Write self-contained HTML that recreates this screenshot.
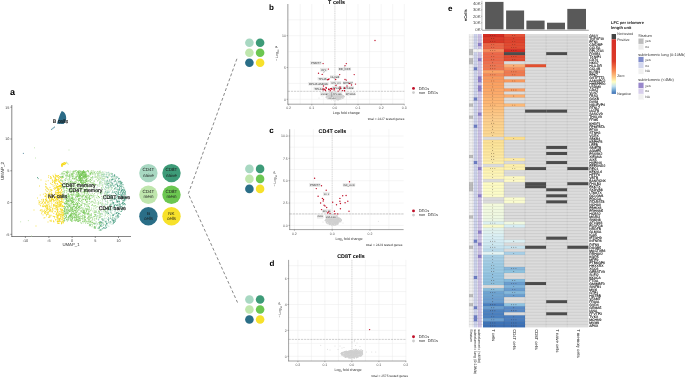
<!DOCTYPE html>
<html><head><meta charset="utf-8"><style>
html,body{margin:0;padding:0;background:#fff;}
svg{display:block;will-change:transform;}
text{font-family:"Liberation Sans", sans-serif;}
</style></head><body>
<svg width="685" height="378" viewBox="0 0 685 378" font-family="Liberation Sans, sans-serif" text-rendering="geometricPrecision">
<rect width="685" height="378" fill="#fff"/>
<text x="9.90" y="95.20" font-size="9" text-anchor="start" font-weight="bold" fill="#000">a</text>
<line x1="11.8" y1="105" x2="11.8" y2="236.8" stroke="#333" stroke-width="0.6"/>
<line x1="11.5" y1="236.5" x2="131" y2="236.5" stroke="#333" stroke-width="0.6"/>
<line x1="10.3" y1="107.2" x2="11.8" y2="107.2" stroke="#333" stroke-width="0.5"/>
<text x="9.40" y="108.55" font-size="3.8" text-anchor="end" fill="#444">15</text>
<line x1="10.3" y1="139" x2="11.8" y2="139" stroke="#333" stroke-width="0.5"/>
<text x="9.40" y="140.35" font-size="3.8" text-anchor="end" fill="#444">10</text>
<line x1="10.3" y1="170.8" x2="11.8" y2="170.8" stroke="#333" stroke-width="0.5"/>
<text x="9.40" y="172.15" font-size="3.8" text-anchor="end" fill="#444">5</text>
<line x1="10.3" y1="202.5" x2="11.8" y2="202.5" stroke="#333" stroke-width="0.5"/>
<text x="9.40" y="203.85" font-size="3.8" text-anchor="end" fill="#444">0</text>
<line x1="10.3" y1="234.3" x2="11.8" y2="234.3" stroke="#333" stroke-width="0.5"/>
<text x="9.40" y="235.65" font-size="3.8" text-anchor="end" fill="#444">-5</text>
<line x1="25.4" y1="236.5" x2="25.4" y2="238" stroke="#333" stroke-width="0.5"/>
<text x="25.40" y="241.90" font-size="3.8" text-anchor="middle" fill="#444">-10</text>
<line x1="48.9" y1="236.5" x2="48.9" y2="238" stroke="#333" stroke-width="0.5"/>
<text x="48.90" y="241.90" font-size="3.8" text-anchor="middle" fill="#444">-5</text>
<line x1="72.1" y1="236.5" x2="72.1" y2="238" stroke="#333" stroke-width="0.5"/>
<text x="72.10" y="241.90" font-size="3.8" text-anchor="middle" fill="#444">0</text>
<line x1="95.3" y1="236.5" x2="95.3" y2="238" stroke="#333" stroke-width="0.5"/>
<text x="95.30" y="241.90" font-size="3.8" text-anchor="middle" fill="#444">5</text>
<line x1="118.5" y1="236.5" x2="118.5" y2="238" stroke="#333" stroke-width="0.5"/>
<text x="118.50" y="241.90" font-size="3.8" text-anchor="middle" fill="#444">10</text>
<text x="71.00" y="246.00" font-size="4.3" text-anchor="middle" fill="#333">UMAP_1</text>
<text x="3.70" y="171.00" font-size="4.5" text-anchor="middle" fill="#333" transform="rotate(-90 3.70 171.00)">UMAP_2</text>
<path d="M61.8,111.0 C64.6,111.8 66.4,115.0 66.2,118.5 C66.0,121.0 64.9,123.0 63.6,123.9 L57.0,123.8 C58.4,119.0 59.8,114.0 61.8,111.0 Z" fill="#2b6b87"/>
<path d="M52.2 199.1h0M59.4 178.3h0M63.2 206.5h0M53.6 176.5h0M53.4 205.8h0M56.6 196.6h0M60.5 209.2h0M47.1 188.1h0M58.9 193.7h0M50.7 177.2h0M59.1 187.1h0M58.7 179.5h0M59.5 182.5h0M44.9 206.0h0M51.3 184.2h0M63.4 214.1h0M61.5 184.1h0M60.8 205.9h0M47.7 212.5h0M48.5 177.2h0M54.8 185.8h0M60.0 186.1h0M58.3 221.0h0M62.9 218.1h0M51.3 178.7h0M57.5 186.5h0M55.1 188.3h0M57.8 177.0h0M54.3 216.5h0M47.9 196.0h0M63.6 206.7h0M54.9 180.6h0M57.4 222.1h0M56.0 197.9h0M61.8 210.7h0M59.5 219.7h0M57.1 219.0h0M54.6 205.1h0M54.8 204.2h0M58.0 193.1h0M47.1 208.8h0M55.5 220.0h0M56.9 183.7h0M61.9 206.8h0M61.6 190.0h0M62.1 218.0h0M54.8 189.5h0M57.6 221.5h0M45.7 196.3h0M57.6 202.3h0M45.0 196.5h0M60.3 185.5h0M55.9 206.6h0M63.1 208.1h0M52.5 182.5h0M52.4 209.6h0M53.4 204.5h0M57.9 180.1h0M55.8 219.5h0M54.5 217.9h0M62.8 196.9h0M56.1 209.7h0M61.8 223.0h0M53.8 213.4h0M62.0 216.7h0M58.9 198.1h0M59.8 176.7h0M57.2 221.3h0M46.9 200.1h0M58.0 205.8h0M60.6 201.8h0M63.3 200.0h0M46.4 200.6h0M54.4 198.3h0M63.1 220.1h0M52.4 179.9h0M59.9 219.0h0M44.3 210.4h0M53.2 186.2h0M53.7 195.6h0M51.1 200.2h0M53.7 216.5h0M60.8 185.2h0M59.8 219.1h0M61.5 180.3h0M58.0 186.6h0M60.3 194.8h0M53.1 208.1h0M54.5 180.9h0M63.8 220.3h0M52.2 212.1h0M52.3 199.5h0M55.2 174.2h0M60.6 182.7h0M58.3 194.0h0M45.6 199.4h0M61.7 214.0h0M60.9 205.3h0M59.7 186.5h0M58.4 212.8h0M57.3 212.2h0M50.9 210.0h0M49.5 197.2h0M49.8 205.8h0M56.7 190.6h0M54.5 200.4h0M58.3 186.5h0M50.3 178.5h0M61.9 201.3h0M63.3 202.2h0M56.0 214.4h0M55.1 211.8h0M52.4 182.0h0M51.3 200.1h0M54.3 187.8h0M45.4 211.6h0M61.7 211.3h0M63.8 221.2h0M61.9 195.2h0M53.5 220.8h0M60.0 204.0h0M55.7 196.5h0M43.1 200.2h0M51.7 207.2h0M47.8 202.9h0M63.0 210.6h0M59.3 205.1h0M48.0 208.1h0M55.0 205.5h0M62.1 217.9h0M51.4 205.0h0M53.9 177.2h0M56.9 201.3h0M50.2 197.7h0M59.8 205.0h0M46.7 194.9h0M59.8 192.1h0M51.4 192.1h0M61.3 177.5h0M54.4 198.0h0M48.6 212.7h0M46.7 206.9h0M48.2 180.7h0M58.0 192.0h0M62.7 219.6h0M59.7 188.9h0M61.7 186.0h0M50.0 191.8h0M50.5 183.3h0M59.5 200.8h0M54.4 182.4h0M61.4 187.7h0M53.3 201.0h0M63.3 206.4h0M58.2 218.9h0M56.0 180.8h0M56.3 185.9h0M58.8 199.8h0M56.8 198.4h0M57.9 209.3h0M51.0 215.2h0M60.8 214.2h0M61.6 221.9h0M51.3 194.7h0M58.3 223.5h0M45.7 183.8h0M46.1 184.5h0M57.8 203.5h0M46.1 187.7h0M58.7 189.2h0M60.0 197.7h0M61.5 219.7h0M54.0 221.8h0M62.8 214.0h0M53.6 199.5h0M57.7 204.1h0M45.5 189.8h0M61.1 199.6h0M53.8 181.1h0M60.6 215.0h0M47.9 209.7h0M54.9 216.8h0M59.4 194.6h0M48.9 189.2h0M49.9 208.2h0M60.3 206.5h0M50.3 209.4h0M54.4 196.6h0M63.8 213.9h0M55.6 188.2h0M53.9 188.6h0M50.6 207.2h0M46.4 210.4h0M62.8 201.9h0M49.3 215.3h0M56.9 209.3h0M50.9 215.8h0M51.4 199.3h0M58.9 215.0h0M49.3 194.3h0M59.4 206.8h0M49.5 206.4h0M60.2 204.4h0M58.9 219.1h0M49.8 198.8h0M57.7 223.3h0M57.7 215.7h0M62.8 205.2h0M54.7 208.7h0M62.4 191.7h0M54.0 201.8h0M63.8 214.8h0M46.1 201.2h0M63.7 220.9h0M52.3 180.7h0M54.5 182.3h0M47.8 202.2h0M56.1 175.4h0M55.2 197.2h0M55.7 208.3h0M60.4 216.7h0M53.6 200.0h0M61.9 189.7h0M58.0 219.0h0M55.1 211.5h0M55.1 177.0h0M51.8 198.9h0M47.3 189.0h0M62.0 222.3h0M61.1 194.8h0M61.9 178.5h0M48.6 189.9h0M61.7 214.7h0M49.8 203.1h0M61.7 183.4h0M49.8 197.4h0M61.4 223.8h0M58.0 189.3h0M61.1 209.5h0M57.3 220.9h0M48.8 209.4h0M59.4 192.3h0M61.5 203.3h0M56.7 187.5h0M51.7 200.2h0M43.0 203.8h0M47.5 214.1h0M48.3 211.7h0M48.1 201.2h0M61.7 223.4h0M52.2 211.4h0M62.4 198.7h0M54.2 206.1h0M56.5 213.0h0M53.1 216.2h0M53.5 221.6h0M59.2 181.8h0M59.3 213.5h0M52.8 184.7h0M53.0 175.3h0M57.7 202.4h0M46.0 181.2h0M52.9 195.4h0M47.8 213.8h0M62.0 202.2h0M59.4 185.5h0M48.8 175.6h0M55.7 200.0h0M45.8 186.4h0M57.2 215.5h0M43.3 194.2h0M52.0 211.1h0M45.1 193.3h0M51.3 177.4h0M63.9 212.0h0M55.4 175.5h0M56.3 176.5h0M57.3 217.2h0M61.5 196.9h0M60.5 192.7h0M46.7 191.0h0M54.1 181.8h0M46.7 197.1h0M56.9 217.1h0M50.0 187.4h0M46.0 186.7h0M62.3 209.6h0M49.1 192.9h0M61.4 189.9h0M53.4 176.3h0M45.3 203.6h0M48.9 194.9h0M45.0 209.2h0M58.0 207.1h0M47.0 188.2h0M63.0 217.4h0M55.9 178.0h0M50.6 176.5h0M49.2 198.6h0M45.5 193.8h0M56.1 207.3h0M56.7 179.5h0M57.7 195.5h0M55.9 203.3h0M61.0 201.8h0M58.1 192.7h0M55.1 194.6h0M59.9 197.7h0M57.5 187.3h0M62.8 202.4h0M56.9 207.4h0M56.2 197.8h0M60.2 221.3h0M57.9 202.9h0M63.3 212.4h0M60.3 205.1h0M58.3 195.2h0M57.1 215.2h0M55.8 199.6h0M57.4 192.5h0M56.3 186.1h0M60.8 186.4h0M58.2 186.6h0M59.1 206.5h0M59.6 205.3h0M59.7 215.3h0M57.7 218.0h0M57.4 209.7h0M61.0 208.3h0M63.5 215.0h0M56.0 205.1h0M59.1 202.3h0M57.9 188.9h0M61.5 200.9h0M56.7 187.1h0M57.5 183.6h0M59.3 181.1h0M55.1 178.3h0M55.5 196.9h0M61.7 198.3h0M56.9 199.6h0M61.9 194.0h0M61.2 187.2h0M61.2 190.9h0M57.6 211.8h0M62.3 215.2h0M59.8 195.4h0M61.1 205.2h0M62.2 213.9h0M55.7 193.3h0M60.7 186.2h0M56.2 175.7h0M59.9 220.6h0M60.9 195.3h0M60.4 194.2h0M63.2 223.0h0M55.6 177.1h0M57.2 210.5h0M57.6 176.3h0M59.5 198.4h0M58.0 190.0h0M61.9 215.7h0M57.1 194.0h0M60.2 212.1h0M61.0 201.5h0M56.1 180.2h0M59.0 180.8h0M57.5 175.9h0M59.8 182.0h0M60.3 188.3h0M56.6 198.4h0M57.9 187.6h0M55.0 178.1h0M55.2 183.9h0M59.0 223.4h0M59.0 195.1h0M62.0 194.2h0M60.6 205.2h0M58.6 215.4h0M61.2 183.5h0M54.7 183.2h0M55.6 178.6h0M57.8 211.5h0M57.4 199.9h0M59.4 214.3h0M61.9 210.7h0M58.2 213.9h0M62.2 212.2h0M61.1 187.1h0M59.9 186.0h0M58.1 192.9h0M60.6 214.3h0M57.9 205.9h0M57.8 188.5h0M55.4 191.2h0M61.4 185.2h0M61.4 201.5h0M60.8 183.6h0M55.5 181.9h0M57.8 195.9h0M58.3 190.6h0M59.5 221.2h0M57.5 211.6h0M58.5 221.7h0M56.5 194.8h0M61.1 183.6h0M57.0 207.8h0M56.2 192.3h0M60.4 193.3h0M60.5 185.3h0M60.2 218.1h0M62.5 205.5h0M59.2 202.5h0M60.9 197.0h0M60.7 195.3h0M58.1 186.2h0M60.1 202.8h0M59.3 176.6h0M60.3 196.7h0M60.0 203.8h0M58.9 223.2h0M61.4 190.2h0M61.4 223.0h0M58.2 217.1h0M59.1 186.4h0M62.3 206.5h0M63.2 215.2h0M61.9 199.8h0M62.6 209.5h0M56.8 214.1h0M58.7 201.0h0M57.1 206.2h0M61.8 198.8h0M56.7 213.8h0M62.5 212.4h0M59.6 218.9h0M57.9 179.9h0M62.5 215.4h0M55.6 183.8h0M58.1 216.2h0M60.2 218.7h0M56.4 205.5h0M62.7 210.3h0M56.3 207.4h0M58.5 175.7h0M57.7 190.3h0M60.4 188.5h0M60.1 208.7h0M56.2 181.2h0M61.0 197.6h0M55.7 180.6h0M57.8 184.5h0M61.3 192.5h0M57.4 194.8h0M55.9 205.6h0M58.4 214.8h0M58.3 197.2h0M59.2 220.7h0M57.7 209.1h0M56.7 203.1h0M57.1 217.3h0M57.2 216.4h0M60.8 197.1h0M61.4 204.2h0M58.7 178.1h0M58.4 188.6h0M58.6 221.3h0M57.2 208.7h0M60.8 186.9h0M58.3 181.4h0M58.4 191.6h0M62.1 216.2h0M60.0 201.5h0M55.3 192.6h0M58.0 210.1h0M60.7 191.7h0M62.9 221.1h0M58.9 192.5h0M58.8 190.3h0M60.7 204.4h0M63.5 222.4h0M62.2 206.5h0M55.1 197.4h0M58.2 206.8h0M56.4 192.9h0M55.8 194.1h0M56.1 206.5h0M60.3 211.0h0M56.9 214.3h0M61.3 212.6h0M55.6 197.7h0M63.3 218.4h0M59.5 200.9h0M57.3 199.6h0M55.7 202.5h0M55.7 179.3h0M59.3 189.3h0M61.7 187.0h0M58.3 177.6h0M56.5 196.9h0M59.7 197.3h0M58.3 204.7h0M62.5 221.7h0M58.3 175.5h0M61.3 209.6h0M56.0 200.8h0M54.8 180.3h0M60.5 216.1h0M55.2 187.7h0M57.6 198.7h0M60.6 218.0h0M59.2 218.8h0M58.2 189.5h0M61.4 187.5h0M57.9 195.8h0M58.9 192.4h0M58.5 196.9h0M59.6 194.4h0M56.6 179.8h0M58.0 190.2h0M59.0 186.2h0M61.5 198.6h0M60.0 221.6h0M57.9 204.0h0M57.9 189.6h0M60.2 203.6h0M57.4 199.1h0M59.3 211.6h0M55.0 179.5h0M56.8 188.1h0M52.0 198.2h0M52.6 197.7h0M46.9 204.3h0M52.3 195.9h0M47.2 207.7h0M51.9 203.4h0M44.5 203.0h0M49.5 210.3h0M53.3 206.1h0M51.4 198.0h0M50.8 211.6h0M51.8 198.6h0M51.5 197.1h0M48.5 198.5h0M45.2 195.7h0M51.3 189.7h0M50.7 201.2h0M47.1 210.9h0M49.6 210.1h0M46.1 198.0h0M49.4 208.1h0M48.3 197.1h0M50.7 210.3h0M48.9 204.5h0M47.9 206.7h0M45.7 202.1h0M46.0 196.3h0M45.6 196.4h0M49.9 200.5h0M47.9 201.8h0M52.4 196.6h0M49.8 199.5h0M51.0 193.6h0M46.6 205.5h0M49.7 194.2h0M47.8 205.2h0M48.3 202.8h0M49.6 211.4h0M53.1 198.9h0M48.9 193.6h0M51.5 190.5h0M47.1 208.3h0M49.7 201.2h0M47.3 191.6h0M52.1 190.3h0M51.8 193.2h0M46.0 200.8h0M50.1 190.9h0M51.6 202.0h0M53.0 210.2h0M50.9 196.7h0M53.5 205.2h0M46.9 208.6h0M51.3 194.4h0M49.4 194.1h0M46.9 194.1h0M45.3 199.6h0M46.7 194.8h0M46.8 200.2h0M52.6 208.5h0M50.1 201.1h0M51.3 200.8h0M50.6 210.1h0M51.8 194.2h0M47.6 206.9h0M46.3 198.9h0M47.7 205.5h0M53.4 200.1h0M49.7 196.4h0M50.6 189.7h0M39.5 186.0h0M40.2 195.0h0M39.0 203.0h0M40.5 210.0h0M41.0 180.0h0M44.0 218.0h0M48.0 222.0h0M37.5 198.0h0M50.0 216.8h0M45.6 206.5h0M45.2 202.7h0M45.1 211.4h0M40.3 205.2h0M43.0 214.9h0M51.2 221.4h0M51.3 220.2h0M50.1 220.4h0M46.5 214.5h0M46.8 212.7h0M38.9 200.7h0M50.2 221.0h0M45.5 211.9h0M48.7 217.4h0M43.0 206.3h0M42.0 212.1h0M45.6 206.0h0M47.6 208.9h0M40.9 201.6h0M41.9 209.5h0M41.7 213.7h0M42.0 210.5h0M41.0 203.6h0M42.6 205.9h0M48.3 214.2h0M41.8 203.2h0M43.5 206.6h0M43.7 201.3h0M49.2 216.8h0M43.6 204.9h0M46.5 215.8h0M44.9 217.6h0M43.6 199.6h0M43.5 200.9h0M39.5 202.4h0M43.2 199.2h0M42.6 202.4h0M40.2 210.6h0M45.8 211.6h0M41.5 199.8h0M40.7 205.9h0M46.2 205.1h0M44.7 212.5h0M39.2 201.9h0M45.2 213.7h0M44.8 202.4h0M39.1 204.3h0M46.9 206.9h0M44.9 213.0h0M42.8 206.6h0M44.1 211.0h0M44.7 206.0h0M42.4 202.1h0M43.2 211.4h0M45.4 207.1h0M42.1 211.8h0M47.0 209.1h0M45.0 213.4h0M49.7 217.2h0M61.8 166.1h0M63.3 164.1h0M63.2 164.3h0M62.0 165.8h0M63.3 163.7h0M65.1 163.0h0M65.2 163.6h0M61.8 166.2h0M62.4 165.6h0M65.5 163.6h0M61.4 165.2h0M64.0 162.8h0M64.7 162.5h0M64.1 164.4h0M62.6 163.8h0M65.1 163.3h0M64.5 164.5h0M62.2 163.4h0M61.4 165.0h0M62.3 166.2h0M65.8 163.5h0M62.3 163.5h0M63.4 164.3h0M63.5 164.3h0M64.8 163.3h0M61.5 164.7h0M62.4 164.5h0M62.8 164.0h0M61.7 164.3h0M66.1 162.8h0M62.9 165.2h0M64.9 164.6h0M65.7 163.4h0M63.5 163.1h0" stroke="#f5d91a" stroke-width="0.95" stroke-linecap="round" fill="none"/>
<path d="M66.5 162.2h0M67.5 163.2h0M68.2 164.2h0M34.5 147.8h0M35.5 158.0h0M20.7 221.8h0M28.3 220.6h0M69.0 150.0h0M31.5 236.0h0" stroke="#b5dfa0" stroke-width="0.95" stroke-linecap="round" fill="none"/>
<path d="M110.7 173.8h0M97.4 228.2h0M112.6 215.2h0M109.9 208.1h0M105.1 212.3h0M104.5 174.3h0M109.0 222.9h0M96.6 190.9h0M102.0 174.3h0M114.7 211.8h0M102.3 171.9h0M118.7 203.9h0M112.5 187.9h0M110.5 197.3h0M119.0 183.2h0M111.7 176.9h0M102.8 193.0h0M117.6 205.2h0M104.2 179.9h0M107.0 190.1h0M108.7 188.7h0M108.0 211.2h0M119.6 186.3h0M114.4 204.7h0M100.1 214.7h0M111.3 179.9h0M124.4 201.3h0M111.1 205.4h0M98.8 174.1h0M103.4 176.2h0M105.8 195.6h0M102.7 189.1h0M99.7 227.1h0M107.6 184.0h0M100.9 193.6h0M111.8 196.8h0M102.7 199.9h0M89.7 201.2h0M102.6 176.6h0M105.4 189.5h0M108.4 185.7h0M115.0 195.7h0M105.1 181.1h0M101.7 179.3h0M114.8 176.7h0M95.4 211.7h0M108.5 177.1h0M115.9 212.9h0M112.1 174.1h0M94.3 188.8h0M112.5 192.1h0M101.8 204.7h0M100.9 182.3h0M101.3 203.9h0M109.0 191.6h0M101.8 226.1h0M111.1 203.0h0M111.2 188.1h0M107.6 204.7h0M97.5 213.1h0M101.6 223.9h0M108.8 175.8h0M105.5 207.5h0M110.3 176.1h0M117.4 186.8h0M125.5 193.1h0M116.0 189.6h0M110.4 218.1h0M117.9 202.5h0M110.1 180.3h0M103.5 174.6h0M105.0 182.0h0M106.2 192.7h0M123.9 200.1h0M93.0 178.0h0M99.0 173.2h0M108.3 182.3h0M113.0 203.3h0M104.7 192.2h0M104.0 176.1h0M102.7 180.4h0M117.3 209.2h0M106.1 174.3h0M110.3 195.4h0M103.4 187.2h0M99.6 223.8h0M105.5 186.3h0M112.8 179.2h0M103.1 172.1h0M118.9 213.9h0M99.8 215.6h0M115.0 192.0h0M117.4 195.1h0M109.0 209.9h0M117.1 198.2h0M105.2 176.7h0M101.4 175.7h0M107.5 201.2h0M103.9 228.5h0M119.9 189.3h0M106.1 180.3h0M107.6 194.0h0M106.4 174.4h0M98.9 175.0h0M110.7 212.3h0M119.0 190.4h0M122.9 205.1h0M104.1 174.8h0M96.4 172.3h0M120.3 182.1h0M106.4 204.4h0M109.4 209.2h0M117.8 180.5h0M101.4 191.4h0M112.8 217.8h0M113.0 177.0h0M105.7 225.0h0M115.5 216.2h0M102.2 219.1h0M105.3 214.0h0M101.8 187.9h0M117.2 208.6h0M112.0 222.0h0M111.6 185.6h0M97.0 216.8h0M105.5 215.4h0M105.3 203.8h0M115.5 180.6h0M123.6 187.1h0M111.4 189.6h0M120.3 192.2h0M120.5 182.9h0M102.8 185.2h0M107.0 212.7h0M105.3 226.7h0M99.8 182.7h0M111.3 213.5h0M113.4 179.6h0M99.4 227.3h0M96.0 215.0h0M104.1 210.0h0M108.9 226.3h0M104.9 199.8h0M102.8 223.2h0M114.9 188.7h0M112.9 217.9h0M111.7 195.8h0M113.9 198.3h0M101.9 173.6h0M121.5 183.4h0M121.6 183.9h0M113.2 185.5h0M116.2 217.7h0M105.7 204.8h0M118.4 194.0h0M111.8 183.3h0M115.0 176.1h0M124.2 190.9h0M117.8 177.1h0M107.8 198.2h0M107.7 172.7h0M105.2 221.5h0M94.9 173.6h0M105.0 218.7h0M107.1 185.2h0M105.9 184.4h0M106.2 193.2h0M99.6 184.2h0M113.8 204.7h0M102.5 219.9h0M108.5 207.5h0M118.1 212.1h0M105.5 190.0h0M117.6 198.0h0M103.7 223.1h0M102.2 201.9h0M102.2 178.0h0M106.6 172.8h0M109.5 183.2h0M115.7 180.7h0M114.4 185.3h0M119.5 194.6h0M123.9 188.3h0M112.8 199.9h0M124.8 189.2h0M103.7 175.9h0M98.8 201.8h0M111.7 193.0h0M101.5 181.2h0M116.5 181.7h0M97.0 187.6h0M115.7 216.6h0M110.9 215.7h0M113.3 195.3h0M115.4 184.7h0M105.7 222.4h0M102.1 219.2h0M119.5 181.1h0M91.3 217.3h0M101.4 216.4h0M109.3 192.0h0M116.3 205.0h0M118.6 182.2h0M99.8 176.2h0M105.1 220.8h0M116.7 183.8h0M118.2 192.5h0M104.3 184.0h0M104.2 173.9h0M119.7 210.2h0M104.6 195.0h0M102.5 214.2h0M106.3 193.0h0M111.1 195.1h0M102.7 223.8h0M119.9 187.3h0M122.8 190.9h0M108.4 191.0h0M103.7 178.4h0M119.1 216.5h0M104.1 218.4h0M107.4 223.3h0M99.7 183.4h0M114.5 192.5h0M97.5 191.6h0M112.1 210.6h0M103.7 219.4h0M100.4 230.0h0M104.4 189.0h0M109.9 214.4h0M99.0 212.3h0M96.6 223.0h0M110.1 190.1h0M104.4 193.6h0M95.3 176.0h0M104.4 197.6h0M107.7 194.1h0M103.0 174.4h0M101.8 213.4h0M110.0 223.8h0M106.8 208.0h0M118.9 211.8h0M117.3 214.8h0M117.1 218.5h0M105.9 208.9h0M121.3 211.3h0M109.0 175.5h0M104.4 180.9h0M120.8 182.4h0M107.6 202.5h0M100.0 175.3h0M108.1 195.3h0M108.6 185.6h0M92.1 173.4h0M97.1 224.6h0M97.3 215.8h0M101.1 194.6h0M111.6 176.4h0M111.3 204.8h0M120.8 182.1h0M102.4 174.9h0M105.0 176.7h0M109.0 222.1h0M118.0 208.6h0M96.5 211.1h0M115.5 211.0h0M100.8 225.7h0M107.8 225.7h0M122.5 186.5h0M102.5 205.4h0M107.5 183.6h0M104.7 210.3h0M101.9 211.7h0M125.9 196.9h0M108.6 185.7h0M123.9 199.6h0M122.7 196.3h0M101.2 214.2h0M122.6 205.9h0M96.3 197.7h0M112.8 191.2h0M126.1 199.8h0M113.3 186.4h0M111.4 200.3h0M122.0 186.6h0M92.2 196.9h0M107.4 194.7h0M106.2 225.4h0M105.5 224.8h0M102.0 198.5h0M119.4 184.0h0M114.0 205.8h0M107.6 177.9h0M115.2 181.2h0M104.7 183.3h0M107.6 212.1h0M107.3 198.6h0M110.8 182.1h0M110.3 198.5h0M106.1 172.3h0M118.3 198.7h0M121.0 185.9h0M114.0 202.4h0M108.3 174.3h0M107.4 210.7h0M100.2 172.4h0M102.8 184.2h0M99.8 217.5h0M96.2 190.2h0M95.8 214.4h0M109.8 186.8h0M106.2 181.9h0M108.1 187.8h0M106.2 174.2h0M105.9 195.4h0M115.0 186.1h0M111.0 198.8h0M100.4 229.5h0M102.0 228.4h0M125.0 205.1h0M108.6 186.7h0M117.6 216.1h0M116.1 202.6h0M106.2 188.2h0M98.7 179.4h0M107.7 180.0h0M113.5 185.3h0M92.7 177.6h0M111.2 197.7h0M105.3 184.5h0M106.7 212.0h0M107.6 185.1h0M119.5 185.5h0M97.9 186.0h0M116.8 196.4h0M110.3 216.1h0M108.9 183.7h0M106.3 218.1h0M109.6 209.0h0M106.8 223.3h0M105.1 197.1h0M115.9 216.7h0M108.6 188.0h0M112.3 192.4h0M107.3 192.0h0M107.8 209.9h0M101.1 193.5h0M109.9 200.4h0M110.3 200.9h0M112.0 224.3h0M100.9 183.5h0M117.7 186.4h0M107.0 188.3h0M115.8 196.9h0M115.2 177.3h0" stroke="#a2d5bd" stroke-width="0.95" stroke-linecap="round" fill="none"/>
<path d="M88.2 176.8h0M97.7 215.5h0M105.0 207.7h0M93.3 195.2h0M103.3 210.9h0M74.3 217.1h0M109.4 205.4h0M64.1 188.5h0M74.3 192.4h0M70.9 186.9h0M85.8 203.9h0M95.7 201.5h0M71.4 208.9h0M104.2 208.4h0M71.5 194.2h0M71.9 197.5h0M89.1 207.0h0M73.1 209.3h0M100.4 217.0h0M102.7 191.7h0M76.2 216.4h0M99.7 171.2h0M110.2 209.5h0M88.4 206.5h0M74.4 185.1h0M61.8 184.7h0M89.2 211.3h0M83.8 209.1h0M90.2 182.8h0M73.9 195.5h0M103.8 173.6h0M100.3 192.4h0M101.2 230.1h0M109.0 173.7h0M92.5 197.4h0M106.4 184.4h0M95.5 173.4h0M63.5 188.2h0M68.7 200.1h0M78.5 196.5h0M90.2 175.2h0M72.5 196.5h0M98.9 186.0h0M104.8 224.4h0M100.2 185.0h0M77.4 192.4h0M97.5 185.3h0M78.5 192.9h0M104.0 204.3h0M87.5 206.8h0M95.9 190.6h0M102.8 222.2h0M84.1 199.4h0M91.6 182.5h0M105.4 184.1h0M91.4 215.1h0M110.8 184.5h0M97.1 209.5h0M88.0 184.8h0M92.5 219.9h0M98.6 213.6h0M67.0 171.9h0M100.1 210.3h0M64.0 196.0h0M77.3 204.1h0M93.8 172.6h0M70.3 172.8h0M87.6 198.0h0M109.0 189.0h0M109.5 206.7h0M61.4 180.1h0M99.8 203.2h0M98.5 211.2h0M67.7 181.0h0M84.7 217.3h0M64.8 218.2h0M64.5 196.5h0M64.1 196.0h0M89.3 180.8h0M75.2 172.0h0M63.8 183.2h0M65.3 208.3h0M114.0 177.8h0M63.1 175.3h0M90.1 218.2h0M62.5 182.4h0M106.2 191.9h0M94.8 176.0h0M100.4 172.6h0M107.1 190.5h0M78.7 200.6h0M72.9 176.4h0M104.1 215.3h0M97.6 171.8h0M110.0 183.9h0M66.7 187.7h0M69.6 172.1h0M89.0 195.3h0M105.6 194.7h0M86.0 197.7h0M100.6 217.5h0M78.5 200.1h0M109.0 197.8h0M88.1 178.4h0M63.5 193.9h0M101.9 172.6h0M108.8 215.2h0M81.3 189.0h0M91.6 220.6h0M97.0 202.7h0M76.3 204.9h0M76.7 193.2h0M108.3 177.8h0M82.1 207.4h0M107.6 209.9h0M107.7 213.4h0M91.7 177.6h0M69.5 195.8h0M101.2 184.0h0M98.2 174.0h0M78.5 181.7h0M81.2 192.6h0M62.2 187.4h0M76.1 181.7h0M109.0 218.9h0M92.8 172.8h0M105.2 213.9h0M95.2 171.5h0M96.9 197.7h0M102.5 213.9h0M71.3 202.2h0M63.7 189.7h0M95.7 208.3h0M111.3 209.7h0M68.2 182.7h0M98.8 228.0h0M73.8 213.2h0M83.5 195.0h0M89.7 203.8h0M88.6 197.8h0M100.2 200.4h0M66.8 199.3h0M67.0 193.3h0M88.9 219.2h0M77.3 184.2h0M72.3 189.9h0M92.7 226.7h0M96.6 225.9h0M62.0 187.5h0M95.9 218.8h0M101.5 174.5h0M88.7 206.8h0M67.4 179.3h0M70.5 189.4h0M78.3 193.2h0M87.2 198.9h0M104.3 189.0h0M86.0 195.4h0M94.5 195.3h0M89.0 193.3h0M84.1 222.0h0M60.4 179.4h0M76.4 192.6h0M71.8 174.9h0M71.7 195.1h0M101.1 172.6h0M80.6 222.1h0M98.3 175.2h0M98.1 176.8h0M71.3 193.1h0M102.6 200.3h0M67.4 186.7h0M89.2 220.2h0M99.6 186.2h0M89.2 199.0h0M67.5 201.8h0M96.0 207.4h0M94.5 223.5h0M107.5 216.4h0M71.0 203.7h0M64.8 182.2h0M87.4 213.6h0M71.9 192.9h0M70.7 191.5h0M80.3 192.0h0M83.5 215.4h0M73.9 204.7h0M87.9 194.7h0M107.6 200.7h0M65.9 208.8h0M82.4 192.7h0M95.8 223.2h0M79.5 220.1h0M108.3 202.8h0M87.7 203.9h0M76.9 183.1h0M89.3 197.7h0M65.9 187.8h0M70.6 184.0h0M97.6 206.5h0M94.3 198.3h0M104.1 205.2h0M99.1 217.3h0M92.4 179.8h0M100.5 181.2h0M77.2 194.4h0M62.4 192.9h0M102.5 220.0h0M114.8 176.4h0M107.8 174.0h0M100.8 222.4h0M68.6 196.1h0M94.1 184.5h0M94.7 223.0h0M75.4 183.1h0M100.3 216.5h0M106.8 201.6h0M68.4 191.4h0M87.5 221.5h0M112.3 216.8h0M88.2 206.5h0M89.7 214.9h0M103.5 179.2h0M114.0 189.5h0M103.6 180.3h0M91.8 183.6h0M90.0 214.2h0M99.8 214.8h0M87.8 198.2h0M71.5 173.8h0M70.6 183.9h0M78.2 193.6h0M75.0 176.8h0M82.0 187.8h0M88.7 217.3h0M84.2 190.6h0M79.8 185.2h0M109.0 195.3h0M63.8 197.7h0M69.1 202.8h0M97.3 185.7h0M107.0 180.5h0M91.0 180.1h0M74.2 187.2h0M81.8 193.0h0M79.9 195.6h0M98.2 204.7h0M89.9 183.1h0M75.2 218.2h0M96.1 188.8h0M87.3 201.4h0M74.3 193.2h0M78.1 214.7h0M62.0 172.8h0M74.5 199.9h0M64.0 173.9h0M95.2 174.9h0M78.2 190.0h0M75.4 209.9h0M78.3 203.4h0M112.5 199.9h0M72.1 173.8h0M79.3 213.5h0M99.8 179.4h0M107.1 182.3h0M106.3 187.6h0M90.0 172.5h0M107.4 194.3h0M105.0 194.2h0M66.6 195.9h0M88.6 190.2h0M91.7 205.3h0M63.6 188.0h0M94.1 184.6h0M75.3 194.2h0M77.4 204.5h0M78.7 194.5h0M68.4 185.3h0M104.7 193.5h0M93.9 208.0h0M97.1 203.7h0M67.1 174.6h0M112.6 217.5h0M79.9 195.6h0M84.9 189.6h0M74.3 210.2h0M86.8 189.6h0M104.8 216.9h0M89.8 223.1h0M76.0 216.1h0M72.7 178.8h0M104.3 205.9h0M90.9 223.2h0M68.7 194.8h0M72.3 176.5h0M76.7 193.9h0M93.0 171.3h0M88.3 175.6h0M63.0 196.7h0M100.2 182.4h0M80.0 188.0h0M68.3 179.0h0M75.0 195.0h0M105.2 212.3h0M71.7 190.7h0M71.5 195.3h0M110.7 203.7h0M94.5 172.0h0M87.3 197.3h0M99.8 206.2h0M93.1 182.9h0M90.1 210.9h0M70.5 194.5h0M90.9 178.2h0M86.5 206.1h0M111.1 173.3h0M68.4 198.0h0M66.8 172.7h0M100.6 171.1h0M93.5 194.8h0M72.6 201.9h0M102.0 185.4h0M100.1 182.7h0M98.2 204.5h0M92.9 224.5h0M101.1 174.8h0M101.2 176.7h0M105.6 192.8h0M88.4 214.1h0M97.9 198.7h0M107.7 214.5h0M98.7 180.2h0M98.0 184.5h0M88.7 213.6h0M94.6 220.4h0M108.4 198.3h0M90.9 202.1h0M87.7 201.1h0M107.6 203.7h0M84.6 194.6h0M83.0 187.0h0M76.3 212.1h0M100.3 181.8h0M64.3 213.4h0M64.4 206.0h0M73.3 178.7h0M88.8 209.5h0M75.3 195.1h0M94.7 224.4h0M71.0 217.0h0M80.5 222.8h0M102.3 185.9h0M94.5 186.4h0M73.0 174.0h0M108.1 194.8h0M94.2 173.0h0M79.1 216.8h0M65.8 179.7h0M111.3 188.3h0M96.5 206.9h0M101.1 177.9h0M98.1 171.4h0M95.0 184.1h0M76.4 185.4h0M68.9 189.1h0M102.2 197.9h0M72.7 176.5h0M110.8 207.1h0M73.0 194.5h0M98.4 172.8h0M76.6 173.1h0M89.2 211.6h0M96.5 211.9h0M109.6 187.4h0M88.2 177.6h0M62.6 186.8h0M63.9 197.9h0M85.8 187.3h0M66.6 215.1h0M70.5 189.1h0M105.5 211.1h0M87.7 195.6h0M96.8 190.7h0M81.5 192.7h0M64.1 197.8h0M75.8 174.5h0M87.9 205.0h0M101.5 177.0h0M100.0 171.3h0M99.9 215.0h0M102.8 182.4h0M102.5 186.9h0M89.0 220.5h0M74.0 188.4h0M102.0 202.7h0M109.9 182.4h0M96.1 176.9h0M101.9 205.4h0M71.4 175.5h0M103.1 223.6h0M71.4 187.0h0M108.3 188.6h0M73.0 175.2h0M64.7 215.9h0M79.4 194.2h0M89.3 215.4h0M106.7 197.5h0M106.6 220.9h0M88.6 194.4h0M86.8 193.8h0M91.4 173.1h0M67.5 176.6h0M66.8 188.6h0M98.0 196.8h0M107.6 210.8h0M100.2 215.0h0M69.8 175.4h0M110.2 190.9h0M69.9 188.7h0M102.1 182.6h0M65.9 211.2h0M66.4 197.5h0M103.0 203.8h0M60.1 174.4h0M96.3 197.3h0M83.3 192.6h0M102.8 178.2h0M88.9 209.1h0M103.9 176.3h0M88.6 172.2h0M78.3 217.9h0M102.6 185.4h0M63.9 220.9h0M111.0 178.8h0M112.5 187.7h0M81.0 204.4h0M99.2 207.8h0M104.7 176.8h0M91.1 195.0h0M100.8 178.5h0M70.0 205.7h0M70.8 215.8h0M105.6 177.9h0M97.6 177.0h0M80.6 187.7h0M110.2 204.0h0M92.4 179.0h0M95.0 177.5h0M94.7 181.8h0M70.8 196.9h0M96.0 210.9h0M75.5 178.7h0M72.1 218.4h0M74.2 212.9h0M104.9 171.9h0M89.8 179.5h0M112.4 195.4h0M72.0 200.6h0M102.2 216.3h0M71.6 173.7h0M86.8 200.8h0M84.3 219.0h0M92.5 217.9h0M82.7 184.2h0M71.8 201.8h0M108.9 208.6h0M96.8 173.4h0M93.9 227.1h0M93.7 183.9h0M98.5 173.6h0M71.8 195.7h0M72.5 219.9h0M94.9 220.4h0M87.7 209.7h0M90.3 194.0h0M92.4 176.4h0M104.6 207.6h0M85.1 221.4h0M95.9 195.6h0M85.3 184.5h0M94.1 197.0h0M74.2 205.2h0M65.4 213.6h0M69.3 188.3h0M74.8 190.6h0M72.4 185.0h0M98.3 215.9h0M94.5 218.5h0M112.0 213.4h0M73.5 191.2h0M110.3 198.6h0M92.8 220.8h0M71.5 181.4h0M64.6 187.0h0M103.0 172.7h0M100.6 173.2h0M70.3 189.7h0M106.2 175.3h0M94.8 212.5h0M99.7 212.3h0M104.4 196.2h0M96.0 212.4h0M103.0 209.5h0M82.3 219.0h0M61.7 173.3h0M96.6 218.9h0M100.5 222.8h0M86.9 221.9h0M107.6 183.3h0M111.1 173.3h0M77.9 184.1h0M98.2 207.1h0M93.9 197.0h0M97.7 200.5h0M104.6 205.7h0M99.4 181.4h0M104.5 183.0h0M95.7 227.7h0M107.7 206.5h0M86.6 204.7h0M70.4 208.8h0M91.3 226.7h0M92.1 197.7h0M103.5 211.8h0M100.6 178.6h0M84.1 194.2h0M67.1 179.7h0M61.9 181.3h0M86.9 218.5h0M92.0 174.3h0M80.0 190.4h0M66.6 205.5h0M82.1 194.1h0M86.7 222.0h0M97.3 178.2h0M109.3 175.8h0M75.4 217.1h0M100.8 194.4h0M107.3 198.5h0M100.5 181.2h0M99.4 211.4h0M62.8 172.1h0M62.9 193.0h0M63.0 200.1h0M69.5 198.0h0M94.0 199.9h0M112.7 179.5h0M93.2 183.7h0M113.4 206.7h0M89.1 175.9h0M65.2 190.5h0M78.9 189.2h0M73.3 211.7h0M101.9 190.5h0M88.8 197.5h0M106.3 211.5h0" stroke="#bfe6ae" stroke-width="0.95" stroke-linecap="round" fill="none"/>
<path d="M63.8 186.7h0M91.0 171.3h0M89.7 199.0h0M86.1 211.0h0M68.2 217.7h0M70.3 208.3h0M82.0 197.0h0M80.8 198.7h0M92.8 195.4h0M85.3 209.1h0M76.7 219.7h0M84.8 220.3h0M92.3 173.9h0M84.1 190.3h0M71.8 198.7h0M84.9 213.3h0M87.4 189.6h0M86.9 181.4h0M62.9 176.3h0M82.2 177.6h0M78.4 217.3h0M76.8 206.8h0M72.9 173.0h0M70.4 220.5h0M99.9 178.1h0M79.9 196.9h0M98.9 210.8h0M72.7 198.4h0M73.1 177.6h0M91.0 178.0h0M88.5 198.0h0M83.9 189.2h0M76.7 219.5h0M78.7 195.7h0M63.3 173.4h0M70.1 204.5h0M77.6 175.2h0M94.6 172.3h0M66.4 190.5h0M96.0 176.9h0M67.4 206.6h0M95.1 174.3h0M76.1 220.3h0M83.0 182.7h0M74.1 182.4h0M64.6 219.1h0M97.5 195.1h0M63.2 177.6h0M77.7 221.3h0M96.3 184.6h0M78.8 205.2h0M91.5 180.4h0M71.0 213.5h0M96.3 218.4h0M88.6 194.6h0M70.2 171.1h0M65.2 185.0h0M88.2 219.8h0M85.4 217.2h0M71.5 174.4h0M65.9 210.4h0M89.3 197.4h0M71.1 188.0h0M90.8 198.6h0M85.0 193.3h0M65.3 218.6h0M86.9 206.3h0M64.4 190.3h0M68.5 200.1h0M95.7 214.8h0M88.9 211.5h0M73.0 200.0h0M64.3 210.3h0M101.0 208.9h0M77.5 192.3h0M76.4 215.6h0M73.9 195.2h0M75.4 171.4h0M76.0 200.5h0M73.1 207.9h0M65.2 207.7h0M91.8 224.3h0M80.8 179.3h0M88.5 175.5h0M88.6 219.7h0M78.6 190.8h0M74.3 173.3h0M85.6 222.0h0M84.2 185.1h0M80.3 190.4h0M64.0 208.2h0M74.6 208.7h0M78.8 214.6h0M91.7 208.1h0M61.2 177.3h0M88.2 221.8h0M79.5 183.5h0M75.2 215.3h0M80.8 205.2h0M82.4 181.2h0M69.4 185.6h0M94.6 193.5h0M67.0 188.7h0M74.9 217.5h0M84.8 203.7h0M102.2 174.6h0M80.4 186.8h0M76.8 209.8h0M67.8 210.5h0M73.5 171.3h0M76.1 217.0h0M77.8 195.3h0M89.5 219.6h0M70.2 183.1h0M72.9 216.0h0M78.7 198.4h0M80.4 201.6h0M97.5 175.3h0M71.0 215.5h0M83.8 174.9h0M94.0 181.1h0M71.8 220.5h0M69.3 195.4h0M90.3 215.3h0M94.2 181.0h0M77.8 174.9h0M87.1 202.6h0M81.2 188.5h0M69.9 192.3h0M80.3 217.9h0M83.2 212.7h0M90.0 198.8h0M71.6 187.3h0M61.9 187.8h0M91.3 214.6h0M82.9 201.2h0M71.5 221.1h0M94.2 211.1h0M72.3 181.7h0M83.3 181.2h0M76.3 178.2h0M74.7 199.1h0M91.8 188.0h0M88.1 215.0h0M74.0 215.5h0M62.5 173.3h0M65.4 182.8h0M63.9 216.1h0M82.5 171.8h0M73.0 191.7h0M69.8 199.6h0M89.2 201.4h0M77.4 217.9h0M71.7 203.2h0M71.6 204.8h0M77.4 171.3h0M87.7 214.2h0M76.7 195.9h0M98.9 228.2h0M73.3 194.1h0M76.0 214.0h0M73.2 186.5h0M96.1 221.6h0M63.1 174.8h0M71.3 182.7h0M100.0 177.6h0M75.6 187.1h0M67.9 170.9h0M92.8 211.0h0M69.5 188.7h0M79.0 176.6h0M101.0 192.3h0M65.4 199.0h0M79.4 200.8h0M69.6 183.2h0M71.0 194.8h0M67.2 198.8h0M64.6 216.6h0M82.7 209.9h0M88.5 221.4h0M104.3 178.4h0M73.2 174.0h0M77.5 196.5h0M83.8 181.0h0M82.6 178.1h0M72.9 189.9h0M66.0 204.1h0M64.0 195.8h0M84.1 215.7h0M75.6 211.6h0M92.4 204.4h0M91.9 177.8h0M63.9 210.9h0M69.0 181.7h0M86.6 183.4h0M60.8 180.6h0M69.1 197.3h0M99.4 182.8h0M65.9 209.7h0M86.6 201.5h0M64.1 212.8h0M83.0 199.5h0M98.7 196.8h0M74.2 204.8h0M81.7 216.3h0M92.6 225.1h0M81.5 207.9h0M84.8 177.3h0M94.1 216.7h0M83.6 191.9h0M87.3 198.8h0M81.1 189.5h0M86.7 197.2h0M67.0 188.5h0M73.1 193.9h0M67.9 201.2h0M80.2 219.7h0M90.4 174.5h0M72.2 200.8h0M83.1 222.9h0M63.9 193.3h0M80.7 213.3h0M94.3 206.0h0M80.0 201.3h0M81.2 181.2h0M85.9 213.4h0M79.8 210.1h0M88.2 213.6h0M66.7 201.4h0M73.2 201.3h0M74.2 217.9h0M61.6 176.9h0M79.2 175.2h0M84.1 219.0h0M64.7 211.4h0M99.0 179.8h0M85.4 219.4h0M82.0 218.5h0M72.0 197.7h0M93.8 209.0h0M87.7 199.5h0M82.1 208.9h0M75.5 207.7h0M73.3 173.0h0M92.2 182.9h0M88.6 217.1h0M68.9 211.8h0M86.7 191.7h0M94.8 214.6h0M85.4 212.6h0M66.4 178.1h0M71.8 182.1h0M90.3 225.7h0M70.9 185.7h0M71.3 173.8h0M87.9 205.1h0M91.9 201.6h0M95.1 223.3h0M87.9 192.3h0M68.2 198.2h0M79.7 208.9h0M99.7 224.0h0M84.1 218.5h0M84.4 211.8h0M64.3 211.7h0M91.0 177.5h0M61.5 176.4h0M84.8 182.3h0M67.9 189.2h0M80.3 176.9h0M99.2 230.2h0M81.4 202.8h0M84.6 212.5h0M90.7 198.4h0M89.2 196.2h0M81.9 204.8h0M62.8 196.3h0M74.2 182.2h0M89.8 221.5h0M90.8 221.6h0M70.0 197.9h0M76.5 212.3h0M88.4 176.4h0M87.3 186.4h0M75.4 183.2h0M61.9 173.9h0M63.7 177.2h0M86.7 221.2h0M80.4 188.8h0M64.0 191.2h0M83.9 218.0h0M84.3 174.6h0M67.7 172.0h0M76.2 177.4h0M85.2 184.6h0M89.4 224.5h0M66.9 194.8h0M74.1 182.4h0M78.1 199.6h0M72.0 201.7h0M82.3 195.4h0M90.1 216.1h0M85.7 223.3h0M76.7 182.4h0M95.2 200.6h0M93.9 184.4h0M98.4 203.3h0M66.1 203.3h0M67.1 196.2h0M81.8 172.3h0M80.3 208.5h0M90.0 218.3h0M76.5 217.2h0M64.9 203.5h0M102.3 203.8h0M79.1 175.9h0M95.4 226.8h0M100.1 223.9h0M86.3 197.2h0M76.1 175.9h0M84.3 213.4h0M72.2 199.2h0M67.3 201.4h0M67.0 188.4h0M75.1 199.2h0M66.4 186.0h0M85.9 184.6h0M75.5 170.5h0M70.4 190.7h0M84.2 195.6h0M86.9 193.2h0M102.7 179.0h0M80.6 176.0h0M86.5 191.5h0M66.3 216.2h0M69.3 198.4h0M82.6 175.5h0M87.2 201.8h0M80.1 187.9h0M79.8 214.2h0M68.1 211.4h0M94.8 214.4h0M76.7 196.4h0M95.1 177.2h0M76.1 179.1h0M68.2 195.2h0M69.6 206.3h0M80.0 213.1h0M75.9 219.5h0M102.0 218.9h0M66.7 192.3h0M81.6 173.4h0M86.5 178.8h0M94.4 191.1h0M67.1 171.1h0M71.6 192.0h0M86.5 174.8h0M72.5 178.6h0M84.6 193.4h0M66.0 203.9h0M70.7 217.3h0M75.2 178.0h0M73.7 171.2h0M73.5 172.7h0M84.9 191.3h0M95.8 192.3h0M72.7 211.6h0M72.5 221.2h0M86.1 172.1h0M83.2 211.2h0M72.1 197.9h0M94.2 183.6h0M86.7 175.9h0M82.0 212.3h0M96.2 179.4h0M94.7 188.2h0M70.4 181.1h0M70.3 215.0h0M94.2 203.1h0M78.9 212.6h0M100.7 214.1h0M77.4 205.5h0M98.6 191.9h0M76.5 170.5h0M85.4 190.7h0M67.4 200.4h0M93.4 216.8h0M94.3 172.5h0M75.8 214.4h0M91.0 202.7h0M87.8 187.0h0M94.3 228.1h0M79.0 181.0h0M84.9 191.3h0M67.6 213.1h0M73.4 194.5h0M77.3 219.8h0M76.3 191.6h0M86.7 221.3h0M64.3 171.4h0M90.6 173.9h0M100.8 193.4h0M78.0 183.2h0M91.5 215.4h0M85.1 197.3h0M66.5 219.7h0M83.1 210.0h0M64.5 208.1h0M94.3 227.9h0M65.7 184.2h0M66.6 219.7h0M83.8 211.0h0M69.6 201.4h0M78.2 196.1h0M82.8 219.7h0M79.8 220.2h0M94.2 219.2h0M67.4 211.6h0M90.0 181.5h0M72.8 209.7h0M61.9 174.1h0M85.0 184.4h0M80.4 182.2h0M76.0 207.9h0M68.1 172.3h0M70.8 218.2h0M72.5 208.8h0M99.0 218.2h0M82.1 195.2h0M87.2 188.0h0M87.4 183.2h0M89.7 176.3h0M89.5 199.2h0M64.7 186.8h0M64.4 208.7h0M86.0 175.3h0M67.6 212.9h0M70.2 183.1h0M87.6 223.4h0M77.0 215.7h0M74.7 171.0h0M90.5 215.0h0M82.0 197.7h0M90.2 210.5h0M95.0 210.4h0M94.9 199.5h0M91.7 170.8h0M71.8 174.6h0M63.3 186.6h0M75.6 177.1h0M70.1 219.9h0M65.3 214.0h0M70.0 179.3h0M87.6 193.0h0M70.5 200.5h0M67.8 194.1h0M70.0 209.5h0M88.2 181.5h0M63.7 171.6h0M80.0 218.7h0M68.2 182.6h0M75.7 204.1h0M99.7 171.6h0M78.8 200.7h0M84.8 198.2h0M79.8 221.0h0M72.1 206.1h0M66.7 199.6h0M97.0 177.0h0M69.5 177.6h0M94.4 226.4h0M95.4 228.5h0M77.5 220.1h0M78.4 180.9h0M96.8 217.1h0M71.1 176.7h0M97.7 223.8h0M86.8 179.7h0M89.2 197.0h0M76.3 194.7h0M87.3 195.9h0M67.4 208.2h0M90.8 185.1h0M92.0 205.5h0M76.2 174.0h0M86.9 180.7h0M68.5 204.1h0M69.2 174.4h0M70.0 200.5h0M85.5 183.5h0M89.8 196.4h0M74.2 179.5h0M65.5 178.4h0M83.5 189.2h0M82.8 176.6h0M72.2 190.6h0M93.3 196.4h0M89.2 174.0h0M79.9 194.3h0M67.1 206.7h0M81.2 207.4h0M74.4 190.0h0M75.2 213.7h0M85.1 214.9h0M76.5 179.4h0M98.8 176.0h0M68.9 203.4h0M75.2 178.8h0M77.8 204.2h0M78.7 183.4h0M79.8 218.3h0M96.8 219.0h0M72.7 185.8h0M76.7 174.1h0M81.0 216.5h0M85.6 171.7h0M65.9 175.1h0M68.0 191.0h0M66.3 172.8h0M76.6 172.4h0M79.3 217.0h0M67.0 191.1h0M74.0 217.3h0M75.3 201.1h0M86.4 195.1h0M68.7 194.8h0M84.2 213.5h0M80.0 206.8h0M71.4 180.2h0M85.2 208.1h0M80.5 216.0h0M72.2 171.4h0M74.0 178.6h0M75.8 177.5h0M60.7 180.3h0M71.2 201.8h0M90.2 179.9h0M92.3 204.8h0M67.6 219.8h0M88.6 186.6h0M87.0 176.3h0M68.4 193.5h0M98.4 202.2h0M98.3 222.5h0M94.3 228.1h0M90.0 221.2h0M95.9 216.3h0M91.3 213.5h0M72.6 194.7h0M75.8 220.8h0M74.2 199.3h0M64.6 192.3h0M76.6 177.2h0M72.1 185.8h0M87.4 192.7h0M80.8 187.0h0M70.8 207.3h0M63.0 181.0h0M77.6 189.2h0M83.7 203.4h0M97.7 171.7h0M60.5 176.8h0M102.2 199.2h0M69.6 216.8h0M104.3 210.8h0M100.8 213.5h0M93.2 170.9h0M68.7 217.7h0M88.3 210.7h0M83.6 185.8h0M84.1 182.3h0M86.5 181.3h0M85.5 183.3h0M78.5 202.3h0M78.1 193.7h0M79.1 187.9h0M66.8 176.9h0M85.9 208.6h0M69.9 200.7h0M72.0 208.9h0M87.6 175.3h0" stroke="#9ad882" stroke-width="0.95" stroke-linecap="round" fill="none"/>
<path d="M116.5 199.8h0M110.7 186.1h0M114.4 221.1h0M100.1 230.2h0M112.8 208.0h0M110.5 206.2h0M123.7 204.2h0M112.9 178.8h0M120.7 181.2h0M118.2 193.4h0M109.1 198.4h0M117.4 185.4h0M108.1 198.4h0M115.9 193.7h0M121.2 188.7h0M102.1 219.0h0M114.7 175.9h0M115.6 193.5h0M117.4 201.2h0M115.4 221.2h0M125.8 198.2h0M90.2 224.8h0M113.1 220.5h0M115.0 219.2h0M121.3 186.8h0M104.7 228.1h0M113.5 223.2h0M110.9 200.2h0M118.8 189.7h0M101.4 222.2h0M123.5 197.6h0M123.6 191.4h0M105.7 211.2h0M113.4 202.6h0M113.4 222.2h0M95.0 227.4h0M117.9 217.3h0M121.6 190.6h0M118.9 178.4h0M112.7 215.2h0M114.2 199.4h0M122.6 209.2h0M123.1 189.8h0M109.1 207.8h0M121.2 184.0h0M114.1 207.4h0M114.9 198.8h0M120.9 197.1h0M106.6 223.6h0M120.6 206.6h0M118.6 217.0h0M115.0 220.4h0M105.4 225.8h0M118.9 181.3h0M123.2 204.0h0M125.1 197.3h0M115.4 209.1h0M105.7 191.7h0M115.0 213.8h0M126.0 197.3h0M114.5 191.9h0M102.7 228.8h0M116.6 194.6h0M121.9 194.5h0M125.3 204.3h0M117.9 192.1h0M118.5 213.6h0M124.9 190.8h0M112.2 183.1h0M119.6 201.7h0M119.1 185.7h0M119.0 200.0h0M121.0 182.1h0M124.7 199.0h0M119.7 189.2h0M117.0 216.2h0M112.6 184.9h0M118.4 179.0h0M117.4 189.9h0M124.5 199.1h0M123.1 192.7h0M107.1 177.4h0M108.4 220.6h0M111.0 182.0h0M121.3 191.1h0M109.7 209.4h0M109.7 196.2h0M120.8 195.7h0M110.1 185.2h0M113.2 207.1h0M113.5 215.6h0M100.5 221.8h0M124.8 200.1h0M119.6 198.6h0M112.4 176.0h0M116.4 213.5h0M122.6 203.8h0M123.9 200.7h0M114.6 175.1h0M114.4 206.5h0M106.2 183.2h0M117.0 189.0h0M113.1 202.6h0M117.3 201.7h0M121.2 190.8h0M114.5 209.7h0M106.4 224.0h0M125.5 191.6h0M121.7 195.6h0M99.7 221.9h0M112.8 183.7h0M99.0 228.5h0M119.3 204.6h0M122.2 192.8h0M110.2 204.5h0M106.7 222.0h0M114.1 199.0h0M119.1 201.6h0M98.7 219.8h0M115.0 181.3h0M102.0 222.7h0M117.0 201.6h0M117.6 196.4h0M118.1 186.6h0M115.9 187.6h0M122.3 196.5h0M111.1 195.5h0M117.1 202.0h0M116.8 200.3h0M119.6 181.9h0M120.3 205.0h0M125.8 197.2h0M112.9 202.8h0M120.3 198.4h0M116.8 184.7h0M123.4 197.9h0M117.8 215.6h0M114.1 181.8h0M105.5 228.2h0M122.8 200.8h0M118.9 209.7h0M119.1 190.2h0M120.1 194.5h0M106.7 227.2h0M107.4 180.9h0M122.5 195.0h0M119.2 188.9h0M117.9 195.7h0M117.3 207.3h0M122.3 207.6h0M115.3 198.9h0M119.8 203.3h0M123.6 202.3h0M107.8 184.0h0M119.2 213.6h0M119.2 197.5h0M112.6 179.6h0M117.6 185.1h0M116.6 205.5h0M112.2 219.4h0M117.7 201.7h0M108.6 213.5h0M105.3 221.7h0M124.0 189.9h0M117.8 186.2h0M125.6 193.0h0M101.1 224.3h0M109.8 194.8h0M113.5 220.4h0M115.4 209.8h0M103.6 225.0h0M101.1 229.9h0M101.0 222.2h0M110.3 218.2h0M115.2 184.3h0M122.9 196.4h0M118.2 215.8h0M122.7 202.7h0M108.7 213.0h0M102.0 226.0h0M122.0 182.7h0M121.9 191.0h0M120.8 192.0h0M116.5 191.7h0M112.3 173.9h0M113.1 214.9h0M114.7 174.9h0M117.4 185.5h0M118.2 181.9h0M100.2 226.2h0M110.3 210.7h0M107.1 223.9h0M118.0 214.2h0M117.1 212.5h0M124.5 203.8h0M110.3 221.6h0M114.8 218.2h0M105.8 187.2h0M115.7 204.7h0M109.5 180.0h0M112.5 197.6h0M95.0 223.9h0M115.0 179.0h0M121.8 203.6h0M124.6 190.1h0M114.4 188.8h0M107.5 192.2h0M115.8 219.3h0M115.1 180.2h0M106.9 176.4h0M122.9 190.3h0M108.7 183.5h0M116.6 176.9h0M114.3 205.6h0M122.6 189.5h0M116.2 178.3h0M120.8 193.1h0M99.3 227.4h0M122.4 193.5h0M120.6 186.4h0M112.7 198.7h0M113.1 219.9h0M113.1 192.7h0M113.8 176.0h0M106.9 213.0h0M111.2 185.1h0M119.5 187.8h0M121.4 198.8h0M116.8 197.7h0M124.6 192.9h0M108.7 219.4h0M118.1 194.3h0M106.6 208.6h0M114.4 205.6h0M115.9 191.9h0M113.9 214.5h0M122.7 198.9h0M121.4 190.0h0M124.4 203.6h0M115.1 188.2h0M118.2 207.3h0M121.4 195.2h0M116.9 212.6h0M109.1 181.3h0M121.1 185.7h0M100.3 225.5h0M110.0 205.5h0M103.8 227.5h0M121.6 183.0h0M106.4 194.9h0M125.0 199.2h0M108.6 217.9h0M113.3 221.6h0M120.7 183.9h0M111.3 179.9h0M125.9 196.1h0M122.6 202.9h0M112.0 179.8h0M118.7 213.5h0M123.8 196.4h0M111.2 187.1h0M121.7 206.5h0" stroke="#3f977c" stroke-width="0.95" stroke-linecap="round" fill="none"/>
<path d="M76.4 218.3h0M78.5 219.2h0M77.5 192.1h0M84.3 210.2h0M75.9 181.1h0M73.7 199.1h0M70.6 191.9h0M95.7 205.7h0M99.5 222.6h0M75.8 188.0h0M80.0 206.2h0M74.1 171.6h0M90.3 225.0h0M81.7 205.4h0M73.9 210.2h0M75.1 181.8h0M69.0 180.2h0M66.6 187.7h0M72.5 209.2h0M69.1 204.8h0M91.0 172.7h0M68.7 194.8h0M76.7 192.5h0M72.7 207.7h0M69.9 174.2h0M64.4 211.4h0M70.4 215.4h0M82.8 199.0h0M65.1 204.1h0M72.3 202.6h0M83.3 172.3h0M74.6 214.2h0M72.5 219.1h0M75.6 214.7h0M78.6 171.3h0M92.2 193.2h0M66.8 172.1h0M80.1 171.5h0M85.7 187.0h0M72.2 202.5h0M78.7 199.9h0M85.0 174.5h0M67.6 213.8h0M82.6 217.1h0M79.0 184.5h0M80.2 220.5h0M76.7 220.2h0M70.5 214.4h0M66.7 209.3h0M100.2 222.9h0M72.9 182.7h0M64.8 184.1h0M72.1 175.1h0M79.0 198.5h0M89.3 209.0h0M77.3 203.5h0M77.6 172.1h0M76.8 216.9h0M75.8 217.7h0M87.7 217.9h0M67.0 183.7h0M83.8 171.1h0M71.0 200.9h0M71.3 187.7h0M94.4 216.3h0M93.2 202.1h0M66.6 216.6h0M78.6 194.1h0M62.7 185.0h0M92.1 201.3h0M71.3 201.2h0M70.4 210.8h0M79.0 220.3h0M81.8 211.4h0M73.8 206.4h0M82.6 178.8h0M68.3 201.2h0M71.0 203.5h0M64.7 173.8h0M84.9 192.2h0M82.9 216.0h0M78.7 207.6h0M80.2 195.5h0M76.2 195.1h0M61.7 184.8h0M87.9 170.7h0M66.6 197.0h0M84.4 204.1h0M101.8 196.4h0M83.0 208.1h0M78.7 184.1h0M92.3 219.0h0M74.5 219.9h0M71.1 211.6h0M85.4 196.3h0M84.0 172.6h0M79.4 203.5h0M66.6 198.1h0M76.6 188.2h0M80.1 171.3h0M73.3 204.5h0M77.2 197.3h0M86.6 179.6h0M78.7 193.5h0M83.0 171.3h0M70.1 198.3h0M83.5 212.7h0M70.3 215.2h0M71.3 213.1h0M83.7 195.4h0M93.1 174.0h0M83.3 199.4h0M88.4 171.6h0M76.7 176.7h0M77.6 203.5h0M77.9 210.7h0M73.1 183.1h0M77.1 180.5h0M78.4 221.0h0M62.4 181.0h0M91.5 195.7h0M95.1 203.0h0M74.9 188.4h0M66.6 215.2h0M84.7 171.7h0M64.2 199.0h0M67.8 207.0h0M94.7 184.7h0M64.1 220.9h0M70.4 219.2h0M66.5 200.5h0M82.5 203.0h0M79.5 177.2h0M75.9 203.3h0M81.1 178.3h0M64.8 220.6h0M84.4 192.6h0M88.4 206.1h0M69.1 209.7h0M78.0 221.3h0M71.2 194.4h0M85.8 204.7h0M72.9 197.5h0M70.4 216.2h0M71.7 208.3h0M70.5 199.3h0M86.1 196.4h0M89.1 203.6h0M64.2 210.8h0M78.7 171.1h0M66.4 210.2h0M77.9 171.9h0M78.2 216.2h0M73.6 190.8h0M68.9 205.6h0M89.8 198.4h0M88.0 209.1h0M69.7 196.4h0M72.6 213.7h0M99.2 226.8h0M86.5 197.9h0M70.1 177.1h0M83.1 175.5h0M85.3 199.5h0M73.7 213.4h0M88.8 212.3h0M67.1 174.1h0M75.7 215.2h0M67.2 198.6h0M71.8 214.5h0M71.5 190.9h0M75.4 220.8h0M90.5 221.3h0M76.9 213.0h0M72.3 216.5h0M79.8 218.6h0M87.1 214.3h0M89.3 225.7h0M81.2 210.6h0M64.3 203.1h0M64.0 191.8h0M73.0 188.2h0M83.9 177.2h0M78.9 200.2h0M78.2 215.0h0M94.6 226.8h0M86.8 209.8h0M78.1 193.3h0M86.9 171.4h0M73.4 192.6h0M107.8 208.1h0M82.0 189.1h0M100.9 192.0h0M68.2 172.1h0M73.7 176.1h0M78.0 196.3h0M62.8 176.5h0M90.5 179.5h0M68.0 200.8h0M67.2 184.4h0M92.8 176.9h0M85.6 217.0h0M66.5 188.3h0M72.4 174.8h0M66.7 212.8h0M86.9 185.1h0M83.1 191.5h0M71.5 219.3h0M66.1 175.3h0M66.8 183.8h0M82.9 196.8h0M72.2 195.6h0M85.5 200.6h0M89.6 207.2h0M95.4 215.0h0M68.2 197.0h0M62.6 176.5h0M78.8 178.3h0M60.3 177.3h0M77.1 184.9h0M68.7 217.4h0M79.8 198.5h0M67.3 175.6h0M99.5 197.6h0M63.4 195.6h0M91.2 209.9h0M66.9 203.6h0M76.9 216.0h0M79.4 177.9h0M78.6 195.4h0M89.0 214.0h0M97.7 180.9h0M88.1 213.5h0M86.4 211.4h0M82.3 173.0h0M65.7 171.9h0M88.1 183.4h0M85.3 199.6h0M78.8 172.4h0M74.6 213.5h0M69.9 215.9h0M65.3 196.3h0M84.4 206.1h0M87.2 209.0h0M72.5 198.6h0M75.6 183.5h0M66.8 219.5h0M79.4 177.4h0M98.9 211.7h0M91.8 222.3h0M85.5 177.2h0M84.6 216.6h0M66.2 217.6h0M88.8 180.5h0M81.1 205.0h0M64.6 218.8h0M66.2 206.5h0M99.2 173.0h0M86.8 208.9h0M67.3 196.9h0M90.8 195.3h0M64.4 206.5h0M66.2 199.7h0M76.2 208.2h0M82.8 196.5h0M99.7 217.1h0M64.2 214.0h0M68.6 219.9h0M76.7 207.0h0M90.5 181.9h0M69.1 190.0h0M69.4 215.4h0M87.9 170.7h0M81.8 200.9h0M85.0 173.0h0M74.9 206.7h0M78.8 178.4h0M86.8 188.8h0M79.0 199.3h0M79.1 179.9h0M81.3 184.4h0M65.1 214.2h0M77.2 176.2h0M98.0 193.1h0M69.7 205.4h0M69.5 176.1h0M96.0 212.2h0M73.0 211.6h0M68.8 176.3h0M73.1 204.5h0M79.1 216.8h0M98.4 196.5h0M83.9 212.8h0M84.2 175.5h0M73.9 206.3h0M78.1 187.6h0M73.3 201.7h0M66.1 211.5h0M97.5 173.9h0M67.5 173.3h0M67.2 218.0h0M83.5 170.5h0M66.0 195.4h0M74.1 204.5h0M94.1 185.7h0M82.0 174.5h0M91.9 217.2h0M89.7 185.7h0M86.2 173.8h0M91.1 190.4h0M64.6 209.4h0M77.0 179.7h0M71.1 215.2h0M65.2 213.4h0M85.6 196.8h0M88.1 218.3h0M72.3 200.9h0M84.3 217.5h0M73.9 212.0h0M84.9 219.8h0M64.7 179.9h0M78.7 209.2h0M81.0 171.2h0M66.0 176.0h0M65.6 201.8h0M66.5 202.2h0M91.9 186.4h0M74.1 184.0h0M83.3 213.0h0M86.9 213.0h0M83.2 187.7h0M83.3 221.2h0M83.4 174.3h0M81.2 196.4h0M71.4 213.0h0M83.9 177.9h0M86.9 180.9h0M68.3 201.5h0M85.5 220.1h0M69.4 211.5h0M76.0 196.6h0M100.4 202.9h0M75.4 197.7h0M86.3 202.3h0M90.0 222.4h0M87.3 178.8h0M83.8 212.0h0M77.9 176.4h0M68.7 216.7h0M68.1 184.2h0M101.1 226.2h0M70.5 181.5h0M91.8 172.5h0M84.1 210.8h0M63.1 187.9h0M83.3 183.6h0M84.8 214.7h0M77.8 217.1h0M68.1 200.6h0M79.1 196.3h0M72.7 207.8h0M82.2 185.5h0M89.6 199.4h0M93.8 223.5h0M71.6 221.0h0M80.8 211.2h0M73.7 204.0h0M62.5 177.4h0M73.0 199.4h0M94.9 212.2h0M86.9 181.3h0M87.3 191.6h0M64.8 208.8h0M82.7 212.3h0M66.7 172.6h0M87.2 176.4h0M74.1 206.2h0M65.5 217.6h0M68.7 213.8h0M83.6 210.8h0M74.3 216.6h0M79.0 218.3h0M79.8 170.7h0M85.2 190.3h0M70.0 175.3h0M69.0 199.7h0M98.1 178.2h0M72.3 176.6h0M65.4 180.4h0M81.7 200.2h0M77.0 219.5h0M69.6 178.8h0M67.3 221.0h0M78.0 180.1h0M76.7 199.1h0M71.7 214.8h0M86.1 190.2h0M70.0 189.3h0M85.0 213.2h0M81.3 181.2h0M81.6 175.2h0M80.0 178.3h0M65.6 212.9h0M77.4 195.0h0M77.5 196.4h0M70.3 183.0h0M90.2 173.9h0M93.1 183.0h0M74.1 220.6h0M81.4 223.1h0M72.7 218.3h0M64.7 203.1h0M88.2 223.2h0M75.7 204.5h0M71.4 186.3h0M93.1 222.9h0M82.3 215.1h0M74.3 178.5h0M76.0 208.4h0M83.9 182.1h0M74.3 202.3h0M93.9 205.9h0M71.6 191.8h0M69.4 206.6h0M72.0 197.2h0M69.0 176.0h0M68.3 209.0h0M83.0 171.8h0M76.1 185.6h0M78.3 221.4h0M82.6 221.4h0M75.8 189.8h0M81.5 175.5h0M77.6 204.8h0M66.0 215.6h0M88.8 216.4h0M78.8 214.1h0M90.3 173.5h0M68.5 218.9h0M78.9 195.2h0M68.1 212.5h0M92.4 222.4h0M90.2 217.8h0M67.3 204.6h0M71.5 210.0h0M71.5 198.5h0M63.0 196.7h0M72.3 173.2h0M79.4 180.5h0M68.6 196.5h0M84.6 221.3h0M86.3 210.4h0M86.0 199.4h0M101.4 188.0h0M89.4 195.9h0M69.5 210.8h0M99.3 213.2h0M73.6 201.2h0M89.2 216.8h0M70.9 207.3h0M84.2 211.9h0M77.8 201.9h0M72.3 178.2h0M94.0 212.9h0M82.0 218.6h0M71.8 210.2h0M79.8 172.8h0M84.0 172.3h0M80.1 175.0h0M82.4 179.9h0M85.4 173.1h0M84.9 172.8h0M80.4 173.7h0M78.2 173.1h0M79.0 176.6h0M84.9 173.0h0M83.8 183.1h0M81.2 173.0h0M80.4 182.1h0M81.1 178.4h0M83.2 177.0h0M85.4 174.5h0M80.8 175.0h0M83.1 172.4h0M80.5 176.6h0M82.7 173.9h0M86.0 174.5h0M83.0 173.6h0M79.1 180.4h0M80.0 178.9h0M80.0 174.2h0M84.6 176.5h0M85.4 180.1h0M85.0 176.9h0M80.8 179.2h0M81.6 174.2h0M78.1 173.7h0M81.9 175.2h0M84.7 178.5h0M78.5 172.8h0M78.2 174.8h0M85.1 180.0h0M84.1 177.1h0M85.7 175.2h0M83.1 172.3h0M81.9 171.6h0M79.0 172.3h0M83.1 179.0h0M81.8 183.5h0M85.9 175.6h0M78.6 173.0h0M83.8 176.1h0M85.6 177.8h0M86.5 176.5h0M80.1 176.7h0M80.6 176.4h0M85.2 182.4h0M84.3 171.9h0M79.9 174.1h0M85.7 175.2h0M83.4 183.2h0M80.5 181.0h0M82.8 174.7h0M81.4 182.5h0M81.2 178.0h0M83.0 173.2h0M84.7 172.9h0M85.4 176.2h0M83.2 180.7h0M82.5 177.0h0M80.8 181.8h0M78.7 172.5h0M79.5 180.5h0M85.2 176.2h0M80.2 177.2h0M78.5 174.0h0M81.8 183.4h0M79.5 175.9h0M80.5 178.6h0M85.5 180.5h0M83.8 176.4h0M80.4 180.0h0M82.1 172.6h0M82.1 180.3h0M81.5 180.6h0M86.3 179.3h0M80.1 172.6h0M78.4 177.4h0M83.2 171.6h0M79.6 178.0h0M81.3 174.2h0M80.9 174.9h0M81.2 177.4h0M85.5 182.0h0M83.9 174.0h0M85.2 176.6h0M79.7 174.0h0M79.5 176.3h0M86.5 177.4h0M84.6 175.3h0M81.9 180.3h0M79.7 175.9h0M79.2 175.3h0M80.7 180.0h0M79.8 175.8h0M79.6 179.7h0M80.7 178.2h0M80.1 180.6h0M80.1 175.0h0M81.0 179.9h0M80.9 182.5h0M84.8 182.4h0M82.5 182.7h0M85.8 175.8h0M84.0 180.8h0M82.8 172.3h0M82.4 173.5h0M81.6 175.2h0M83.4 176.4h0M81.6 180.9h0M84.2 172.3h0M83.6 172.5h0M86.2 181.6h0M83.2 177.2h0M81.1 179.0h0M82.3 183.5h0M77.7 206.1h0M68.2 205.2h0M75.8 210.5h0M68.2 207.2h0M73.2 206.5h0M66.5 203.5h0M71.5 217.0h0M75.3 207.5h0M71.2 200.4h0M66.8 212.9h0M70.5 209.1h0M70.2 215.3h0M74.9 217.9h0M76.6 212.1h0M79.6 206.4h0M76.7 206.0h0M66.4 200.2h0M79.3 207.7h0M76.3 209.8h0M79.0 206.4h0M74.3 210.3h0M78.8 207.5h0M70.7 206.0h0M66.9 213.5h0M71.8 217.2h0M69.0 216.2h0M68.0 207.0h0M73.0 211.7h0M67.3 209.7h0M73.2 202.8h0M72.2 210.3h0M70.0 211.1h0M76.7 214.4h0M72.7 209.7h0M71.1 207.4h0M72.1 213.5h0M78.5 207.2h0M72.9 202.7h0M65.9 203.6h0M72.6 202.6h0M75.4 212.7h0M73.3 214.5h0M69.8 218.1h0M75.0 210.6h0M74.1 217.6h0M65.6 207.3h0M76.5 207.2h0M78.1 210.1h0M72.8 217.5h0M68.5 210.5h0M70.1 216.4h0M77.4 208.4h0M76.5 202.6h0M72.4 218.6h0M66.9 203.2h0M71.9 215.4h0M76.9 204.4h0M75.3 210.6h0M77.6 211.7h0M67.7 203.0h0" stroke="#74c652" stroke-width="0.95" stroke-linecap="round" fill="none"/>
<path d="M114.3 222.5h0M118.9 206.0h0M111.7 174.1h0M109.6 174.2h0M123.0 207.8h0M118.3 192.2h0M112.0 204.1h0M114.3 222.4h0M121.5 211.5h0M108.9 222.1h0M100.5 225.6h0M117.7 177.2h0M111.1 212.2h0M124.4 193.8h0M120.3 204.7h0M118.3 191.3h0M120.3 214.4h0M108.0 187.3h0M107.4 177.4h0M108.8 192.6h0M123.3 200.7h0M111.3 182.8h0M122.4 197.1h0M120.8 183.9h0M111.8 177.0h0M125.7 194.6h0M106.9 185.1h0M108.8 172.3h0M123.5 192.2h0M116.8 183.0h0M113.9 186.2h0M120.9 211.5h0M123.0 184.8h0M122.9 192.6h0M117.0 183.2h0M118.2 193.3h0M110.8 222.7h0M119.1 201.6h0M119.3 178.6h0M103.8 220.2h0M119.6 189.8h0M119.8 205.2h0M124.8 200.2h0M121.8 187.8h0M106.9 181.7h0M117.2 204.9h0M123.5 194.2h0M102.9 220.7h0M118.9 192.5h0M99.2 227.4h0M124.2 194.5h0M117.9 205.6h0M112.1 209.0h0M99.2 224.0h0M117.8 204.6h0M112.8 191.0h0M122.9 184.7h0M122.3 210.1h0M112.4 201.1h0M123.8 187.7h0M121.9 182.8h0M119.0 194.5h0M112.2 220.6h0M124.2 197.5h0M124.8 192.6h0M103.6 227.8h0M113.8 203.8h0M120.7 181.6h0M107.9 219.3h0M121.7 210.0h0M106.6 227.7h0M120.3 208.4h0M111.8 219.0h0M118.8 201.3h0M113.1 223.7h0M112.9 217.9h0M117.2 215.7h0M124.4 206.9h0M113.3 203.5h0M105.6 201.1h0" stroke="#62ae92" stroke-width="0.95" stroke-linecap="round" fill="none"/>
<path d="M51.5 129.4h0M52.3 128.8h0M53.1 128.2h0M53.9 127.6h0M54.6 127.0h0" stroke="#3a7f96" stroke-width="0.95" stroke-linecap="round" fill="none"/>
<path d="M23.3 153.4h0" stroke="#2a6a86" stroke-width="0.95" stroke-linecap="round" fill="none"/>
<path d="M37.5 177.5h0M38.2 178.6h0" stroke="#3b9477" stroke-width="0.95" stroke-linecap="round" fill="none"/>
<path d="M34.0 210.0h0M36.0 226.0h0" stroke="#f3dc1e" stroke-width="0.95" stroke-linecap="round" fill="none"/>
<text x="60.40" y="123.00" font-size="5.2" text-anchor="middle" fill="#1a1a1a" stroke="#1a1a1a" stroke-width="0.18">B cells</text>
<text x="57.50" y="197.50" font-size="5.2" text-anchor="middle" fill="#1a1a1a" stroke="#1a1a1a" stroke-width="0.18">NK cells</text>
<text x="78.80" y="187.30" font-size="5.2" text-anchor="middle" fill="#1a1a1a" stroke="#1a1a1a" stroke-width="0.18">CD8T memory</text>
<text x="85.60" y="192.30" font-size="5.2" text-anchor="middle" fill="#1a1a1a" stroke="#1a1a1a" stroke-width="0.18">CD4T memory</text>
<text x="116.50" y="198.70" font-size="5.2" text-anchor="middle" fill="#1a1a1a" stroke="#1a1a1a" stroke-width="0.18">CD8T naive</text>
<text x="112.30" y="209.60" font-size="5.2" text-anchor="middle" fill="#1a1a1a" stroke="#1a1a1a" stroke-width="0.18">CD4T naive</text>
<circle cx="148.4" cy="173.1" r="9.2" fill="#a8d8c2"/>
<text x="148.40" y="171.30" font-size="4.5" text-anchor="middle" fill="#1a1a1a">CD4T</text>
<text x="148.40" y="176.70" font-size="4.5" text-anchor="middle" fill="#1a1a1a">naive</text>
<circle cx="171.5" cy="173.1" r="9.2" fill="#3d9b78"/>
<text x="171.50" y="171.30" font-size="4.5" text-anchor="middle" fill="#1a1a1a">CD8T</text>
<text x="171.50" y="176.70" font-size="4.5" text-anchor="middle" fill="#1a1a1a">naive</text>
<circle cx="148.4" cy="194.7" r="9.2" fill="#bfe6ad"/>
<text x="148.40" y="192.90" font-size="4.5" text-anchor="middle" fill="#1a1a1a">CD4T</text>
<text x="148.40" y="198.30" font-size="4.5" text-anchor="middle" fill="#1a1a1a">mem</text>
<circle cx="171.5" cy="194.7" r="9.2" fill="#6cc751"/>
<text x="171.50" y="192.90" font-size="4.5" text-anchor="middle" fill="#1a1a1a">CD8T</text>
<text x="171.50" y="198.30" font-size="4.5" text-anchor="middle" fill="#1a1a1a">mem</text>
<circle cx="148.4" cy="216.3" r="9.2" fill="#2a6e87"/>
<text x="148.40" y="214.50" font-size="4.5" text-anchor="middle" fill="#1a1a1a">B</text>
<text x="148.40" y="219.90" font-size="4.5" text-anchor="middle" fill="#1a1a1a">cells</text>
<circle cx="171.5" cy="216.3" r="9.2" fill="#f7e12b"/>
<text x="171.50" y="214.50" font-size="4.5" text-anchor="middle" fill="#1a1a1a">NK</text>
<text x="171.50" y="219.90" font-size="4.5" text-anchor="middle" fill="#1a1a1a">cells</text>
<polyline points="236.9,58.8 188.3,193.8 237.5,302.5" fill="none" stroke="#555" stroke-width="0.7" stroke-dasharray="3,2.2"/>
<circle cx="249.40" cy="42.80" r="4.3" fill="#a8d8c2"/>
<circle cx="260.10" cy="42.80" r="4.3" fill="#3d9b78"/>
<circle cx="249.40" cy="52.80" r="4.3" fill="#bfe6ad"/>
<circle cx="260.10" cy="52.80" r="4.3" fill="#6cc751"/>
<circle cx="249.40" cy="62.80" r="4.3" fill="#2a6e87"/>
<circle cx="260.10" cy="62.80" r="4.3" fill="#f7e12b"/>
<circle cx="249.40" cy="168.90" r="4.3" fill="#a8d8c2"/>
<circle cx="260.10" cy="168.90" r="4.3" fill="#3d9b78"/>
<circle cx="249.40" cy="178.90" r="4.3" fill="#bfe6ad"/>
<circle cx="260.10" cy="178.90" r="4.3" fill="#6cc751"/>
<circle cx="249.40" cy="188.90" r="4.3" fill="#2a6e87"/>
<circle cx="260.10" cy="188.90" r="4.3" fill="#f7e12b"/>
<circle cx="249.40" cy="299.50" r="4.3" fill="#a8d8c2"/>
<circle cx="260.10" cy="299.50" r="4.3" fill="#3d9b78"/>
<circle cx="249.40" cy="309.50" r="4.3" fill="#bfe6ad"/>
<circle cx="260.10" cy="309.50" r="4.3" fill="#6cc751"/>
<circle cx="249.40" cy="319.50" r="4.3" fill="#2a6e87"/>
<circle cx="260.10" cy="319.50" r="4.3" fill="#f7e12b"/>
<line x1="288.64" y1="4.0" x2="288.64" y2="104.2" stroke="#ebebeb" stroke-width="0.5"/>
<line x1="300.20" y1="4.0" x2="300.20" y2="104.2" stroke="#ebebeb" stroke-width="0.5"/>
<line x1="311.77" y1="4.0" x2="311.77" y2="104.2" stroke="#ebebeb" stroke-width="0.5"/>
<line x1="323.33" y1="4.0" x2="323.33" y2="104.2" stroke="#ebebeb" stroke-width="0.5"/>
<line x1="334.90" y1="4.0" x2="334.90" y2="104.2" stroke="#ebebeb" stroke-width="0.5"/>
<line x1="346.46" y1="4.0" x2="346.46" y2="104.2" stroke="#ebebeb" stroke-width="0.5"/>
<line x1="358.03" y1="4.0" x2="358.03" y2="104.2" stroke="#ebebeb" stroke-width="0.5"/>
<line x1="369.59" y1="4.0" x2="369.59" y2="104.2" stroke="#ebebeb" stroke-width="0.5"/>
<line x1="381.16" y1="4.0" x2="381.16" y2="104.2" stroke="#ebebeb" stroke-width="0.5"/>
<line x1="392.72" y1="4.0" x2="392.72" y2="104.2" stroke="#ebebeb" stroke-width="0.5"/>
<line x1="404.29" y1="4.0" x2="404.29" y2="104.2" stroke="#ebebeb" stroke-width="0.5"/>
<line x1="287.8" y1="99.30" x2="404.3" y2="99.30" stroke="#ebebeb" stroke-width="0.5"/>
<line x1="287.8" y1="83.40" x2="404.3" y2="83.40" stroke="#ebebeb" stroke-width="0.5"/>
<line x1="287.8" y1="67.50" x2="404.3" y2="67.50" stroke="#ebebeb" stroke-width="0.5"/>
<line x1="287.8" y1="51.60" x2="404.3" y2="51.60" stroke="#ebebeb" stroke-width="0.5"/>
<line x1="287.8" y1="35.70" x2="404.3" y2="35.70" stroke="#ebebeb" stroke-width="0.5"/>
<line x1="287.8" y1="19.80" x2="404.3" y2="19.80" stroke="#ebebeb" stroke-width="0.5"/>
<line x1="334.90" y1="4.0" x2="334.90" y2="104.2" stroke="#bbb" stroke-width="0.5" stroke-dasharray="1,0.8"/>
<line x1="287.8" y1="91.30" x2="404.3" y2="91.30" stroke="#8a8a8a" stroke-width="0.42" stroke-dasharray="2.2,0.9"/>
<ellipse cx="335" cy="97.04" rx="7.60" ry="2.70" fill="#d6d6d6"/>
<circle cx="330.0" cy="96.8" r="0.5" fill="#cfcfcf"/>
<circle cx="332.5" cy="97.2" r="0.5" fill="#cfcfcf"/>
<circle cx="337.4" cy="94.6" r="0.5" fill="#cfcfcf"/>
<circle cx="330.4" cy="95.4" r="0.5" fill="#cfcfcf"/>
<circle cx="344.4" cy="96.4" r="0.5" fill="#cfcfcf"/>
<circle cx="341.4" cy="96.4" r="0.5" fill="#cfcfcf"/>
<circle cx="337.6" cy="95.0" r="0.5" fill="#cfcfcf"/>
<circle cx="337.6" cy="99.1" r="0.5" fill="#cfcfcf"/>
<circle cx="335.4" cy="98.2" r="0.5" fill="#cfcfcf"/>
<circle cx="338.3" cy="94.6" r="0.5" fill="#cfcfcf"/>
<circle cx="339.9" cy="97.2" r="0.5" fill="#cfcfcf"/>
<circle cx="341.9" cy="96.4" r="0.5" fill="#cfcfcf"/>
<circle cx="339.2" cy="99.2" r="0.5" fill="#cfcfcf"/>
<circle cx="339.1" cy="99.5" r="0.5" fill="#cfcfcf"/>
<circle cx="333.0" cy="98.7" r="0.5" fill="#cfcfcf"/>
<circle cx="333.9" cy="99.6" r="0.5" fill="#cfcfcf"/>
<circle cx="328.1" cy="95.3" r="0.5" fill="#cfcfcf"/>
<circle cx="343.8" cy="96.2" r="0.5" fill="#cfcfcf"/>
<circle cx="337.4" cy="95.6" r="0.5" fill="#cfcfcf"/>
<circle cx="335.1" cy="96.0" r="0.5" fill="#cfcfcf"/>
<circle cx="332.2" cy="97.1" r="0.5" fill="#cfcfcf"/>
<circle cx="336.6" cy="99.4" r="0.5" fill="#cfcfcf"/>
<circle cx="338.5" cy="99.6" r="0.5" fill="#cfcfcf"/>
<circle cx="338.3" cy="95.0" r="0.5" fill="#cfcfcf"/>
<circle cx="342.7" cy="97.0" r="0.5" fill="#cfcfcf"/>
<circle cx="339.1" cy="95.3" r="0.5" fill="#cfcfcf"/>
<circle cx="341.3" cy="97.0" r="0.5" fill="#cfcfcf"/>
<circle cx="330.9" cy="94.6" r="0.5" fill="#cfcfcf"/>
<circle cx="333.3" cy="95.0" r="0.5" fill="#cfcfcf"/>
<circle cx="331.1" cy="98.4" r="0.5" fill="#cfcfcf"/>
<circle cx="337.2" cy="94.5" r="0.5" fill="#cfcfcf"/>
<circle cx="339.2" cy="95.8" r="0.5" fill="#cfcfcf"/>
<circle cx="335.1" cy="100.1" r="0.5" fill="#cfcfcf"/>
<circle cx="331.4" cy="94.7" r="0.5" fill="#cfcfcf"/>
<circle cx="336.9" cy="94.5" r="0.5" fill="#cfcfcf"/>
<circle cx="329.3" cy="96.1" r="0.5" fill="#cfcfcf"/>
<circle cx="337.1" cy="95.0" r="0.5" fill="#cfcfcf"/>
<circle cx="331.5" cy="99.8" r="0.5" fill="#cfcfcf"/>
<circle cx="342.5" cy="96.0" r="0.5" fill="#cfcfcf"/>
<circle cx="334.2" cy="96.6" r="0.5" fill="#cfcfcf"/>
<circle cx="337.7" cy="97.2" r="0.5" fill="#cfcfcf"/>
<circle cx="336.1" cy="97.4" r="0.5" fill="#cfcfcf"/>
<circle cx="343.4" cy="96.6" r="0.5" fill="#cfcfcf"/>
<circle cx="333.7" cy="98.1" r="0.5" fill="#cfcfcf"/>
<circle cx="330.0" cy="95.6" r="0.5" fill="#cfcfcf"/>
<circle cx="344.1" cy="96.7" r="0.5" fill="#cfcfcf"/>
<circle cx="335.9" cy="94.4" r="0.5" fill="#cfcfcf"/>
<circle cx="333.4" cy="97.1" r="0.5" fill="#cfcfcf"/>
<circle cx="325.9" cy="97.3" r="0.5" fill="#cfcfcf"/>
<circle cx="337.5" cy="94.6" r="0.5" fill="#cfcfcf"/>
<circle cx="337.4" cy="96.4" r="0.5" fill="#cfcfcf"/>
<circle cx="338.4" cy="95.9" r="0.5" fill="#cfcfcf"/>
<circle cx="338.9" cy="98.2" r="0.5" fill="#cfcfcf"/>
<circle cx="338.3" cy="99.8" r="0.5" fill="#cfcfcf"/>
<circle cx="330.3" cy="96.3" r="0.5" fill="#cfcfcf"/>
<circle cx="336.8" cy="95.7" r="0.5" fill="#cfcfcf"/>
<circle cx="332.4" cy="95.7" r="0.5" fill="#cfcfcf"/>
<circle cx="332.5" cy="97.2" r="0.5" fill="#cfcfcf"/>
<circle cx="331.2" cy="96.0" r="0.5" fill="#cfcfcf"/>
<circle cx="336.3" cy="98.2" r="0.5" fill="#cfcfcf"/>
<circle cx="331.4" cy="95.3" r="0.5" fill="#cfcfcf"/>
<circle cx="340.8" cy="95.4" r="0.5" fill="#cfcfcf"/>
<circle cx="329.1" cy="96.2" r="0.5" fill="#cfcfcf"/>
<circle cx="338.8" cy="94.8" r="0.5" fill="#cfcfcf"/>
<circle cx="331.6" cy="95.8" r="0.5" fill="#cfcfcf"/>
<circle cx="341.3" cy="96.2" r="0.5" fill="#cfcfcf"/>
<circle cx="341.8" cy="95.1" r="0.5" fill="#cfcfcf"/>
<circle cx="331.9" cy="97.6" r="0.5" fill="#cfcfcf"/>
<circle cx="342.3" cy="96.3" r="0.5" fill="#cfcfcf"/>
<circle cx="329.8" cy="94.9" r="0.5" fill="#cfcfcf"/>
<circle cx="335.6" cy="95.2" r="0.5" fill="#cfcfcf"/>
<circle cx="340.8" cy="98.9" r="0.5" fill="#cfcfcf"/>
<circle cx="329.0" cy="95.5" r="0.5" fill="#cfcfcf"/>
<circle cx="340.8" cy="97.5" r="0.5" fill="#cfcfcf"/>
<circle cx="340.8" cy="95.8" r="0.5" fill="#cfcfcf"/>
<circle cx="328.0" cy="95.6" r="0.5" fill="#cfcfcf"/>
<circle cx="340.6" cy="95.5" r="0.5" fill="#cfcfcf"/>
<circle cx="332.1" cy="96.1" r="0.5" fill="#cfcfcf"/>
<circle cx="333.5" cy="96.1" r="0.5" fill="#cfcfcf"/>
<circle cx="333.8" cy="99.7" r="0.5" fill="#cfcfcf"/>
<circle cx="339.7" cy="98.9" r="0.5" fill="#cfcfcf"/>
<circle cx="338.1" cy="96.6" r="0.5" fill="#cfcfcf"/>
<circle cx="331.0" cy="95.8" r="0.5" fill="#cfcfcf"/>
<circle cx="336.7" cy="95.6" r="0.5" fill="#cfcfcf"/>
<circle cx="342.7" cy="97.9" r="0.5" fill="#cfcfcf"/>
<circle cx="342.6" cy="97.1" r="0.5" fill="#cfcfcf"/>
<circle cx="328.8" cy="95.6" r="0.5" fill="#cfcfcf"/>
<circle cx="338.1" cy="96.7" r="0.5" fill="#cfcfcf"/>
<circle cx="333.4" cy="99.7" r="0.5" fill="#cfcfcf"/>
<circle cx="337.1" cy="95.8" r="0.5" fill="#cfcfcf"/>
<circle cx="330.3" cy="99.1" r="0.5" fill="#cfcfcf"/>
<circle cx="334.6" cy="98.5" r="0.5" fill="#cfcfcf"/>
<circle cx="332.2" cy="95.2" r="0.5" fill="#cfcfcf"/>
<circle cx="335.7" cy="98.8" r="0.5" fill="#cfcfcf"/>
<circle cx="328.8" cy="98.6" r="0.5" fill="#cfcfcf"/>
<circle cx="337.4" cy="99.1" r="0.5" fill="#cfcfcf"/>
<circle cx="330.6" cy="96.7" r="0.5" fill="#cfcfcf"/>
<circle cx="333.5" cy="96.4" r="0.5" fill="#cfcfcf"/>
<circle cx="327.1" cy="96.5" r="0.5" fill="#cfcfcf"/>
<circle cx="331.5" cy="95.7" r="0.5" fill="#cfcfcf"/>
<circle cx="332.2" cy="97.6" r="0.5" fill="#cfcfcf"/>
<circle cx="336.6" cy="95.9" r="0.5" fill="#cfcfcf"/>
<circle cx="329.1" cy="95.8" r="0.5" fill="#cfcfcf"/>
<circle cx="327.9" cy="96.9" r="0.5" fill="#cfcfcf"/>
<circle cx="339.1" cy="96.0" r="0.5" fill="#cfcfcf"/>
<circle cx="332.6" cy="97.3" r="0.5" fill="#cfcfcf"/>
<circle cx="340.4" cy="96.0" r="0.5" fill="#cfcfcf"/>
<circle cx="340.7" cy="97.4" r="0.5" fill="#cfcfcf"/>
<circle cx="333.7" cy="95.9" r="0.5" fill="#cfcfcf"/>
<circle cx="334.9" cy="98.0" r="0.5" fill="#cfcfcf"/>
<circle cx="333.5" cy="97.9" r="0.5" fill="#cfcfcf"/>
<circle cx="334.3" cy="95.4" r="0.5" fill="#cfcfcf"/>
<circle cx="335.7" cy="97.9" r="0.5" fill="#cfcfcf"/>
<circle cx="326.9" cy="96.2" r="0.5" fill="#cfcfcf"/>
<circle cx="333.6" cy="99.2" r="0.5" fill="#cfcfcf"/>
<circle cx="343.3" cy="96.0" r="0.5" fill="#cfcfcf"/>
<circle cx="342.6" cy="98.6" r="0.5" fill="#cfcfcf"/>
<circle cx="330.5" cy="96.3" r="0.5" fill="#cfcfcf"/>
<circle cx="327.8" cy="98.8" r="0.5" fill="#cfcfcf"/>
<circle cx="338.1" cy="99.3" r="0.5" fill="#cfcfcf"/>
<circle cx="340.6" cy="97.7" r="0.5" fill="#cfcfcf"/>
<circle cx="339.4" cy="97.0" r="0.5" fill="#cfcfcf"/>
<circle cx="327.5" cy="97.1" r="0.5" fill="#cfcfcf"/>
<circle cx="342.2" cy="95.1" r="0.5" fill="#cfcfcf"/>
<circle cx="338.3" cy="98.9" r="0.5" fill="#cfcfcf"/>
<circle cx="343.6" cy="97.1" r="0.5" fill="#cfcfcf"/>
<circle cx="340.1" cy="96.6" r="0.5" fill="#cfcfcf"/>
<circle cx="339.1" cy="94.8" r="0.5" fill="#cfcfcf"/>
<circle cx="326.7" cy="95.7" r="0.5" fill="#cfcfcf"/>
<circle cx="336.2" cy="98.9" r="0.5" fill="#cfcfcf"/>
<circle cx="330.1" cy="95.1" r="0.5" fill="#cfcfcf"/>
<circle cx="330.2" cy="97.3" r="0.5" fill="#cfcfcf"/>
<circle cx="339.8" cy="96.0" r="0.5" fill="#cfcfcf"/>
<circle cx="332.5" cy="96.1" r="0.5" fill="#cfcfcf"/>
<circle cx="332.2" cy="96.1" r="0.5" fill="#cfcfcf"/>
<circle cx="327.1" cy="96.5" r="0.5" fill="#cfcfcf"/>
<circle cx="344.0" cy="96.1" r="0.5" fill="#cfcfcf"/>
<circle cx="339.7" cy="95.0" r="0.5" fill="#cfcfcf"/>
<circle cx="338.6" cy="98.3" r="0.5" fill="#cfcfcf"/>
<circle cx="338.3" cy="96.6" r="0.5" fill="#cfcfcf"/>
<circle cx="334.7" cy="97.5" r="0.5" fill="#cfcfcf"/>
<circle cx="327.3" cy="98.3" r="0.5" fill="#cfcfcf"/>
<circle cx="342.9" cy="96.6" r="0.5" fill="#cfcfcf"/>
<circle cx="333.9" cy="98.1" r="0.5" fill="#cfcfcf"/>
<circle cx="329.0" cy="95.5" r="0.5" fill="#cfcfcf"/>
<circle cx="329.3" cy="97.1" r="0.5" fill="#cfcfcf"/>
<circle cx="331.5" cy="95.3" r="0.5" fill="#cfcfcf"/>
<circle cx="338.6" cy="99.8" r="0.5" fill="#cfcfcf"/>
<circle cx="331.1" cy="98.0" r="0.5" fill="#cfcfcf"/>
<circle cx="333.4" cy="99.0" r="0.5" fill="#cfcfcf"/>
<circle cx="336.6" cy="95.5" r="0.5" fill="#cfcfcf"/>
<circle cx="334.6" cy="96.0" r="0.5" fill="#cfcfcf"/>
<circle cx="328.8" cy="95.9" r="0.5" fill="#cfcfcf"/>
<circle cx="331.6" cy="98.5" r="0.5" fill="#cfcfcf"/>
<circle cx="334.6" cy="97.2" r="0.5" fill="#cfcfcf"/>
<circle cx="334.4" cy="98.9" r="0.5" fill="#cfcfcf"/>
<circle cx="341.1" cy="96.9" r="0.5" fill="#cfcfcf"/>
<circle cx="334.6" cy="98.1" r="0.5" fill="#cfcfcf"/>
<circle cx="341.8" cy="96.1" r="0.5" fill="#cfcfcf"/>
<circle cx="334.4" cy="95.3" r="0.5" fill="#cfcfcf"/>
<circle cx="330.0" cy="98.1" r="0.5" fill="#cfcfcf"/>
<circle cx="338.3" cy="99.8" r="0.5" fill="#cfcfcf"/>
<circle cx="341.7" cy="95.4" r="0.5" fill="#cfcfcf"/>
<circle cx="329.1" cy="95.5" r="0.5" fill="#cfcfcf"/>
<circle cx="329.1" cy="98.0" r="0.5" fill="#cfcfcf"/>
<circle cx="330.3" cy="99.1" r="0.5" fill="#cfcfcf"/>
<circle cx="331.5" cy="96.2" r="0.5" fill="#cfcfcf"/>
<circle cx="339.4" cy="94.7" r="0.5" fill="#cfcfcf"/>
<circle cx="331.0" cy="95.9" r="0.5" fill="#cfcfcf"/>
<circle cx="336.5" cy="97.8" r="0.5" fill="#cfcfcf"/>
<circle cx="333.8" cy="96.4" r="0.5" fill="#cfcfcf"/>
<circle cx="329.5" cy="97.1" r="0.5" fill="#cfcfcf"/>
<circle cx="343.7" cy="96.0" r="0.5" fill="#cfcfcf"/>
<circle cx="335.8" cy="94.9" r="0.5" fill="#cfcfcf"/>
<circle cx="330.7" cy="97.7" r="0.5" fill="#cfcfcf"/>
<circle cx="343.4" cy="96.0" r="0.5" fill="#cfcfcf"/>
<circle cx="340.2" cy="98.4" r="0.5" fill="#cfcfcf"/>
<circle cx="331.1" cy="97.8" r="0.5" fill="#cfcfcf"/>
<circle cx="337.9" cy="98.7" r="0.5" fill="#cfcfcf"/>
<circle cx="330.5" cy="98.3" r="0.5" fill="#cfcfcf"/>
<circle cx="343.8" cy="97.7" r="0.5" fill="#cfcfcf"/>
<circle cx="335.7" cy="94.8" r="0.5" fill="#cfcfcf"/>
<circle cx="334.9" cy="95.9" r="0.5" fill="#cfcfcf"/>
<circle cx="339.1" cy="97.8" r="0.5" fill="#cfcfcf"/>
<circle cx="336.3" cy="95.1" r="0.5" fill="#cfcfcf"/>
<circle cx="337.8" cy="97.4" r="0.5" fill="#cfcfcf"/>
<circle cx="338.0" cy="94.9" r="0.5" fill="#cfcfcf"/>
<circle cx="331.8" cy="98.1" r="0.5" fill="#cfcfcf"/>
<circle cx="336.9" cy="96.9" r="0.5" fill="#cfcfcf"/>
<circle cx="337.8" cy="96.3" r="0.5" fill="#cfcfcf"/>
<circle cx="331.4" cy="95.1" r="0.5" fill="#cfcfcf"/>
<circle cx="326.8" cy="98.1" r="0.5" fill="#cfcfcf"/>
<circle cx="339.8" cy="96.8" r="0.5" fill="#cfcfcf"/>
<circle cx="339.6" cy="95.9" r="0.5" fill="#cfcfcf"/>
<circle cx="330.6" cy="96.0" r="0.5" fill="#cfcfcf"/>
<circle cx="335.1" cy="95.4" r="0.5" fill="#cfcfcf"/>
<circle cx="340.1" cy="95.9" r="0.5" fill="#cfcfcf"/>
<circle cx="331.8" cy="96.1" r="0.5" fill="#cfcfcf"/>
<circle cx="335.8" cy="98.5" r="0.5" fill="#cfcfcf"/>
<circle cx="332.2" cy="99.0" r="0.5" fill="#cfcfcf"/>
<circle cx="327.6" cy="95.5" r="0.5" fill="#cfcfcf"/>
<circle cx="340.3" cy="98.1" r="0.5" fill="#cfcfcf"/>
<circle cx="329.0" cy="95.2" r="0.5" fill="#cfcfcf"/>
<circle cx="333.4" cy="98.3" r="0.5" fill="#cfcfcf"/>
<circle cx="341.0" cy="98.3" r="0.5" fill="#cfcfcf"/>
<circle cx="336.7" cy="95.0" r="0.5" fill="#cfcfcf"/>
<circle cx="333.1" cy="95.2" r="0.5" fill="#cfcfcf"/>
<circle cx="335.5" cy="97.0" r="0.5" fill="#cfcfcf"/>
<circle cx="329.3" cy="95.4" r="0.5" fill="#cfcfcf"/>
<circle cx="340.8" cy="99.3" r="0.5" fill="#cfcfcf"/>
<circle cx="343.5" cy="96.0" r="0.5" fill="#cfcfcf"/>
<circle cx="336.0" cy="97.1" r="0.5" fill="#cfcfcf"/>
<circle cx="337.5" cy="99.9" r="0.5" fill="#cfcfcf"/>
<circle cx="338.5" cy="95.6" r="0.5" fill="#cfcfcf"/>
<circle cx="341.8" cy="96.4" r="0.5" fill="#cfcfcf"/>
<circle cx="336.9" cy="98.1" r="0.5" fill="#cfcfcf"/>
<circle cx="338.1" cy="96.5" r="0.5" fill="#cfcfcf"/>
<circle cx="335.4" cy="96.3" r="0.5" fill="#cfcfcf"/>
<circle cx="329.2" cy="96.7" r="0.5" fill="#cfcfcf"/>
<circle cx="326.2" cy="96.5" r="0.5" fill="#cfcfcf"/>
<circle cx="337.8" cy="96.3" r="0.5" fill="#cfcfcf"/>
<circle cx="336.3" cy="99.8" r="0.5" fill="#cfcfcf"/>
<circle cx="340.6" cy="97.4" r="0.5" fill="#cfcfcf"/>
<circle cx="326.5" cy="95.9" r="0.5" fill="#cfcfcf"/>
<circle cx="329.9" cy="94.7" r="0.5" fill="#cfcfcf"/>
<circle cx="335.7" cy="99.6" r="0.5" fill="#cfcfcf"/>
<circle cx="331.6" cy="99.2" r="0.5" fill="#cfcfcf"/>
<circle cx="338.7" cy="94.9" r="0.5" fill="#cfcfcf"/>
<circle cx="341.8" cy="97.2" r="0.5" fill="#cfcfcf"/>
<circle cx="343.1" cy="98.1" r="0.5" fill="#cfcfcf"/>
<circle cx="339.6" cy="95.8" r="0.5" fill="#cfcfcf"/>
<circle cx="341.9" cy="96.2" r="0.5" fill="#cfcfcf"/>
<circle cx="339.9" cy="96.4" r="0.5" fill="#cfcfcf"/>
<circle cx="328.6" cy="96.5" r="0.5" fill="#cfcfcf"/>
<circle cx="338.8" cy="96.8" r="0.5" fill="#cfcfcf"/>
<circle cx="333.5" cy="97.6" r="0.5" fill="#cfcfcf"/>
<circle cx="331.3" cy="96.3" r="0.5" fill="#cfcfcf"/>
<circle cx="339.9" cy="96.1" r="0.5" fill="#cfcfcf"/>
<circle cx="339.2" cy="95.9" r="0.5" fill="#cfcfcf"/>
<circle cx="332.5" cy="96.7" r="0.5" fill="#cfcfcf"/>
<circle cx="336.8" cy="95.3" r="0.5" fill="#cfcfcf"/>
<circle cx="340.4" cy="95.0" r="0.5" fill="#cfcfcf"/>
<circle cx="334.2" cy="95.2" r="0.5" fill="#cfcfcf"/>
<circle cx="329.5" cy="95.1" r="0.5" fill="#cfcfcf"/>
<circle cx="333.2" cy="95.1" r="0.5" fill="#cfcfcf"/>
<circle cx="328.7" cy="96.5" r="0.5" fill="#cfcfcf"/>
<circle cx="334.0" cy="96.1" r="0.5" fill="#cfcfcf"/>
<circle cx="338.9" cy="94.6" r="0.5" fill="#cfcfcf"/>
<circle cx="333.2" cy="96.1" r="0.5" fill="#cfcfcf"/>
<circle cx="329.7" cy="94.7" r="0.5" fill="#cfcfcf"/>
<circle cx="334.5" cy="95.1" r="0.5" fill="#cfcfcf"/>
<circle cx="337.3" cy="95.8" r="0.5" fill="#cfcfcf"/>
<circle cx="339.3" cy="95.5" r="0.5" fill="#cfcfcf"/>
<circle cx="340.5" cy="96.4" r="0.5" fill="#cfcfcf"/>
<circle cx="343.2" cy="95.6" r="0.5" fill="#cfcfcf"/>
<circle cx="330.2" cy="95.5" r="0.5" fill="#cfcfcf"/>
<circle cx="341.0" cy="97.4" r="0.5" fill="#cfcfcf"/>
<circle cx="332.1" cy="94.7" r="0.5" fill="#cfcfcf"/>
<circle cx="326.5" cy="97.6" r="0.5" fill="#cfcfcf"/>
<circle cx="342.6" cy="95.2" r="0.5" fill="#cfcfcf"/>
<circle cx="338.7" cy="93.4" r="0.5" fill="#cfcfcf"/>
<circle cx="330.7" cy="94.0" r="0.5" fill="#cfcfcf"/>
<circle cx="330.5" cy="95.2" r="0.5" fill="#cfcfcf"/>
<circle cx="328.4" cy="93.2" r="0.5" fill="#cfcfcf"/>
<circle cx="331.0" cy="94.4" r="0.5" fill="#cfcfcf"/>
<circle cx="335.9" cy="94.7" r="0.5" fill="#cfcfcf"/>
<circle cx="337.0" cy="93.8" r="0.5" fill="#cfcfcf"/>
<circle cx="338.1" cy="93.1" r="0.5" fill="#cfcfcf"/>
<circle cx="332.0" cy="92.7" r="0.5" fill="#cfcfcf"/>
<circle cx="336.4" cy="93.4" r="0.5" fill="#cfcfcf"/>
<circle cx="330.2" cy="92.5" r="0.5" fill="#cfcfcf"/>
<circle cx="335.6" cy="94.0" r="0.5" fill="#cfcfcf"/>
<circle cx="335.5" cy="93.2" r="0.5" fill="#cfcfcf"/>
<circle cx="332.8" cy="92.5" r="0.5" fill="#cfcfcf"/>
<circle cx="332.6" cy="94.8" r="0.5" fill="#cfcfcf"/>
<circle cx="335.1" cy="92.3" r="0.5" fill="#cfcfcf"/>
<circle cx="329.8" cy="95.2" r="0.5" fill="#cfcfcf"/>
<circle cx="334.7" cy="95.4" r="0.5" fill="#cfcfcf"/>
<circle cx="337.5" cy="93.3" r="0.5" fill="#cfcfcf"/>
<circle cx="337.8" cy="94.7" r="0.5" fill="#cfcfcf"/>
<circle cx="331.0" cy="93.1" r="0.5" fill="#cfcfcf"/>
<circle cx="327.9" cy="93.2" r="0.5" fill="#cfcfcf"/>
<circle cx="333.8" cy="92.3" r="0.5" fill="#cfcfcf"/>
<circle cx="328.0" cy="94.2" r="0.5" fill="#cfcfcf"/>
<circle cx="328.8" cy="94.2" r="0.5" fill="#cfcfcf"/>
<circle cx="334.0" cy="92.0" r="0.5" fill="#cfcfcf"/>
<circle cx="329.6" cy="93.8" r="0.5" fill="#cfcfcf"/>
<circle cx="332.0" cy="94.9" r="0.5" fill="#cfcfcf"/>
<circle cx="334.3" cy="94.9" r="0.5" fill="#cfcfcf"/>
<circle cx="333.4" cy="92.6" r="0.5" fill="#cfcfcf"/>
<circle cx="329.4" cy="95.5" r="0.5" fill="#cfcfcf"/>
<circle cx="328.0" cy="93.4" r="0.5" fill="#cfcfcf"/>
<circle cx="329.7" cy="95.1" r="0.5" fill="#cfcfcf"/>
<circle cx="334.4" cy="94.2" r="0.5" fill="#cfcfcf"/>
<circle cx="336.1" cy="95.4" r="0.5" fill="#cfcfcf"/>
<circle cx="331.2" cy="94.0" r="0.5" fill="#cfcfcf"/>
<circle cx="332.3" cy="92.3" r="0.5" fill="#cfcfcf"/>
<circle cx="337.0" cy="94.0" r="0.5" fill="#cfcfcf"/>
<circle cx="336.8" cy="92.6" r="0.5" fill="#cfcfcf"/>
<circle cx="333.5" cy="93.4" r="0.5" fill="#cfcfcf"/>
<circle cx="335.7" cy="92.2" r="0.5" fill="#cfcfcf"/>
<circle cx="331.2" cy="93.5" r="0.5" fill="#cfcfcf"/>
<circle cx="327.9" cy="93.8" r="0.5" fill="#cfcfcf"/>
<circle cx="335.8" cy="93.3" r="0.5" fill="#cfcfcf"/>
<circle cx="334.8" cy="94.0" r="0.5" fill="#cfcfcf"/>
<circle cx="329.6" cy="93.1" r="0.5" fill="#cfcfcf"/>
<circle cx="332.2" cy="92.3" r="0.5" fill="#cfcfcf"/>
<circle cx="329.6" cy="92.5" r="0.5" fill="#cfcfcf"/>
<circle cx="338.2" cy="94.6" r="0.5" fill="#cfcfcf"/>
<circle cx="334.3" cy="95.7" r="0.5" fill="#cfcfcf"/>
<circle cx="333.4" cy="93.3" r="0.5" fill="#cfcfcf"/>
<circle cx="338.4" cy="93.5" r="0.5" fill="#cfcfcf"/>
<circle cx="336.3" cy="93.2" r="0.5" fill="#cfcfcf"/>
<circle cx="330.5" cy="95.7" r="0.5" fill="#cfcfcf"/>
<circle cx="335.7" cy="92.9" r="0.5" fill="#cfcfcf"/>
<circle cx="333.2" cy="94.2" r="0.5" fill="#cfcfcf"/>
<circle cx="330.3" cy="93.3" r="0.5" fill="#cfcfcf"/>
<circle cx="331.1" cy="94.7" r="0.5" fill="#cfcfcf"/>
<circle cx="336.0" cy="92.9" r="0.5" fill="#cfcfcf"/>
<circle cx="328.2" cy="92.9" r="0.5" fill="#cfcfcf"/>
<circle cx="322.0" cy="96.0" r="0.45" fill="#c4c4c4"/>
<circle cx="348.0" cy="95.5" r="0.45" fill="#c4c4c4"/>
<circle cx="350.0" cy="97.0" r="0.45" fill="#c4c4c4"/>
<circle cx="319.0" cy="98.0" r="0.45" fill="#c4c4c4"/>
<rect x="310.6" y="61.6" width="10.6" height="2.9" fill="#ececec" stroke="#d6d6d6" stroke-width="0.25"/>
<text x="315.90" y="64.09" font-size="2.9" text-anchor="middle" fill="#333">PNMT7</text>
<rect x="320.5" y="68.2" width="6.6" height="2.9" fill="#ececec" stroke="#d6d6d6" stroke-width="0.25"/>
<text x="323.80" y="70.52" font-size="2.42" text-anchor="middle" fill="#333">IRF1</text>
<rect x="338.3" y="67.6" width="12.6" height="2.9" fill="#ececec" stroke="#d6d6d6" stroke-width="0.25"/>
<text x="344.60" y="70.05" font-size="2.76" text-anchor="middle" fill="#333">INF_OCK</text>
<rect x="330.4" y="75.5" width="9.0" height="2.6" fill="#ececec" stroke="#d6d6d6" stroke-width="0.25"/>
<text x="334.90" y="77.78" font-size="2.71" text-anchor="middle" fill="#333">NFKB2</text>
<rect x="317.9" y="77.5" width="9.2" height="2.6" fill="#ececec" stroke="#d6d6d6" stroke-width="0.25"/>
<text x="322.50" y="79.80" font-size="2.77" text-anchor="middle" fill="#333">TPL26</text>
<rect x="308.6" y="82.4" width="19.8" height="2.7" fill="#ececec" stroke="#d6d6d6" stroke-width="0.25"/>
<text x="318.50" y="84.76" font-size="2.82" text-anchor="middle" fill="#333">RPL26 AMD1B</text>
<rect x="330.4" y="81.4" width="10.6" height="2.7" fill="#ececec" stroke="#d6d6d6" stroke-width="0.25"/>
<text x="335.70" y="83.72" font-size="2.69" text-anchor="middle" fill="#333">TPS_C1</text>
<rect x="343.0" y="81.4" width="9.9" height="2.7" fill="#ececec" stroke="#d6d6d6" stroke-width="0.25"/>
<text x="347.95" y="83.79" font-size="2.9" text-anchor="middle" fill="#333">RPS27</text>
<rect x="313.9" y="87.0" width="9.9" height="3.0" fill="#ececec" stroke="#d6d6d6" stroke-width="0.25"/>
<text x="318.85" y="89.54" font-size="2.9" text-anchor="middle" fill="#333">TPL12</text>
<rect x="332.4" y="86.5" width="9.6" height="2.6" fill="#ececec" stroke="#d6d6d6" stroke-width="0.25"/>
<text x="337.20" y="88.67" font-size="2.42" text-anchor="middle" fill="#333">RPL36A</text>
<rect x="343.0" y="86.5" width="10.6" height="2.6" fill="#ececec" stroke="#d6d6d6" stroke-width="0.25"/>
<text x="348.30" y="88.77" font-size="2.69" text-anchor="middle" fill="#333">RPS29B</text>
<rect x="320.5" y="92.4" width="7.3" height="2.7" fill="#ececec" stroke="#d6d6d6" stroke-width="0.25"/>
<text x="324.15" y="94.72" font-size="2.7" text-anchor="middle" fill="#333">CL1B</text>
<rect x="332.4" y="92.4" width="9.6" height="2.7" fill="#ececec" stroke="#d6d6d6" stroke-width="0.25"/>
<text x="337.20" y="94.62" font-size="2.42" text-anchor="middle" fill="#333">RPL13A</text>
<rect x="345.6" y="92.4" width="9.9" height="2.7" fill="#ececec" stroke="#d6d6d6" stroke-width="0.25"/>
<text x="350.55" y="94.65" font-size="2.5" text-anchor="middle" fill="#333">RPS15A</text>
<rect x="327.8" y="97.0" width="7.9" height="2.7" fill="#ececec" stroke="#d6d6d6" stroke-width="0.25"/>
<text x="331.75" y="99.20" font-size="2.35" text-anchor="middle" fill="#333">RPS18</text>
<line x1="344.3" y1="67.6" x2="345.2" y2="65.8" stroke="#333" stroke-width="0.3"/>
<line x1="331.6" y1="92.2" x2="331.8" y2="97.0" stroke="#333" stroke-width="0.3"/>
<line x1="324.5" y1="71.1" x2="323.5" y2="73.0" stroke="#333" stroke-width="0.3"/>
<line x1="333.5" y1="78.1" x2="335.5" y2="79.4" stroke="#333" stroke-width="0.3"/>
<circle cx="323.1" cy="63.6" r="0.7" fill="#c00f28"/>
<circle cx="328.4" cy="69.1" r="0.7" fill="#c00f28"/>
<circle cx="345.0" cy="65.6" r="0.7" fill="#c00f28"/>
<circle cx="346.3" cy="63.6" r="0.7" fill="#c00f28"/>
<circle cx="318.5" cy="73.2" r="0.7" fill="#c00f28"/>
<circle cx="322.2" cy="74.4" r="0.7" fill="#c00f28"/>
<circle cx="339.7" cy="74.6" r="0.7" fill="#c00f28"/>
<circle cx="354.2" cy="74.6" r="0.7" fill="#c00f28"/>
<circle cx="335.7" cy="79.5" r="0.7" fill="#c00f28"/>
<circle cx="328.4" cy="79.5" r="0.7" fill="#c00f28"/>
<circle cx="345.0" cy="79.5" r="0.7" fill="#c00f28"/>
<circle cx="346.3" cy="80.1" r="0.7" fill="#c00f28"/>
<circle cx="355.5" cy="84.1" r="0.7" fill="#c00f28"/>
<circle cx="349.6" cy="83.4" r="0.7" fill="#c00f28"/>
<circle cx="375.0" cy="40.5" r="0.7" fill="#c00f28"/>
<circle cx="329.0" cy="78.9" r="0.7" fill="#c00f28"/>
<circle cx="327.5" cy="79.8" r="0.7" fill="#c00f28"/>
<circle cx="336.0" cy="85.5" r="0.7" fill="#c00f28"/>
<circle cx="347.0" cy="86.0" r="0.7" fill="#c00f28"/>
<circle cx="351.5" cy="85.0" r="0.7" fill="#c00f28"/>
<circle cx="323.5" cy="86.0" r="0.7" fill="#c00f28"/>
<circle cx="326.0" cy="87.5" r="0.7" fill="#c00f28"/>
<circle cx="340.0" cy="87.0" r="0.7" fill="#c00f28"/>
<circle cx="344.5" cy="88.0" r="0.7" fill="#c00f28"/>
<circle cx="331.5" cy="88.5" r="0.7" fill="#c00f28"/>
<circle cx="325.5" cy="90.5" r="0.7" fill="#c00f28"/>
<circle cx="338.1" cy="91.1" r="0.7" fill="#c00f28"/>
<circle cx="344.5" cy="90.8" r="0.7" fill="#c00f28"/>
<circle cx="330.6" cy="88.8" r="0.7" fill="#c00f28"/>
<circle cx="329.2" cy="89.6" r="0.7" fill="#c00f28"/>
<circle cx="334.1" cy="89.9" r="0.7" fill="#c00f28"/>
<circle cx="330.3" cy="90.8" r="0.7" fill="#c00f28"/>
<circle cx="328.6" cy="89.6" r="0.7" fill="#c00f28"/>
<circle cx="342.4" cy="90.6" r="0.7" fill="#c00f28"/>
<circle cx="328.8" cy="89.0" r="0.7" fill="#c00f28"/>
<circle cx="340.6" cy="88.3" r="0.7" fill="#c00f28"/>
<circle cx="325.0" cy="89.8" r="0.7" fill="#c00f28"/>
<circle cx="334.3" cy="88.8" r="0.7" fill="#c00f28"/>
<circle cx="323.2" cy="88.9" r="0.7" fill="#c00f28"/>
<circle cx="339.7" cy="89.7" r="0.7" fill="#c00f28"/>
<circle cx="344.5" cy="90.6" r="0.7" fill="#c00f28"/>
<circle cx="344.5" cy="88.4" r="0.7" fill="#c00f28"/>
<circle cx="326.3" cy="88.3" r="0.7" fill="#c00f28"/>
<circle cx="331.9" cy="89.3" r="0.7" fill="#c00f28"/>
<circle cx="323.2" cy="89.9" r="0.7" fill="#c00f28"/>
<circle cx="324.2" cy="89.2" r="0.7" fill="#c00f28"/>
<line x1="287.8" y1="4.0" x2="287.8" y2="104.5" stroke="#555" stroke-width="0.55"/>
<line x1="287.5" y1="104.2" x2="404.3" y2="104.2" stroke="#555" stroke-width="0.55"/>
<line x1="288.64" y1="104.2" x2="288.64" y2="105.4" stroke="#444" stroke-width="0.4"/>
<text x="288.64" y="109.10" font-size="3.5" text-anchor="middle" fill="#555">0.2</text>
<line x1="311.77" y1="104.2" x2="311.77" y2="105.4" stroke="#444" stroke-width="0.4"/>
<text x="311.77" y="109.10" font-size="3.5" text-anchor="middle" fill="#555">0.1</text>
<line x1="334.90" y1="104.2" x2="334.90" y2="105.4" stroke="#444" stroke-width="0.4"/>
<text x="334.90" y="109.10" font-size="3.5" text-anchor="middle" fill="#555">0.0</text>
<line x1="358.03" y1="104.2" x2="358.03" y2="105.4" stroke="#444" stroke-width="0.4"/>
<text x="358.03" y="109.10" font-size="3.5" text-anchor="middle" fill="#555">0.1</text>
<line x1="381.16" y1="104.2" x2="381.16" y2="105.4" stroke="#444" stroke-width="0.4"/>
<text x="381.16" y="109.10" font-size="3.5" text-anchor="middle" fill="#555">0.2</text>
<line x1="404.29" y1="104.2" x2="404.29" y2="105.4" stroke="#444" stroke-width="0.4"/>
<text x="404.29" y="109.10" font-size="3.5" text-anchor="middle" fill="#555">0.3</text>
<line x1="286.6" y1="99.30" x2="287.8" y2="99.30" stroke="#444" stroke-width="0.4"/>
<text x="285.90" y="100.55" font-size="3.5" text-anchor="end" fill="#555">0</text>
<line x1="286.6" y1="67.50" x2="287.8" y2="67.50" stroke="#444" stroke-width="0.4"/>
<text x="285.90" y="68.75" font-size="3.5" text-anchor="end" fill="#555">5</text>
<line x1="286.6" y1="35.70" x2="287.8" y2="35.70" stroke="#444" stroke-width="0.4"/>
<text x="285.90" y="36.95" font-size="3.5" text-anchor="end" fill="#555">10</text>
<text x="336.50" y="4.00" font-size="5.4" text-anchor="middle" font-weight="bold" fill="#000">T cells</text>
<text x="269.10" y="10.40" font-size="8" text-anchor="start" font-weight="bold" fill="#000">b</text>
<text x="346.2" y="113.6" font-size="3.6" text-anchor="middle" fill="#333">Log<tspan font-size="2.4" dy="0.8">2</tspan><tspan dy="-0.8"> fold change</tspan></text>
<text x="277.9" y="53.5" font-size="3.6" text-anchor="middle" fill="#333" transform="rotate(-90 277.9 53.5)">&#8722; Log<tspan font-size="2.4" dy="0.8">10</tspan><tspan dy="-0.8"> P</tspan></text>
<text x="404.30" y="120.30" font-size="3.25" text-anchor="end" fill="#333">total = 2427 tested genes</text>
<circle cx="413.5" cy="88.4" r="1.45" fill="#c00f28"/>
<circle cx="413.5" cy="92.6" r="1.45" fill="#cdcdcd"/>
<text x="418.80" y="89.75" font-size="3.85" text-anchor="start" fill="#333">DEGs</text>
<text x="418.80" y="93.95" font-size="3.85" text-anchor="start" fill="#333">non</text>
<text x="427.70" y="93.95" font-size="3.85" text-anchor="start" fill="#333">DEGs</text>
<line x1="294.40" y1="129.2" x2="294.40" y2="229.6" stroke="#ebebeb" stroke-width="0.5"/>
<line x1="313.30" y1="129.2" x2="313.30" y2="229.6" stroke="#ebebeb" stroke-width="0.5"/>
<line x1="332.20" y1="129.2" x2="332.20" y2="229.6" stroke="#ebebeb" stroke-width="0.5"/>
<line x1="351.10" y1="129.2" x2="351.10" y2="229.6" stroke="#ebebeb" stroke-width="0.5"/>
<line x1="370.00" y1="129.2" x2="370.00" y2="229.6" stroke="#ebebeb" stroke-width="0.5"/>
<line x1="388.90" y1="129.2" x2="388.90" y2="229.6" stroke="#ebebeb" stroke-width="0.5"/>
<line x1="289.7" y1="225.40" x2="403.6" y2="225.40" stroke="#ebebeb" stroke-width="0.5"/>
<line x1="289.7" y1="214.22" x2="403.6" y2="214.22" stroke="#ebebeb" stroke-width="0.5"/>
<line x1="289.7" y1="203.05" x2="403.6" y2="203.05" stroke="#ebebeb" stroke-width="0.5"/>
<line x1="289.7" y1="191.88" x2="403.6" y2="191.88" stroke="#ebebeb" stroke-width="0.5"/>
<line x1="289.7" y1="180.70" x2="403.6" y2="180.70" stroke="#ebebeb" stroke-width="0.5"/>
<line x1="289.7" y1="169.53" x2="403.6" y2="169.53" stroke="#ebebeb" stroke-width="0.5"/>
<line x1="289.7" y1="158.35" x2="403.6" y2="158.35" stroke="#ebebeb" stroke-width="0.5"/>
<line x1="289.7" y1="147.18" x2="403.6" y2="147.18" stroke="#ebebeb" stroke-width="0.5"/>
<line x1="289.7" y1="136.00" x2="403.6" y2="136.00" stroke="#ebebeb" stroke-width="0.5"/>
<line x1="332.20" y1="129.2" x2="332.20" y2="229.6" stroke="#bbb" stroke-width="0.5" stroke-dasharray="1,0.8"/>
<line x1="289.7" y1="213.90" x2="403.6" y2="213.90" stroke="#8a8a8a" stroke-width="0.42" stroke-dasharray="2.2,0.9"/>
<ellipse cx="333.3" cy="220.79" rx="6.64" ry="3.97" fill="#d6d6d6"/>
<circle cx="335.3" cy="222.6" r="0.5" fill="#cfcfcf"/>
<circle cx="337.3" cy="224.5" r="0.5" fill="#cfcfcf"/>
<circle cx="325.5" cy="219.8" r="0.5" fill="#cfcfcf"/>
<circle cx="340.7" cy="221.6" r="0.5" fill="#cfcfcf"/>
<circle cx="332.8" cy="218.4" r="0.5" fill="#cfcfcf"/>
<circle cx="334.0" cy="220.8" r="0.5" fill="#cfcfcf"/>
<circle cx="329.6" cy="224.4" r="0.5" fill="#cfcfcf"/>
<circle cx="337.7" cy="217.8" r="0.5" fill="#cfcfcf"/>
<circle cx="338.2" cy="217.7" r="0.5" fill="#cfcfcf"/>
<circle cx="335.2" cy="217.6" r="0.5" fill="#cfcfcf"/>
<circle cx="328.5" cy="218.2" r="0.5" fill="#cfcfcf"/>
<circle cx="334.0" cy="221.9" r="0.5" fill="#cfcfcf"/>
<circle cx="339.8" cy="218.7" r="0.5" fill="#cfcfcf"/>
<circle cx="331.0" cy="217.9" r="0.5" fill="#cfcfcf"/>
<circle cx="330.0" cy="221.1" r="0.5" fill="#cfcfcf"/>
<circle cx="330.6" cy="218.8" r="0.5" fill="#cfcfcf"/>
<circle cx="338.6" cy="219.9" r="0.5" fill="#cfcfcf"/>
<circle cx="330.2" cy="219.9" r="0.5" fill="#cfcfcf"/>
<circle cx="336.7" cy="217.2" r="0.5" fill="#cfcfcf"/>
<circle cx="337.4" cy="223.7" r="0.5" fill="#cfcfcf"/>
<circle cx="331.1" cy="220.8" r="0.5" fill="#cfcfcf"/>
<circle cx="328.3" cy="222.7" r="0.5" fill="#cfcfcf"/>
<circle cx="330.7" cy="219.1" r="0.5" fill="#cfcfcf"/>
<circle cx="333.7" cy="222.9" r="0.5" fill="#cfcfcf"/>
<circle cx="326.8" cy="222.6" r="0.5" fill="#cfcfcf"/>
<circle cx="338.2" cy="223.8" r="0.5" fill="#cfcfcf"/>
<circle cx="326.5" cy="219.0" r="0.5" fill="#cfcfcf"/>
<circle cx="335.1" cy="224.4" r="0.5" fill="#cfcfcf"/>
<circle cx="330.6" cy="224.5" r="0.5" fill="#cfcfcf"/>
<circle cx="334.0" cy="218.8" r="0.5" fill="#cfcfcf"/>
<circle cx="330.3" cy="217.9" r="0.5" fill="#cfcfcf"/>
<circle cx="341.4" cy="220.4" r="0.5" fill="#cfcfcf"/>
<circle cx="331.7" cy="218.3" r="0.5" fill="#cfcfcf"/>
<circle cx="334.9" cy="223.5" r="0.5" fill="#cfcfcf"/>
<circle cx="332.6" cy="219.5" r="0.5" fill="#cfcfcf"/>
<circle cx="325.5" cy="220.0" r="0.5" fill="#cfcfcf"/>
<circle cx="335.5" cy="223.1" r="0.5" fill="#cfcfcf"/>
<circle cx="326.8" cy="219.6" r="0.5" fill="#cfcfcf"/>
<circle cx="327.5" cy="223.7" r="0.5" fill="#cfcfcf"/>
<circle cx="329.9" cy="219.7" r="0.5" fill="#cfcfcf"/>
<circle cx="341.2" cy="219.7" r="0.5" fill="#cfcfcf"/>
<circle cx="333.1" cy="222.4" r="0.5" fill="#cfcfcf"/>
<circle cx="333.0" cy="218.7" r="0.5" fill="#cfcfcf"/>
<circle cx="331.7" cy="217.8" r="0.5" fill="#cfcfcf"/>
<circle cx="340.9" cy="221.3" r="0.5" fill="#cfcfcf"/>
<circle cx="333.3" cy="219.0" r="0.5" fill="#cfcfcf"/>
<circle cx="326.5" cy="218.6" r="0.5" fill="#cfcfcf"/>
<circle cx="338.0" cy="223.9" r="0.5" fill="#cfcfcf"/>
<circle cx="331.0" cy="223.0" r="0.5" fill="#cfcfcf"/>
<circle cx="337.9" cy="222.1" r="0.5" fill="#cfcfcf"/>
<circle cx="336.0" cy="222.8" r="0.5" fill="#cfcfcf"/>
<circle cx="331.0" cy="222.2" r="0.5" fill="#cfcfcf"/>
<circle cx="329.7" cy="219.9" r="0.5" fill="#cfcfcf"/>
<circle cx="337.8" cy="222.0" r="0.5" fill="#cfcfcf"/>
<circle cx="329.9" cy="224.7" r="0.5" fill="#cfcfcf"/>
<circle cx="335.8" cy="220.9" r="0.5" fill="#cfcfcf"/>
<circle cx="325.2" cy="220.5" r="0.5" fill="#cfcfcf"/>
<circle cx="329.2" cy="221.8" r="0.5" fill="#cfcfcf"/>
<circle cx="332.7" cy="223.4" r="0.5" fill="#cfcfcf"/>
<circle cx="335.7" cy="223.2" r="0.5" fill="#cfcfcf"/>
<circle cx="330.8" cy="221.5" r="0.5" fill="#cfcfcf"/>
<circle cx="337.2" cy="223.5" r="0.5" fill="#cfcfcf"/>
<circle cx="330.8" cy="223.6" r="0.5" fill="#cfcfcf"/>
<circle cx="339.4" cy="222.0" r="0.5" fill="#cfcfcf"/>
<circle cx="333.6" cy="220.3" r="0.5" fill="#cfcfcf"/>
<circle cx="327.8" cy="223.6" r="0.5" fill="#cfcfcf"/>
<circle cx="340.6" cy="219.9" r="0.5" fill="#cfcfcf"/>
<circle cx="336.5" cy="222.3" r="0.5" fill="#cfcfcf"/>
<circle cx="337.1" cy="217.9" r="0.5" fill="#cfcfcf"/>
<circle cx="338.0" cy="220.9" r="0.5" fill="#cfcfcf"/>
<circle cx="336.0" cy="219.5" r="0.5" fill="#cfcfcf"/>
<circle cx="335.4" cy="222.9" r="0.5" fill="#cfcfcf"/>
<circle cx="335.6" cy="222.3" r="0.5" fill="#cfcfcf"/>
<circle cx="332.3" cy="221.6" r="0.5" fill="#cfcfcf"/>
<circle cx="328.6" cy="222.0" r="0.5" fill="#cfcfcf"/>
<circle cx="335.5" cy="217.1" r="0.5" fill="#cfcfcf"/>
<circle cx="332.8" cy="218.3" r="0.5" fill="#cfcfcf"/>
<circle cx="330.3" cy="218.0" r="0.5" fill="#cfcfcf"/>
<circle cx="332.7" cy="219.2" r="0.5" fill="#cfcfcf"/>
<circle cx="335.2" cy="221.0" r="0.5" fill="#cfcfcf"/>
<circle cx="328.9" cy="224.3" r="0.5" fill="#cfcfcf"/>
<circle cx="329.6" cy="219.4" r="0.5" fill="#cfcfcf"/>
<circle cx="331.2" cy="217.0" r="0.5" fill="#cfcfcf"/>
<circle cx="335.2" cy="217.4" r="0.5" fill="#cfcfcf"/>
<circle cx="334.1" cy="219.0" r="0.5" fill="#cfcfcf"/>
<circle cx="334.6" cy="224.9" r="0.5" fill="#cfcfcf"/>
<circle cx="338.6" cy="219.5" r="0.5" fill="#cfcfcf"/>
<circle cx="338.5" cy="221.5" r="0.5" fill="#cfcfcf"/>
<circle cx="331.1" cy="217.7" r="0.5" fill="#cfcfcf"/>
<circle cx="334.9" cy="220.7" r="0.5" fill="#cfcfcf"/>
<circle cx="335.1" cy="219.1" r="0.5" fill="#cfcfcf"/>
<circle cx="326.8" cy="220.7" r="0.5" fill="#cfcfcf"/>
<circle cx="335.2" cy="217.7" r="0.5" fill="#cfcfcf"/>
<circle cx="335.4" cy="224.1" r="0.5" fill="#cfcfcf"/>
<circle cx="331.2" cy="219.6" r="0.5" fill="#cfcfcf"/>
<circle cx="328.8" cy="218.7" r="0.5" fill="#cfcfcf"/>
<circle cx="341.1" cy="219.2" r="0.5" fill="#cfcfcf"/>
<circle cx="334.9" cy="218.5" r="0.5" fill="#cfcfcf"/>
<circle cx="341.3" cy="220.0" r="0.5" fill="#cfcfcf"/>
<circle cx="331.9" cy="218.8" r="0.5" fill="#cfcfcf"/>
<circle cx="341.3" cy="219.9" r="0.5" fill="#cfcfcf"/>
<circle cx="329.8" cy="219.9" r="0.5" fill="#cfcfcf"/>
<circle cx="327.0" cy="221.3" r="0.5" fill="#cfcfcf"/>
<circle cx="332.4" cy="218.7" r="0.5" fill="#cfcfcf"/>
<circle cx="338.0" cy="223.5" r="0.5" fill="#cfcfcf"/>
<circle cx="325.2" cy="220.3" r="0.5" fill="#cfcfcf"/>
<circle cx="329.5" cy="224.6" r="0.5" fill="#cfcfcf"/>
<circle cx="338.0" cy="218.4" r="0.5" fill="#cfcfcf"/>
<circle cx="329.4" cy="217.8" r="0.5" fill="#cfcfcf"/>
<circle cx="335.1" cy="219.8" r="0.5" fill="#cfcfcf"/>
<circle cx="335.7" cy="221.1" r="0.5" fill="#cfcfcf"/>
<circle cx="337.3" cy="217.6" r="0.5" fill="#cfcfcf"/>
<circle cx="337.6" cy="218.7" r="0.5" fill="#cfcfcf"/>
<circle cx="333.9" cy="219.0" r="0.5" fill="#cfcfcf"/>
<circle cx="329.9" cy="220.3" r="0.5" fill="#cfcfcf"/>
<circle cx="332.7" cy="219.1" r="0.5" fill="#cfcfcf"/>
<circle cx="337.4" cy="221.0" r="0.5" fill="#cfcfcf"/>
<circle cx="332.6" cy="224.4" r="0.5" fill="#cfcfcf"/>
<circle cx="339.7" cy="220.5" r="0.5" fill="#cfcfcf"/>
<circle cx="332.1" cy="220.8" r="0.5" fill="#cfcfcf"/>
<circle cx="336.8" cy="221.4" r="0.5" fill="#cfcfcf"/>
<circle cx="333.0" cy="224.4" r="0.5" fill="#cfcfcf"/>
<circle cx="331.4" cy="219.3" r="0.5" fill="#cfcfcf"/>
<circle cx="339.1" cy="218.1" r="0.5" fill="#cfcfcf"/>
<circle cx="329.9" cy="223.5" r="0.5" fill="#cfcfcf"/>
<circle cx="336.5" cy="219.6" r="0.5" fill="#cfcfcf"/>
<circle cx="329.8" cy="223.0" r="0.5" fill="#cfcfcf"/>
<circle cx="332.9" cy="220.5" r="0.5" fill="#cfcfcf"/>
<circle cx="333.3" cy="218.9" r="0.5" fill="#cfcfcf"/>
<circle cx="327.5" cy="220.9" r="0.5" fill="#cfcfcf"/>
<circle cx="328.8" cy="223.4" r="0.5" fill="#cfcfcf"/>
<circle cx="338.1" cy="221.7" r="0.5" fill="#cfcfcf"/>
<circle cx="336.6" cy="217.1" r="0.5" fill="#cfcfcf"/>
<circle cx="339.0" cy="218.2" r="0.5" fill="#cfcfcf"/>
<circle cx="335.7" cy="224.8" r="0.5" fill="#cfcfcf"/>
<circle cx="336.8" cy="217.7" r="0.5" fill="#cfcfcf"/>
<circle cx="329.9" cy="224.4" r="0.5" fill="#cfcfcf"/>
<circle cx="327.5" cy="221.2" r="0.5" fill="#cfcfcf"/>
<circle cx="331.9" cy="217.8" r="0.5" fill="#cfcfcf"/>
<circle cx="335.3" cy="217.1" r="0.5" fill="#cfcfcf"/>
<circle cx="326.8" cy="219.2" r="0.5" fill="#cfcfcf"/>
<circle cx="334.5" cy="222.6" r="0.5" fill="#cfcfcf"/>
<circle cx="332.2" cy="218.8" r="0.5" fill="#cfcfcf"/>
<circle cx="335.0" cy="219.9" r="0.5" fill="#cfcfcf"/>
<circle cx="340.6" cy="219.2" r="0.5" fill="#cfcfcf"/>
<circle cx="325.9" cy="222.1" r="0.5" fill="#cfcfcf"/>
<circle cx="327.5" cy="221.4" r="0.5" fill="#cfcfcf"/>
<circle cx="333.4" cy="224.4" r="0.5" fill="#cfcfcf"/>
<circle cx="334.2" cy="221.3" r="0.5" fill="#cfcfcf"/>
<circle cx="329.4" cy="220.5" r="0.5" fill="#cfcfcf"/>
<circle cx="329.2" cy="222.7" r="0.5" fill="#cfcfcf"/>
<circle cx="333.6" cy="217.7" r="0.5" fill="#cfcfcf"/>
<circle cx="328.9" cy="219.2" r="0.5" fill="#cfcfcf"/>
<circle cx="337.2" cy="218.0" r="0.5" fill="#cfcfcf"/>
<circle cx="336.8" cy="221.6" r="0.5" fill="#cfcfcf"/>
<circle cx="326.4" cy="221.8" r="0.5" fill="#cfcfcf"/>
<circle cx="334.9" cy="218.3" r="0.5" fill="#cfcfcf"/>
<circle cx="339.6" cy="219.9" r="0.5" fill="#cfcfcf"/>
<circle cx="330.4" cy="223.1" r="0.5" fill="#cfcfcf"/>
<circle cx="340.8" cy="221.9" r="0.5" fill="#cfcfcf"/>
<circle cx="328.7" cy="217.6" r="0.5" fill="#cfcfcf"/>
<circle cx="338.6" cy="217.7" r="0.5" fill="#cfcfcf"/>
<circle cx="335.4" cy="219.1" r="0.5" fill="#cfcfcf"/>
<circle cx="328.9" cy="218.9" r="0.5" fill="#cfcfcf"/>
<circle cx="335.2" cy="219.0" r="0.5" fill="#cfcfcf"/>
<circle cx="331.4" cy="217.7" r="0.5" fill="#cfcfcf"/>
<circle cx="338.8" cy="221.6" r="0.5" fill="#cfcfcf"/>
<circle cx="338.4" cy="219.6" r="0.5" fill="#cfcfcf"/>
<circle cx="339.1" cy="220.2" r="0.5" fill="#cfcfcf"/>
<circle cx="334.8" cy="220.8" r="0.5" fill="#cfcfcf"/>
<circle cx="337.3" cy="219.3" r="0.5" fill="#cfcfcf"/>
<circle cx="339.8" cy="219.9" r="0.5" fill="#cfcfcf"/>
<circle cx="332.8" cy="224.1" r="0.5" fill="#cfcfcf"/>
<circle cx="335.3" cy="219.5" r="0.5" fill="#cfcfcf"/>
<circle cx="332.7" cy="217.5" r="0.5" fill="#cfcfcf"/>
<circle cx="327.6" cy="217.8" r="0.5" fill="#cfcfcf"/>
<circle cx="331.2" cy="219.3" r="0.5" fill="#cfcfcf"/>
<circle cx="329.2" cy="218.6" r="0.5" fill="#cfcfcf"/>
<circle cx="327.7" cy="218.6" r="0.5" fill="#cfcfcf"/>
<circle cx="328.9" cy="219.9" r="0.5" fill="#cfcfcf"/>
<circle cx="331.1" cy="224.6" r="0.5" fill="#cfcfcf"/>
<circle cx="336.4" cy="221.8" r="0.5" fill="#cfcfcf"/>
<circle cx="332.8" cy="224.7" r="0.5" fill="#cfcfcf"/>
<circle cx="327.0" cy="221.8" r="0.5" fill="#cfcfcf"/>
<circle cx="329.8" cy="221.8" r="0.5" fill="#cfcfcf"/>
<circle cx="337.1" cy="217.9" r="0.5" fill="#cfcfcf"/>
<circle cx="331.7" cy="225.0" r="0.5" fill="#cfcfcf"/>
<circle cx="331.0" cy="218.8" r="0.5" fill="#cfcfcf"/>
<circle cx="332.8" cy="218.6" r="0.5" fill="#cfcfcf"/>
<circle cx="337.2" cy="222.3" r="0.5" fill="#cfcfcf"/>
<circle cx="327.7" cy="218.3" r="0.5" fill="#cfcfcf"/>
<circle cx="336.2" cy="224.7" r="0.5" fill="#cfcfcf"/>
<circle cx="335.7" cy="219.6" r="0.5" fill="#cfcfcf"/>
<circle cx="331.8" cy="217.1" r="0.5" fill="#cfcfcf"/>
<circle cx="334.1" cy="225.2" r="0.5" fill="#cfcfcf"/>
<circle cx="333.6" cy="219.0" r="0.5" fill="#cfcfcf"/>
<circle cx="339.9" cy="219.9" r="0.5" fill="#cfcfcf"/>
<circle cx="331.6" cy="217.2" r="0.5" fill="#cfcfcf"/>
<circle cx="329.2" cy="219.4" r="0.5" fill="#cfcfcf"/>
<circle cx="330.1" cy="217.1" r="0.5" fill="#cfcfcf"/>
<circle cx="328.0" cy="220.1" r="0.5" fill="#cfcfcf"/>
<circle cx="331.7" cy="220.3" r="0.5" fill="#cfcfcf"/>
<circle cx="326.4" cy="218.8" r="0.5" fill="#cfcfcf"/>
<circle cx="326.8" cy="220.4" r="0.5" fill="#cfcfcf"/>
<circle cx="340.3" cy="221.0" r="0.5" fill="#cfcfcf"/>
<circle cx="339.2" cy="218.2" r="0.5" fill="#cfcfcf"/>
<circle cx="325.3" cy="220.4" r="0.5" fill="#cfcfcf"/>
<circle cx="333.1" cy="220.8" r="0.5" fill="#cfcfcf"/>
<circle cx="331.3" cy="221.3" r="0.5" fill="#cfcfcf"/>
<circle cx="337.0" cy="224.4" r="0.5" fill="#cfcfcf"/>
<circle cx="330.1" cy="219.7" r="0.5" fill="#cfcfcf"/>
<circle cx="338.7" cy="218.2" r="0.5" fill="#cfcfcf"/>
<circle cx="326.9" cy="218.8" r="0.5" fill="#cfcfcf"/>
<circle cx="326.5" cy="222.9" r="0.5" fill="#cfcfcf"/>
<circle cx="338.6" cy="218.8" r="0.5" fill="#cfcfcf"/>
<circle cx="329.1" cy="217.4" r="0.5" fill="#cfcfcf"/>
<circle cx="332.1" cy="220.8" r="0.5" fill="#cfcfcf"/>
<circle cx="336.6" cy="217.1" r="0.5" fill="#cfcfcf"/>
<circle cx="328.3" cy="218.6" r="0.5" fill="#cfcfcf"/>
<circle cx="331.2" cy="217.4" r="0.5" fill="#cfcfcf"/>
<circle cx="332.0" cy="218.8" r="0.5" fill="#cfcfcf"/>
<circle cx="337.5" cy="220.6" r="0.5" fill="#cfcfcf"/>
<circle cx="339.9" cy="221.6" r="0.5" fill="#cfcfcf"/>
<circle cx="337.6" cy="220.8" r="0.5" fill="#cfcfcf"/>
<circle cx="332.3" cy="223.4" r="0.5" fill="#cfcfcf"/>
<circle cx="335.9" cy="224.8" r="0.5" fill="#cfcfcf"/>
<circle cx="337.1" cy="222.1" r="0.5" fill="#cfcfcf"/>
<circle cx="329.4" cy="223.3" r="0.5" fill="#cfcfcf"/>
<circle cx="331.3" cy="217.6" r="0.5" fill="#cfcfcf"/>
<circle cx="329.4" cy="221.9" r="0.5" fill="#cfcfcf"/>
<circle cx="329.7" cy="217.2" r="0.5" fill="#cfcfcf"/>
<circle cx="337.7" cy="220.6" r="0.5" fill="#cfcfcf"/>
<circle cx="327.2" cy="219.1" r="0.5" fill="#cfcfcf"/>
<circle cx="335.2" cy="218.3" r="0.5" fill="#cfcfcf"/>
<circle cx="332.1" cy="219.1" r="0.5" fill="#cfcfcf"/>
<circle cx="334.7" cy="223.5" r="0.5" fill="#cfcfcf"/>
<circle cx="337.1" cy="217.4" r="0.5" fill="#cfcfcf"/>
<circle cx="333.8" cy="217.9" r="0.5" fill="#cfcfcf"/>
<circle cx="336.8" cy="219.7" r="0.5" fill="#cfcfcf"/>
<circle cx="327.0" cy="218.8" r="0.5" fill="#cfcfcf"/>
<circle cx="340.2" cy="219.8" r="0.5" fill="#cfcfcf"/>
<circle cx="332.2" cy="219.6" r="0.5" fill="#cfcfcf"/>
<circle cx="333.8" cy="225.0" r="0.5" fill="#cfcfcf"/>
<circle cx="334.9" cy="217.5" r="0.5" fill="#cfcfcf"/>
<circle cx="338.5" cy="219.5" r="0.5" fill="#cfcfcf"/>
<circle cx="325.5" cy="220.8" r="0.5" fill="#cfcfcf"/>
<circle cx="333.0" cy="224.0" r="0.5" fill="#cfcfcf"/>
<circle cx="331.5" cy="218.2" r="0.5" fill="#cfcfcf"/>
<circle cx="329.6" cy="218.1" r="0.5" fill="#cfcfcf"/>
<circle cx="334.3" cy="219.1" r="0.5" fill="#cfcfcf"/>
<circle cx="337.5" cy="218.4" r="0.5" fill="#cfcfcf"/>
<circle cx="330.8" cy="218.4" r="0.5" fill="#cfcfcf"/>
<circle cx="339.1" cy="221.3" r="0.5" fill="#cfcfcf"/>
<circle cx="331.7" cy="217.7" r="0.5" fill="#cfcfcf"/>
<circle cx="338.8" cy="219.9" r="0.5" fill="#cfcfcf"/>
<circle cx="326.6" cy="222.3" r="0.5" fill="#cfcfcf"/>
<circle cx="338.2" cy="218.9" r="0.5" fill="#cfcfcf"/>
<circle cx="336.3" cy="223.8" r="0.5" fill="#cfcfcf"/>
<circle cx="335.3" cy="223.2" r="0.5" fill="#cfcfcf"/>
<circle cx="333.5" cy="220.9" r="0.5" fill="#cfcfcf"/>
<circle cx="328.1" cy="219.3" r="0.5" fill="#cfcfcf"/>
<circle cx="330.2" cy="219.3" r="0.5" fill="#cfcfcf"/>
<circle cx="332.9" cy="222.2" r="0.5" fill="#cfcfcf"/>
<circle cx="331.6" cy="225.1" r="0.5" fill="#cfcfcf"/>
<circle cx="336.5" cy="221.8" r="0.5" fill="#cfcfcf"/>
<circle cx="333.9" cy="223.2" r="0.5" fill="#cfcfcf"/>
<circle cx="331.0" cy="221.0" r="0.5" fill="#cfcfcf"/>
<circle cx="336.3" cy="220.2" r="0.5" fill="#cfcfcf"/>
<circle cx="329.7" cy="217.3" r="0.5" fill="#cfcfcf"/>
<circle cx="326.4" cy="219.1" r="0.5" fill="#cfcfcf"/>
<circle cx="334.6" cy="222.8" r="0.5" fill="#cfcfcf"/>
<circle cx="336.9" cy="218.8" r="0.5" fill="#cfcfcf"/>
<circle cx="340.4" cy="218.6" r="0.5" fill="#cfcfcf"/>
<circle cx="336.9" cy="217.3" r="0.5" fill="#cfcfcf"/>
<circle cx="337.5" cy="221.8" r="0.5" fill="#cfcfcf"/>
<circle cx="336.4" cy="223.6" r="0.5" fill="#cfcfcf"/>
<circle cx="337.3" cy="221.2" r="0.5" fill="#cfcfcf"/>
<circle cx="328.5" cy="220.2" r="0.5" fill="#cfcfcf"/>
<circle cx="339.9" cy="218.3" r="0.5" fill="#cfcfcf"/>
<circle cx="341.2" cy="220.5" r="0.5" fill="#cfcfcf"/>
<circle cx="331.5" cy="218.0" r="0.5" fill="#cfcfcf"/>
<circle cx="335.8" cy="224.2" r="0.5" fill="#cfcfcf"/>
<circle cx="340.1" cy="221.2" r="0.5" fill="#cfcfcf"/>
<circle cx="331.4" cy="217.5" r="0.5" fill="#cfcfcf"/>
<circle cx="336.4" cy="220.6" r="0.5" fill="#cfcfcf"/>
<circle cx="336.9" cy="219.2" r="0.5" fill="#cfcfcf"/>
<circle cx="339.7" cy="218.2" r="0.5" fill="#cfcfcf"/>
<circle cx="330.1" cy="218.5" r="0.5" fill="#cfcfcf"/>
<circle cx="335.3" cy="224.2" r="0.5" fill="#cfcfcf"/>
<circle cx="327.8" cy="221.4" r="0.5" fill="#cfcfcf"/>
<circle cx="337.7" cy="218.2" r="0.5" fill="#cfcfcf"/>
<circle cx="326.0" cy="220.7" r="0.5" fill="#cfcfcf"/>
<circle cx="337.1" cy="219.5" r="0.5" fill="#cfcfcf"/>
<circle cx="332.1" cy="220.3" r="0.5" fill="#cfcfcf"/>
<circle cx="340.0" cy="218.7" r="0.5" fill="#cfcfcf"/>
<circle cx="329.7" cy="221.1" r="0.5" fill="#cfcfcf"/>
<circle cx="334.3" cy="221.1" r="0.5" fill="#cfcfcf"/>
<circle cx="328.1" cy="218.0" r="0.5" fill="#cfcfcf"/>
<circle cx="334.9" cy="221.6" r="0.5" fill="#cfcfcf"/>
<circle cx="336.5" cy="222.4" r="0.5" fill="#cfcfcf"/>
<circle cx="326.0" cy="219.9" r="0.5" fill="#cfcfcf"/>
<circle cx="330.3" cy="223.7" r="0.5" fill="#cfcfcf"/>
<circle cx="335.7" cy="224.5" r="0.5" fill="#cfcfcf"/>
<circle cx="328.8" cy="222.1" r="0.5" fill="#cfcfcf"/>
<circle cx="339.0" cy="219.9" r="0.5" fill="#cfcfcf"/>
<circle cx="327.5" cy="221.2" r="0.5" fill="#cfcfcf"/>
<circle cx="326.7" cy="222.7" r="0.5" fill="#cfcfcf"/>
<circle cx="337.2" cy="223.4" r="0.5" fill="#cfcfcf"/>
<circle cx="338.3" cy="222.3" r="0.5" fill="#cfcfcf"/>
<circle cx="335.4" cy="224.9" r="0.5" fill="#cfcfcf"/>
<circle cx="331.2" cy="219.7" r="0.5" fill="#cfcfcf"/>
<circle cx="336.3" cy="222.6" r="0.5" fill="#cfcfcf"/>
<circle cx="326.4" cy="219.4" r="0.5" fill="#cfcfcf"/>
<circle cx="334.0" cy="219.2" r="0.5" fill="#cfcfcf"/>
<circle cx="327.0" cy="221.0" r="0.5" fill="#cfcfcf"/>
<circle cx="331.2" cy="221.9" r="0.5" fill="#cfcfcf"/>
<circle cx="333.2" cy="224.9" r="0.5" fill="#cfcfcf"/>
<circle cx="337.6" cy="222.3" r="0.5" fill="#cfcfcf"/>
<circle cx="329.9" cy="217.6" r="0.5" fill="#cfcfcf"/>
<circle cx="333.0" cy="219.1" r="0.5" fill="#cfcfcf"/>
<circle cx="334.8" cy="218.0" r="0.5" fill="#cfcfcf"/>
<circle cx="330.6" cy="215.1" r="0.5" fill="#cfcfcf"/>
<circle cx="332.0" cy="216.8" r="0.5" fill="#cfcfcf"/>
<circle cx="335.5" cy="216.2" r="0.5" fill="#cfcfcf"/>
<circle cx="329.6" cy="215.3" r="0.5" fill="#cfcfcf"/>
<circle cx="336.2" cy="215.9" r="0.5" fill="#cfcfcf"/>
<circle cx="326.6" cy="215.6" r="0.5" fill="#cfcfcf"/>
<circle cx="328.9" cy="216.7" r="0.5" fill="#cfcfcf"/>
<circle cx="326.9" cy="215.1" r="0.5" fill="#cfcfcf"/>
<circle cx="327.2" cy="215.7" r="0.5" fill="#cfcfcf"/>
<circle cx="337.8" cy="216.0" r="0.5" fill="#cfcfcf"/>
<circle cx="330.6" cy="218.1" r="0.5" fill="#cfcfcf"/>
<circle cx="327.1" cy="215.4" r="0.5" fill="#cfcfcf"/>
<circle cx="335.2" cy="215.4" r="0.5" fill="#cfcfcf"/>
<circle cx="331.5" cy="215.4" r="0.5" fill="#cfcfcf"/>
<circle cx="332.2" cy="214.4" r="0.5" fill="#cfcfcf"/>
<circle cx="331.3" cy="215.7" r="0.5" fill="#cfcfcf"/>
<circle cx="327.0" cy="215.1" r="0.5" fill="#cfcfcf"/>
<circle cx="337.5" cy="216.8" r="0.5" fill="#cfcfcf"/>
<circle cx="332.1" cy="214.4" r="0.5" fill="#cfcfcf"/>
<circle cx="330.7" cy="217.2" r="0.5" fill="#cfcfcf"/>
<circle cx="331.2" cy="216.3" r="0.5" fill="#cfcfcf"/>
<circle cx="336.8" cy="216.6" r="0.5" fill="#cfcfcf"/>
<circle cx="333.6" cy="214.4" r="0.5" fill="#cfcfcf"/>
<circle cx="331.0" cy="217.7" r="0.5" fill="#cfcfcf"/>
<circle cx="335.1" cy="217.8" r="0.5" fill="#cfcfcf"/>
<circle cx="327.8" cy="217.3" r="0.5" fill="#cfcfcf"/>
<circle cx="331.1" cy="218.3" r="0.5" fill="#cfcfcf"/>
<circle cx="331.1" cy="215.1" r="0.5" fill="#cfcfcf"/>
<circle cx="331.6" cy="215.1" r="0.5" fill="#cfcfcf"/>
<circle cx="334.0" cy="214.6" r="0.5" fill="#cfcfcf"/>
<circle cx="328.0" cy="215.7" r="0.5" fill="#cfcfcf"/>
<circle cx="326.9" cy="215.4" r="0.5" fill="#cfcfcf"/>
<circle cx="333.2" cy="214.7" r="0.5" fill="#cfcfcf"/>
<circle cx="328.8" cy="218.0" r="0.5" fill="#cfcfcf"/>
<circle cx="328.2" cy="215.6" r="0.5" fill="#cfcfcf"/>
<circle cx="329.2" cy="217.1" r="0.5" fill="#cfcfcf"/>
<circle cx="330.5" cy="217.2" r="0.5" fill="#cfcfcf"/>
<circle cx="327.8" cy="215.9" r="0.5" fill="#cfcfcf"/>
<circle cx="333.7" cy="215.4" r="0.5" fill="#cfcfcf"/>
<circle cx="330.4" cy="215.7" r="0.5" fill="#cfcfcf"/>
<circle cx="333.0" cy="218.2" r="0.5" fill="#cfcfcf"/>
<circle cx="328.9" cy="216.2" r="0.5" fill="#cfcfcf"/>
<circle cx="329.2" cy="216.0" r="0.5" fill="#cfcfcf"/>
<circle cx="334.8" cy="214.7" r="0.5" fill="#cfcfcf"/>
<circle cx="331.8" cy="216.9" r="0.5" fill="#cfcfcf"/>
<circle cx="331.0" cy="215.8" r="0.5" fill="#cfcfcf"/>
<circle cx="333.3" cy="217.3" r="0.5" fill="#cfcfcf"/>
<circle cx="326.7" cy="215.8" r="0.5" fill="#cfcfcf"/>
<circle cx="326.5" cy="215.4" r="0.5" fill="#cfcfcf"/>
<circle cx="329.6" cy="215.6" r="0.5" fill="#cfcfcf"/>
<circle cx="333.9" cy="218.0" r="0.5" fill="#cfcfcf"/>
<circle cx="330.4" cy="216.0" r="0.5" fill="#cfcfcf"/>
<circle cx="334.6" cy="218.1" r="0.5" fill="#cfcfcf"/>
<circle cx="329.6" cy="214.8" r="0.5" fill="#cfcfcf"/>
<circle cx="331.4" cy="217.0" r="0.5" fill="#cfcfcf"/>
<circle cx="332.3" cy="215.5" r="0.5" fill="#cfcfcf"/>
<circle cx="337.1" cy="215.2" r="0.5" fill="#cfcfcf"/>
<circle cx="332.6" cy="217.5" r="0.5" fill="#cfcfcf"/>
<circle cx="327.7" cy="215.3" r="0.5" fill="#cfcfcf"/>
<circle cx="331.9" cy="216.1" r="0.5" fill="#cfcfcf"/>
<circle cx="328.5" cy="215.7" r="0.5" fill="#cfcfcf"/>
<circle cx="330.1" cy="214.7" r="0.5" fill="#cfcfcf"/>
<circle cx="329.3" cy="217.3" r="0.5" fill="#cfcfcf"/>
<circle cx="334.9" cy="215.1" r="0.5" fill="#cfcfcf"/>
<circle cx="336.0" cy="216.5" r="0.5" fill="#cfcfcf"/>
<circle cx="330.7" cy="216.5" r="0.5" fill="#cfcfcf"/>
<circle cx="328.9" cy="215.1" r="0.5" fill="#cfcfcf"/>
<circle cx="336.5" cy="215.6" r="0.5" fill="#cfcfcf"/>
<circle cx="334.9" cy="216.1" r="0.5" fill="#cfcfcf"/>
<circle cx="378.3" cy="221.3" r="0.45" fill="#c4c4c4"/>
<circle cx="323.0" cy="222.0" r="0.45" fill="#c4c4c4"/>
<circle cx="343.0" cy="223.0" r="0.45" fill="#c4c4c4"/>
<rect x="309.5" y="183.4" width="10.8" height="3.3" fill="#ececec" stroke="#d6d6d6" stroke-width="0.25"/>
<text x="314.90" y="186.09" font-size="2.9" text-anchor="middle" fill="#333">PNMT7</text>
<rect x="343.0" y="183.4" width="12.0" height="3.3" fill="#ececec" stroke="#d6d6d6" stroke-width="0.25"/>
<text x="349.00" y="186.00" font-size="2.63" text-anchor="middle" fill="#333">INF_OCK</text>
<rect x="323.2" y="192.4" width="6.4" height="3.1" fill="#ececec" stroke="#d6d6d6" stroke-width="0.25"/>
<text x="326.40" y="194.79" font-size="2.34" text-anchor="middle" fill="#333">IRF1</text>
<rect x="322.4" y="209.6" width="8.6" height="3.1" fill="#ececec" stroke="#d6d6d6" stroke-width="0.25"/>
<text x="326.70" y="211.92" font-size="2.15" text-anchor="middle" fill="#333">RPL_36</text>
<rect x="317.2" y="215.0" width="6.0" height="3.2" fill="#ececec" stroke="#d6d6d6" stroke-width="0.25"/>
<text x="320.20" y="217.38" font-size="2.18" text-anchor="middle" fill="#333">CL1B</text>
<rect x="325.5" y="215.0" width="10.6" height="3.2" fill="#ececec" stroke="#d6d6d6" stroke-width="0.25"/>
<text x="330.80" y="217.57" font-size="2.69" text-anchor="middle" fill="#333">RPL13A</text>
<circle cx="314.6" cy="178.3" r="0.7" fill="#c00f28"/>
<circle cx="321.5" cy="185.8" r="0.7" fill="#c00f28"/>
<circle cx="316.3" cy="188.6" r="0.7" fill="#c00f28"/>
<circle cx="326.2" cy="190.3" r="0.7" fill="#c00f28"/>
<circle cx="349.5" cy="181.7" r="0.7" fill="#c00f28"/>
<circle cx="318.1" cy="196.2" r="0.7" fill="#c00f28"/>
<circle cx="322.4" cy="198.4" r="0.7" fill="#c00f28"/>
<circle cx="323.2" cy="201.0" r="0.7" fill="#c00f28"/>
<circle cx="320.6" cy="203.0" r="0.7" fill="#c00f28"/>
<circle cx="324.1" cy="205.3" r="0.7" fill="#c00f28"/>
<circle cx="326.7" cy="207.5" r="0.7" fill="#c00f28"/>
<circle cx="321.5" cy="209.6" r="0.7" fill="#c00f28"/>
<circle cx="327.5" cy="213.0" r="0.7" fill="#c00f28"/>
<circle cx="332.7" cy="202.3" r="0.7" fill="#c00f28"/>
<circle cx="336.5" cy="204.8" r="0.7" fill="#c00f28"/>
<circle cx="339.9" cy="201.3" r="0.7" fill="#c00f28"/>
<circle cx="339.9" cy="198.4" r="0.7" fill="#c00f28"/>
<circle cx="342.7" cy="195.8" r="0.7" fill="#c00f28"/>
<circle cx="346.1" cy="195.5" r="0.7" fill="#c00f28"/>
<circle cx="347.8" cy="201.3" r="0.7" fill="#c00f28"/>
<circle cx="345.1" cy="202.7" r="0.7" fill="#c00f28"/>
<circle cx="340.4" cy="203.5" r="0.7" fill="#c00f28"/>
<circle cx="340.4" cy="208.7" r="0.7" fill="#c00f28"/>
<circle cx="334.4" cy="211.3" r="0.7" fill="#c00f28"/>
<circle cx="349.0" cy="211.3" r="0.7" fill="#c00f28"/>
<circle cx="337.8" cy="213.9" r="0.7" fill="#c00f28"/>
<circle cx="323.5" cy="199.5" r="0.7" fill="#c00f28"/>
<circle cx="325.0" cy="206.0" r="0.7" fill="#c00f28"/>
<circle cx="330.0" cy="213.5" r="0.7" fill="#c00f28"/>
<circle cx="335.0" cy="213.8" r="0.7" fill="#c00f28"/>
<circle cx="328.5" cy="212.0" r="0.7" fill="#c00f28"/>
<line x1="289.7" y1="129.2" x2="289.7" y2="229.9" stroke="#555" stroke-width="0.55"/>
<line x1="289.4" y1="229.6" x2="403.6" y2="229.6" stroke="#555" stroke-width="0.55"/>
<line x1="294.40" y1="229.6" x2="294.40" y2="230.79999999999998" stroke="#444" stroke-width="0.4"/>
<text x="294.40" y="234.50" font-size="3.5" text-anchor="middle" fill="#555">0.2</text>
<line x1="332.20" y1="229.6" x2="332.20" y2="230.79999999999998" stroke="#444" stroke-width="0.4"/>
<text x="332.20" y="234.50" font-size="3.5" text-anchor="middle" fill="#555">0.0</text>
<line x1="370.00" y1="229.6" x2="370.00" y2="230.79999999999998" stroke="#444" stroke-width="0.4"/>
<text x="370.00" y="234.50" font-size="3.5" text-anchor="middle" fill="#555">0.2</text>
<line x1="288.5" y1="225.40" x2="289.7" y2="225.40" stroke="#444" stroke-width="0.4"/>
<text x="287.80" y="226.65" font-size="3.5" text-anchor="end" fill="#555">0.0</text>
<line x1="288.5" y1="203.05" x2="289.7" y2="203.05" stroke="#444" stroke-width="0.4"/>
<text x="287.80" y="204.30" font-size="3.5" text-anchor="end" fill="#555">2.5</text>
<line x1="288.5" y1="180.70" x2="289.7" y2="180.70" stroke="#444" stroke-width="0.4"/>
<text x="287.80" y="181.95" font-size="3.5" text-anchor="end" fill="#555">5.0</text>
<line x1="288.5" y1="158.35" x2="289.7" y2="158.35" stroke="#444" stroke-width="0.4"/>
<text x="287.80" y="159.60" font-size="3.5" text-anchor="end" fill="#555">7.5</text>
<line x1="288.5" y1="136.00" x2="289.7" y2="136.00" stroke="#444" stroke-width="0.4"/>
<text x="287.80" y="137.25" font-size="3.5" text-anchor="end" fill="#555">10.0</text>
<text x="332.40" y="133.00" font-size="5.4" text-anchor="middle" font-weight="bold" fill="#000">CD4T cells</text>
<text x="269.30" y="133.00" font-size="8" text-anchor="start" font-weight="bold" fill="#000">c</text>
<text x="349.0" y="239.8" font-size="3.6" text-anchor="middle" fill="#333">Log<tspan font-size="2.4" dy="0.8">2</tspan><tspan dy="-0.8"> fold change</tspan></text>
<text x="275.8" y="179.0" font-size="3.6" text-anchor="middle" fill="#333" transform="rotate(-90 275.8 179.0)">&#8722; Log<tspan font-size="2.4" dy="0.8">10</tspan><tspan dy="-0.8"> P</tspan></text>
<text x="402.50" y="246.30" font-size="3.25" text-anchor="end" fill="#333">total = 2429 tested genes</text>
<circle cx="413.5" cy="210.9" r="1.45" fill="#c00f28"/>
<circle cx="413.5" cy="215.1" r="1.45" fill="#cdcdcd"/>
<text x="418.80" y="212.25" font-size="3.85" text-anchor="start" fill="#333">DEGs</text>
<text x="418.80" y="216.45" font-size="3.85" text-anchor="start" fill="#333">non</text>
<text x="427.70" y="216.45" font-size="3.85" text-anchor="start" fill="#333">DEGs</text>
<line x1="297.90" y1="259.9" x2="297.90" y2="361.0" stroke="#ebebeb" stroke-width="0.5"/>
<line x1="311.40" y1="259.9" x2="311.40" y2="361.0" stroke="#ebebeb" stroke-width="0.5"/>
<line x1="324.90" y1="259.9" x2="324.90" y2="361.0" stroke="#ebebeb" stroke-width="0.5"/>
<line x1="338.40" y1="259.9" x2="338.40" y2="361.0" stroke="#ebebeb" stroke-width="0.5"/>
<line x1="351.90" y1="259.9" x2="351.90" y2="361.0" stroke="#ebebeb" stroke-width="0.5"/>
<line x1="365.40" y1="259.9" x2="365.40" y2="361.0" stroke="#ebebeb" stroke-width="0.5"/>
<line x1="378.90" y1="259.9" x2="378.90" y2="361.0" stroke="#ebebeb" stroke-width="0.5"/>
<line x1="392.40" y1="259.9" x2="392.40" y2="361.0" stroke="#ebebeb" stroke-width="0.5"/>
<line x1="405.90" y1="259.9" x2="405.90" y2="361.0" stroke="#ebebeb" stroke-width="0.5"/>
<line x1="288.6" y1="356.30" x2="406.2" y2="356.30" stroke="#ebebeb" stroke-width="0.5"/>
<line x1="288.6" y1="343.35" x2="406.2" y2="343.35" stroke="#ebebeb" stroke-width="0.5"/>
<line x1="288.6" y1="330.40" x2="406.2" y2="330.40" stroke="#ebebeb" stroke-width="0.5"/>
<line x1="288.6" y1="317.45" x2="406.2" y2="317.45" stroke="#ebebeb" stroke-width="0.5"/>
<line x1="288.6" y1="304.50" x2="406.2" y2="304.50" stroke="#ebebeb" stroke-width="0.5"/>
<line x1="288.6" y1="291.55" x2="406.2" y2="291.55" stroke="#ebebeb" stroke-width="0.5"/>
<line x1="288.6" y1="278.60" x2="406.2" y2="278.60" stroke="#ebebeb" stroke-width="0.5"/>
<line x1="288.6" y1="265.65" x2="406.2" y2="265.65" stroke="#ebebeb" stroke-width="0.5"/>
<line x1="351.90" y1="259.9" x2="351.90" y2="361.0" stroke="#bbb" stroke-width="0.5" stroke-dasharray="1,0.8"/>
<line x1="288.6" y1="339.40" x2="406.2" y2="339.40" stroke="#8a8a8a" stroke-width="0.42" stroke-dasharray="2.2,0.9"/>
<ellipse cx="352" cy="354.22" rx="8.80" ry="3.60" fill="#d6d6d6"/>
<circle cx="351.2" cy="352.8" r="0.5" fill="#cfcfcf"/>
<circle cx="341.1" cy="353.5" r="0.5" fill="#cfcfcf"/>
<circle cx="353.2" cy="354.6" r="0.5" fill="#cfcfcf"/>
<circle cx="341.9" cy="352.8" r="0.5" fill="#cfcfcf"/>
<circle cx="356.5" cy="353.2" r="0.5" fill="#cfcfcf"/>
<circle cx="357.0" cy="351.5" r="0.5" fill="#cfcfcf"/>
<circle cx="346.2" cy="351.3" r="0.5" fill="#cfcfcf"/>
<circle cx="352.1" cy="357.6" r="0.5" fill="#cfcfcf"/>
<circle cx="354.0" cy="356.1" r="0.5" fill="#cfcfcf"/>
<circle cx="349.4" cy="355.9" r="0.5" fill="#cfcfcf"/>
<circle cx="343.2" cy="352.3" r="0.5" fill="#cfcfcf"/>
<circle cx="355.8" cy="355.7" r="0.5" fill="#cfcfcf"/>
<circle cx="350.3" cy="351.1" r="0.5" fill="#cfcfcf"/>
<circle cx="346.9" cy="351.8" r="0.5" fill="#cfcfcf"/>
<circle cx="347.2" cy="356.5" r="0.5" fill="#cfcfcf"/>
<circle cx="345.4" cy="357.2" r="0.5" fill="#cfcfcf"/>
<circle cx="349.3" cy="353.5" r="0.5" fill="#cfcfcf"/>
<circle cx="341.5" cy="353.1" r="0.5" fill="#cfcfcf"/>
<circle cx="354.1" cy="351.3" r="0.5" fill="#cfcfcf"/>
<circle cx="353.7" cy="357.3" r="0.5" fill="#cfcfcf"/>
<circle cx="342.8" cy="353.9" r="0.5" fill="#cfcfcf"/>
<circle cx="351.9" cy="357.5" r="0.5" fill="#cfcfcf"/>
<circle cx="350.2" cy="352.9" r="0.5" fill="#cfcfcf"/>
<circle cx="355.1" cy="351.2" r="0.5" fill="#cfcfcf"/>
<circle cx="353.8" cy="351.6" r="0.5" fill="#cfcfcf"/>
<circle cx="354.4" cy="357.9" r="0.5" fill="#cfcfcf"/>
<circle cx="342.2" cy="354.0" r="0.5" fill="#cfcfcf"/>
<circle cx="354.3" cy="351.5" r="0.5" fill="#cfcfcf"/>
<circle cx="356.5" cy="357.8" r="0.5" fill="#cfcfcf"/>
<circle cx="346.2" cy="354.6" r="0.5" fill="#cfcfcf"/>
<circle cx="341.9" cy="352.7" r="0.5" fill="#cfcfcf"/>
<circle cx="355.8" cy="354.4" r="0.5" fill="#cfcfcf"/>
<circle cx="358.0" cy="351.1" r="0.5" fill="#cfcfcf"/>
<circle cx="348.6" cy="357.0" r="0.5" fill="#cfcfcf"/>
<circle cx="353.9" cy="353.2" r="0.5" fill="#cfcfcf"/>
<circle cx="349.8" cy="358.2" r="0.5" fill="#cfcfcf"/>
<circle cx="353.6" cy="350.7" r="0.5" fill="#cfcfcf"/>
<circle cx="358.6" cy="352.5" r="0.5" fill="#cfcfcf"/>
<circle cx="350.5" cy="351.8" r="0.5" fill="#cfcfcf"/>
<circle cx="350.8" cy="352.5" r="0.5" fill="#cfcfcf"/>
<circle cx="343.0" cy="354.7" r="0.5" fill="#cfcfcf"/>
<circle cx="343.3" cy="356.2" r="0.5" fill="#cfcfcf"/>
<circle cx="358.8" cy="353.5" r="0.5" fill="#cfcfcf"/>
<circle cx="356.6" cy="352.0" r="0.5" fill="#cfcfcf"/>
<circle cx="357.2" cy="353.1" r="0.5" fill="#cfcfcf"/>
<circle cx="349.8" cy="352.8" r="0.5" fill="#cfcfcf"/>
<circle cx="359.9" cy="352.7" r="0.5" fill="#cfcfcf"/>
<circle cx="355.7" cy="351.6" r="0.5" fill="#cfcfcf"/>
<circle cx="359.6" cy="352.1" r="0.5" fill="#cfcfcf"/>
<circle cx="362.7" cy="354.5" r="0.5" fill="#cfcfcf"/>
<circle cx="345.6" cy="352.9" r="0.5" fill="#cfcfcf"/>
<circle cx="354.5" cy="358.0" r="0.5" fill="#cfcfcf"/>
<circle cx="348.8" cy="351.4" r="0.5" fill="#cfcfcf"/>
<circle cx="353.4" cy="351.4" r="0.5" fill="#cfcfcf"/>
<circle cx="342.9" cy="354.0" r="0.5" fill="#cfcfcf"/>
<circle cx="356.3" cy="351.0" r="0.5" fill="#cfcfcf"/>
<circle cx="350.9" cy="355.5" r="0.5" fill="#cfcfcf"/>
<circle cx="357.8" cy="352.8" r="0.5" fill="#cfcfcf"/>
<circle cx="356.7" cy="356.1" r="0.5" fill="#cfcfcf"/>
<circle cx="360.4" cy="353.5" r="0.5" fill="#cfcfcf"/>
<circle cx="352.6" cy="351.6" r="0.5" fill="#cfcfcf"/>
<circle cx="354.9" cy="351.1" r="0.5" fill="#cfcfcf"/>
<circle cx="358.2" cy="351.9" r="0.5" fill="#cfcfcf"/>
<circle cx="351.0" cy="354.1" r="0.5" fill="#cfcfcf"/>
<circle cx="349.5" cy="351.6" r="0.5" fill="#cfcfcf"/>
<circle cx="351.6" cy="357.8" r="0.5" fill="#cfcfcf"/>
<circle cx="352.8" cy="357.7" r="0.5" fill="#cfcfcf"/>
<circle cx="360.6" cy="353.9" r="0.5" fill="#cfcfcf"/>
<circle cx="352.5" cy="353.9" r="0.5" fill="#cfcfcf"/>
<circle cx="355.1" cy="353.9" r="0.5" fill="#cfcfcf"/>
<circle cx="347.6" cy="355.7" r="0.5" fill="#cfcfcf"/>
<circle cx="356.9" cy="351.2" r="0.5" fill="#cfcfcf"/>
<circle cx="356.4" cy="353.2" r="0.5" fill="#cfcfcf"/>
<circle cx="351.8" cy="354.8" r="0.5" fill="#cfcfcf"/>
<circle cx="342.2" cy="354.5" r="0.5" fill="#cfcfcf"/>
<circle cx="349.2" cy="357.1" r="0.5" fill="#cfcfcf"/>
<circle cx="346.1" cy="356.6" r="0.5" fill="#cfcfcf"/>
<circle cx="357.1" cy="354.7" r="0.5" fill="#cfcfcf"/>
<circle cx="354.1" cy="354.6" r="0.5" fill="#cfcfcf"/>
<circle cx="355.9" cy="353.0" r="0.5" fill="#cfcfcf"/>
<circle cx="354.4" cy="351.7" r="0.5" fill="#cfcfcf"/>
<circle cx="342.4" cy="352.7" r="0.5" fill="#cfcfcf"/>
<circle cx="351.3" cy="353.8" r="0.5" fill="#cfcfcf"/>
<circle cx="348.3" cy="356.2" r="0.5" fill="#cfcfcf"/>
<circle cx="354.0" cy="358.1" r="0.5" fill="#cfcfcf"/>
<circle cx="343.3" cy="352.6" r="0.5" fill="#cfcfcf"/>
<circle cx="346.1" cy="356.2" r="0.5" fill="#cfcfcf"/>
<circle cx="345.2" cy="351.9" r="0.5" fill="#cfcfcf"/>
<circle cx="349.2" cy="355.8" r="0.5" fill="#cfcfcf"/>
<circle cx="351.3" cy="353.7" r="0.5" fill="#cfcfcf"/>
<circle cx="349.1" cy="354.8" r="0.5" fill="#cfcfcf"/>
<circle cx="346.2" cy="352.1" r="0.5" fill="#cfcfcf"/>
<circle cx="352.4" cy="351.8" r="0.5" fill="#cfcfcf"/>
<circle cx="350.7" cy="357.8" r="0.5" fill="#cfcfcf"/>
<circle cx="346.5" cy="356.9" r="0.5" fill="#cfcfcf"/>
<circle cx="354.3" cy="351.9" r="0.5" fill="#cfcfcf"/>
<circle cx="342.3" cy="352.2" r="0.5" fill="#cfcfcf"/>
<circle cx="347.6" cy="356.4" r="0.5" fill="#cfcfcf"/>
<circle cx="348.0" cy="352.0" r="0.5" fill="#cfcfcf"/>
<circle cx="354.3" cy="353.5" r="0.5" fill="#cfcfcf"/>
<circle cx="348.6" cy="356.7" r="0.5" fill="#cfcfcf"/>
<circle cx="349.8" cy="351.8" r="0.5" fill="#cfcfcf"/>
<circle cx="347.1" cy="353.3" r="0.5" fill="#cfcfcf"/>
<circle cx="354.4" cy="354.2" r="0.5" fill="#cfcfcf"/>
<circle cx="350.7" cy="351.7" r="0.5" fill="#cfcfcf"/>
<circle cx="349.8" cy="352.5" r="0.5" fill="#cfcfcf"/>
<circle cx="344.8" cy="353.9" r="0.5" fill="#cfcfcf"/>
<circle cx="345.1" cy="355.5" r="0.5" fill="#cfcfcf"/>
<circle cx="355.5" cy="351.4" r="0.5" fill="#cfcfcf"/>
<circle cx="354.8" cy="352.6" r="0.5" fill="#cfcfcf"/>
<circle cx="350.8" cy="354.5" r="0.5" fill="#cfcfcf"/>
<circle cx="357.8" cy="357.2" r="0.5" fill="#cfcfcf"/>
<circle cx="357.1" cy="351.8" r="0.5" fill="#cfcfcf"/>
<circle cx="352.9" cy="352.6" r="0.5" fill="#cfcfcf"/>
<circle cx="341.4" cy="354.0" r="0.5" fill="#cfcfcf"/>
<circle cx="351.4" cy="357.0" r="0.5" fill="#cfcfcf"/>
<circle cx="348.1" cy="356.7" r="0.5" fill="#cfcfcf"/>
<circle cx="352.3" cy="351.2" r="0.5" fill="#cfcfcf"/>
<circle cx="356.8" cy="352.3" r="0.5" fill="#cfcfcf"/>
<circle cx="352.7" cy="351.0" r="0.5" fill="#cfcfcf"/>
<circle cx="355.3" cy="352.9" r="0.5" fill="#cfcfcf"/>
<circle cx="360.5" cy="353.6" r="0.5" fill="#cfcfcf"/>
<circle cx="344.0" cy="355.3" r="0.5" fill="#cfcfcf"/>
<circle cx="348.9" cy="352.2" r="0.5" fill="#cfcfcf"/>
<circle cx="348.0" cy="352.8" r="0.5" fill="#cfcfcf"/>
<circle cx="345.0" cy="354.6" r="0.5" fill="#cfcfcf"/>
<circle cx="360.1" cy="354.2" r="0.5" fill="#cfcfcf"/>
<circle cx="341.4" cy="353.4" r="0.5" fill="#cfcfcf"/>
<circle cx="360.0" cy="355.2" r="0.5" fill="#cfcfcf"/>
<circle cx="361.0" cy="355.9" r="0.5" fill="#cfcfcf"/>
<circle cx="347.0" cy="351.4" r="0.5" fill="#cfcfcf"/>
<circle cx="350.9" cy="355.2" r="0.5" fill="#cfcfcf"/>
<circle cx="346.1" cy="352.5" r="0.5" fill="#cfcfcf"/>
<circle cx="357.5" cy="352.6" r="0.5" fill="#cfcfcf"/>
<circle cx="354.2" cy="353.9" r="0.5" fill="#cfcfcf"/>
<circle cx="345.1" cy="356.2" r="0.5" fill="#cfcfcf"/>
<circle cx="355.7" cy="351.2" r="0.5" fill="#cfcfcf"/>
<circle cx="344.0" cy="351.8" r="0.5" fill="#cfcfcf"/>
<circle cx="352.9" cy="357.4" r="0.5" fill="#cfcfcf"/>
<circle cx="345.8" cy="351.8" r="0.5" fill="#cfcfcf"/>
<circle cx="356.1" cy="353.1" r="0.5" fill="#cfcfcf"/>
<circle cx="361.6" cy="355.6" r="0.5" fill="#cfcfcf"/>
<circle cx="351.9" cy="351.0" r="0.5" fill="#cfcfcf"/>
<circle cx="358.8" cy="352.9" r="0.5" fill="#cfcfcf"/>
<circle cx="351.2" cy="354.8" r="0.5" fill="#cfcfcf"/>
<circle cx="362.2" cy="354.0" r="0.5" fill="#cfcfcf"/>
<circle cx="342.9" cy="352.7" r="0.5" fill="#cfcfcf"/>
<circle cx="360.5" cy="356.1" r="0.5" fill="#cfcfcf"/>
<circle cx="352.7" cy="357.7" r="0.5" fill="#cfcfcf"/>
<circle cx="352.9" cy="355.1" r="0.5" fill="#cfcfcf"/>
<circle cx="353.8" cy="351.8" r="0.5" fill="#cfcfcf"/>
<circle cx="359.3" cy="352.3" r="0.5" fill="#cfcfcf"/>
<circle cx="343.9" cy="352.3" r="0.5" fill="#cfcfcf"/>
<circle cx="341.8" cy="353.0" r="0.5" fill="#cfcfcf"/>
<circle cx="358.2" cy="353.2" r="0.5" fill="#cfcfcf"/>
<circle cx="344.8" cy="351.4" r="0.5" fill="#cfcfcf"/>
<circle cx="353.6" cy="351.8" r="0.5" fill="#cfcfcf"/>
<circle cx="355.7" cy="353.7" r="0.5" fill="#cfcfcf"/>
<circle cx="353.8" cy="356.8" r="0.5" fill="#cfcfcf"/>
<circle cx="344.3" cy="352.8" r="0.5" fill="#cfcfcf"/>
<circle cx="362.1" cy="352.9" r="0.5" fill="#cfcfcf"/>
<circle cx="347.3" cy="353.4" r="0.5" fill="#cfcfcf"/>
<circle cx="345.0" cy="356.8" r="0.5" fill="#cfcfcf"/>
<circle cx="355.0" cy="351.2" r="0.5" fill="#cfcfcf"/>
<circle cx="362.2" cy="353.7" r="0.5" fill="#cfcfcf"/>
<circle cx="346.6" cy="354.6" r="0.5" fill="#cfcfcf"/>
<circle cx="361.9" cy="352.6" r="0.5" fill="#cfcfcf"/>
<circle cx="342.3" cy="353.8" r="0.5" fill="#cfcfcf"/>
<circle cx="347.9" cy="356.9" r="0.5" fill="#cfcfcf"/>
<circle cx="351.2" cy="351.3" r="0.5" fill="#cfcfcf"/>
<circle cx="347.8" cy="351.9" r="0.5" fill="#cfcfcf"/>
<circle cx="344.9" cy="354.8" r="0.5" fill="#cfcfcf"/>
<circle cx="361.6" cy="352.8" r="0.5" fill="#cfcfcf"/>
<circle cx="355.0" cy="352.5" r="0.5" fill="#cfcfcf"/>
<circle cx="361.1" cy="354.0" r="0.5" fill="#cfcfcf"/>
<circle cx="356.6" cy="352.7" r="0.5" fill="#cfcfcf"/>
<circle cx="353.3" cy="355.5" r="0.5" fill="#cfcfcf"/>
<circle cx="342.7" cy="355.5" r="0.5" fill="#cfcfcf"/>
<circle cx="356.6" cy="357.7" r="0.5" fill="#cfcfcf"/>
<circle cx="342.3" cy="354.2" r="0.5" fill="#cfcfcf"/>
<circle cx="352.2" cy="356.8" r="0.5" fill="#cfcfcf"/>
<circle cx="349.0" cy="355.1" r="0.5" fill="#cfcfcf"/>
<circle cx="360.7" cy="352.6" r="0.5" fill="#cfcfcf"/>
<circle cx="352.3" cy="357.3" r="0.5" fill="#cfcfcf"/>
<circle cx="347.9" cy="353.3" r="0.5" fill="#cfcfcf"/>
<circle cx="347.3" cy="356.4" r="0.5" fill="#cfcfcf"/>
<circle cx="352.7" cy="355.9" r="0.5" fill="#cfcfcf"/>
<circle cx="359.1" cy="355.2" r="0.5" fill="#cfcfcf"/>
<circle cx="345.9" cy="352.1" r="0.5" fill="#cfcfcf"/>
<circle cx="350.9" cy="351.0" r="0.5" fill="#cfcfcf"/>
<circle cx="362.0" cy="353.0" r="0.5" fill="#cfcfcf"/>
<circle cx="355.3" cy="356.4" r="0.5" fill="#cfcfcf"/>
<circle cx="355.2" cy="353.1" r="0.5" fill="#cfcfcf"/>
<circle cx="341.4" cy="353.1" r="0.5" fill="#cfcfcf"/>
<circle cx="349.6" cy="357.8" r="0.5" fill="#cfcfcf"/>
<circle cx="353.7" cy="351.8" r="0.5" fill="#cfcfcf"/>
<circle cx="354.4" cy="352.8" r="0.5" fill="#cfcfcf"/>
<circle cx="345.1" cy="357.2" r="0.5" fill="#cfcfcf"/>
<circle cx="352.6" cy="355.1" r="0.5" fill="#cfcfcf"/>
<circle cx="344.2" cy="355.9" r="0.5" fill="#cfcfcf"/>
<circle cx="360.6" cy="351.8" r="0.5" fill="#cfcfcf"/>
<circle cx="351.4" cy="355.0" r="0.5" fill="#cfcfcf"/>
<circle cx="351.4" cy="355.9" r="0.5" fill="#cfcfcf"/>
<circle cx="355.2" cy="352.4" r="0.5" fill="#cfcfcf"/>
<circle cx="356.0" cy="356.1" r="0.5" fill="#cfcfcf"/>
<circle cx="351.2" cy="354.4" r="0.5" fill="#cfcfcf"/>
<circle cx="355.0" cy="353.4" r="0.5" fill="#cfcfcf"/>
<circle cx="343.0" cy="353.0" r="0.5" fill="#cfcfcf"/>
<circle cx="358.1" cy="355.6" r="0.5" fill="#cfcfcf"/>
<circle cx="342.6" cy="353.4" r="0.5" fill="#cfcfcf"/>
<circle cx="353.9" cy="353.8" r="0.5" fill="#cfcfcf"/>
<circle cx="344.3" cy="354.9" r="0.5" fill="#cfcfcf"/>
<circle cx="356.3" cy="353.8" r="0.5" fill="#cfcfcf"/>
<circle cx="361.7" cy="354.2" r="0.5" fill="#cfcfcf"/>
<circle cx="356.4" cy="351.1" r="0.5" fill="#cfcfcf"/>
<circle cx="357.8" cy="351.6" r="0.5" fill="#cfcfcf"/>
<circle cx="352.2" cy="353.2" r="0.5" fill="#cfcfcf"/>
<circle cx="352.4" cy="356.1" r="0.5" fill="#cfcfcf"/>
<circle cx="349.2" cy="356.1" r="0.5" fill="#cfcfcf"/>
<circle cx="356.3" cy="352.5" r="0.5" fill="#cfcfcf"/>
<circle cx="351.5" cy="357.2" r="0.5" fill="#cfcfcf"/>
<circle cx="348.2" cy="355.4" r="0.5" fill="#cfcfcf"/>
<circle cx="346.6" cy="356.3" r="0.5" fill="#cfcfcf"/>
<circle cx="354.4" cy="356.5" r="0.5" fill="#cfcfcf"/>
<circle cx="342.5" cy="353.0" r="0.5" fill="#cfcfcf"/>
<circle cx="350.9" cy="356.5" r="0.5" fill="#cfcfcf"/>
<circle cx="350.9" cy="350.9" r="0.5" fill="#cfcfcf"/>
<circle cx="345.6" cy="356.7" r="0.5" fill="#cfcfcf"/>
<circle cx="360.4" cy="354.2" r="0.5" fill="#cfcfcf"/>
<circle cx="360.1" cy="352.3" r="0.5" fill="#cfcfcf"/>
<circle cx="351.6" cy="352.3" r="0.5" fill="#cfcfcf"/>
<circle cx="357.7" cy="356.5" r="0.5" fill="#cfcfcf"/>
<circle cx="346.5" cy="352.8" r="0.5" fill="#cfcfcf"/>
<circle cx="345.9" cy="355.5" r="0.5" fill="#cfcfcf"/>
<circle cx="351.8" cy="353.9" r="0.5" fill="#cfcfcf"/>
<circle cx="350.0" cy="355.6" r="0.5" fill="#cfcfcf"/>
<circle cx="346.9" cy="352.0" r="0.5" fill="#cfcfcf"/>
<circle cx="356.3" cy="352.1" r="0.5" fill="#cfcfcf"/>
<circle cx="354.2" cy="351.4" r="0.5" fill="#cfcfcf"/>
<circle cx="352.0" cy="354.5" r="0.5" fill="#cfcfcf"/>
<circle cx="358.8" cy="352.9" r="0.5" fill="#cfcfcf"/>
<circle cx="353.0" cy="356.5" r="0.5" fill="#cfcfcf"/>
<circle cx="344.0" cy="352.6" r="0.5" fill="#cfcfcf"/>
<circle cx="358.8" cy="352.7" r="0.5" fill="#cfcfcf"/>
<circle cx="342.9" cy="352.7" r="0.5" fill="#cfcfcf"/>
<circle cx="351.2" cy="352.7" r="0.5" fill="#cfcfcf"/>
<circle cx="345.9" cy="353.2" r="0.5" fill="#cfcfcf"/>
<circle cx="354.8" cy="352.1" r="0.5" fill="#cfcfcf"/>
<circle cx="353.8" cy="351.5" r="0.5" fill="#cfcfcf"/>
<circle cx="346.9" cy="351.5" r="0.5" fill="#cfcfcf"/>
<circle cx="359.0" cy="351.3" r="0.5" fill="#cfcfcf"/>
<circle cx="346.2" cy="351.5" r="0.5" fill="#cfcfcf"/>
<circle cx="360.6" cy="355.2" r="0.5" fill="#cfcfcf"/>
<circle cx="356.7" cy="355.3" r="0.5" fill="#cfcfcf"/>
<circle cx="353.9" cy="353.4" r="0.5" fill="#cfcfcf"/>
<circle cx="350.1" cy="352.2" r="0.5" fill="#cfcfcf"/>
<circle cx="355.2" cy="351.5" r="0.5" fill="#cfcfcf"/>
<circle cx="351.5" cy="352.1" r="0.5" fill="#cfcfcf"/>
<circle cx="349.1" cy="357.3" r="0.5" fill="#cfcfcf"/>
<circle cx="353.5" cy="354.9" r="0.5" fill="#cfcfcf"/>
<circle cx="358.2" cy="357.1" r="0.5" fill="#cfcfcf"/>
<circle cx="357.4" cy="353.7" r="0.5" fill="#cfcfcf"/>
<circle cx="347.1" cy="351.6" r="0.5" fill="#cfcfcf"/>
<circle cx="346.2" cy="351.1" r="0.5" fill="#cfcfcf"/>
<circle cx="341.1" cy="353.4" r="0.5" fill="#cfcfcf"/>
<circle cx="359.7" cy="355.5" r="0.5" fill="#cfcfcf"/>
<circle cx="345.2" cy="356.4" r="0.5" fill="#cfcfcf"/>
<circle cx="355.2" cy="353.9" r="0.5" fill="#cfcfcf"/>
<circle cx="350.6" cy="358.1" r="0.5" fill="#cfcfcf"/>
<circle cx="345.6" cy="357.3" r="0.5" fill="#cfcfcf"/>
<circle cx="359.3" cy="351.7" r="0.5" fill="#cfcfcf"/>
<circle cx="353.6" cy="352.2" r="0.5" fill="#cfcfcf"/>
<circle cx="348.9" cy="356.2" r="0.5" fill="#cfcfcf"/>
<circle cx="353.1" cy="352.2" r="0.5" fill="#cfcfcf"/>
<circle cx="357.4" cy="351.4" r="0.5" fill="#cfcfcf"/>
<circle cx="341.9" cy="355.4" r="0.5" fill="#cfcfcf"/>
<circle cx="359.8" cy="356.0" r="0.5" fill="#cfcfcf"/>
<circle cx="356.3" cy="357.6" r="0.5" fill="#cfcfcf"/>
<circle cx="361.4" cy="354.1" r="0.5" fill="#cfcfcf"/>
<circle cx="344.9" cy="354.3" r="0.5" fill="#cfcfcf"/>
<circle cx="350.4" cy="355.5" r="0.5" fill="#cfcfcf"/>
<circle cx="348.7" cy="351.0" r="0.5" fill="#cfcfcf"/>
<circle cx="345.3" cy="351.4" r="0.5" fill="#cfcfcf"/>
<circle cx="357.1" cy="355.3" r="0.5" fill="#cfcfcf"/>
<circle cx="352.7" cy="352.5" r="0.5" fill="#cfcfcf"/>
<circle cx="357.0" cy="353.2" r="0.5" fill="#cfcfcf"/>
<circle cx="351.9" cy="351.8" r="0.5" fill="#cfcfcf"/>
<circle cx="351.4" cy="351.8" r="0.5" fill="#cfcfcf"/>
<circle cx="350.9" cy="353.3" r="0.5" fill="#cfcfcf"/>
<circle cx="350.4" cy="355.8" r="0.5" fill="#cfcfcf"/>
<circle cx="348.4" cy="354.7" r="0.5" fill="#cfcfcf"/>
<circle cx="355.7" cy="351.4" r="0.5" fill="#cfcfcf"/>
<circle cx="346.7" cy="356.7" r="0.5" fill="#cfcfcf"/>
<circle cx="343.6" cy="352.2" r="0.5" fill="#cfcfcf"/>
<circle cx="350.1" cy="357.8" r="0.5" fill="#cfcfcf"/>
<circle cx="355.1" cy="356.7" r="0.5" fill="#cfcfcf"/>
<circle cx="352.3" cy="352.4" r="0.5" fill="#cfcfcf"/>
<circle cx="356.9" cy="354.4" r="0.5" fill="#cfcfcf"/>
<circle cx="362.7" cy="353.0" r="0.5" fill="#cfcfcf"/>
<circle cx="349.0" cy="357.1" r="0.5" fill="#cfcfcf"/>
<circle cx="355.6" cy="355.9" r="0.5" fill="#cfcfcf"/>
<circle cx="345.0" cy="355.7" r="0.5" fill="#cfcfcf"/>
<circle cx="350.7" cy="350.9" r="0.5" fill="#cfcfcf"/>
<circle cx="346.2" cy="352.2" r="0.5" fill="#cfcfcf"/>
<circle cx="361.1" cy="352.9" r="0.5" fill="#cfcfcf"/>
<circle cx="345.6" cy="351.2" r="0.5" fill="#cfcfcf"/>
<circle cx="342.2" cy="353.0" r="0.5" fill="#cfcfcf"/>
<circle cx="350.3" cy="351.1" r="0.5" fill="#cfcfcf"/>
<circle cx="352.4" cy="352.6" r="0.5" fill="#cfcfcf"/>
<circle cx="341.4" cy="353.3" r="0.5" fill="#cfcfcf"/>
<circle cx="344.5" cy="351.7" r="0.5" fill="#cfcfcf"/>
<circle cx="357.5" cy="353.1" r="0.5" fill="#cfcfcf"/>
<circle cx="348.9" cy="354.0" r="0.5" fill="#cfcfcf"/>
<circle cx="357.1" cy="354.7" r="0.5" fill="#cfcfcf"/>
<circle cx="361.9" cy="355.6" r="0.5" fill="#cfcfcf"/>
<circle cx="348.5" cy="357.9" r="0.5" fill="#cfcfcf"/>
<circle cx="343.7" cy="352.8" r="0.5" fill="#cfcfcf"/>
<circle cx="348.8" cy="352.9" r="0.5" fill="#cfcfcf"/>
<circle cx="354.9" cy="352.6" r="0.5" fill="#cfcfcf"/>
<circle cx="351.6" cy="355.2" r="0.5" fill="#cfcfcf"/>
<circle cx="349.1" cy="352.8" r="0.5" fill="#cfcfcf"/>
<circle cx="347.4" cy="353.1" r="0.5" fill="#cfcfcf"/>
<circle cx="347.8" cy="353.3" r="0.5" fill="#cfcfcf"/>
<circle cx="361.8" cy="352.9" r="0.5" fill="#cfcfcf"/>
<circle cx="352.1" cy="352.5" r="0.5" fill="#cfcfcf"/>
<circle cx="354.0" cy="353.9" r="0.5" fill="#cfcfcf"/>
<circle cx="357.6" cy="356.7" r="0.5" fill="#cfcfcf"/>
<circle cx="348.4" cy="351.8" r="0.5" fill="#cfcfcf"/>
<circle cx="343.2" cy="354.7" r="0.5" fill="#cfcfcf"/>
<circle cx="353.7" cy="357.7" r="0.5" fill="#cfcfcf"/>
<circle cx="355.9" cy="354.2" r="0.5" fill="#cfcfcf"/>
<circle cx="354.1" cy="357.4" r="0.5" fill="#cfcfcf"/>
<circle cx="362.2" cy="353.5" r="0.5" fill="#cfcfcf"/>
<circle cx="357.7" cy="355.1" r="0.5" fill="#cfcfcf"/>
<circle cx="355.4" cy="352.9" r="0.5" fill="#cfcfcf"/>
<circle cx="362.1" cy="352.4" r="0.5" fill="#cfcfcf"/>
<circle cx="358.3" cy="356.2" r="0.5" fill="#cfcfcf"/>
<circle cx="359.8" cy="356.4" r="0.5" fill="#cfcfcf"/>
<circle cx="346.0" cy="352.7" r="0.5" fill="#cfcfcf"/>
<circle cx="347.2" cy="357.0" r="0.5" fill="#cfcfcf"/>
<circle cx="355.4" cy="354.8" r="0.5" fill="#cfcfcf"/>
<circle cx="344.7" cy="351.9" r="0.5" fill="#cfcfcf"/>
<circle cx="352.3" cy="350.8" r="0.5" fill="#cfcfcf"/>
<circle cx="359.2" cy="353.3" r="0.5" fill="#cfcfcf"/>
<circle cx="355.3" cy="352.7" r="0.5" fill="#cfcfcf"/>
<circle cx="360.1" cy="352.0" r="0.5" fill="#cfcfcf"/>
<circle cx="352.3" cy="354.1" r="0.5" fill="#cfcfcf"/>
<circle cx="355.8" cy="353.9" r="0.5" fill="#cfcfcf"/>
<circle cx="356.8" cy="350.9" r="0.5" fill="#cfcfcf"/>
<circle cx="352.8" cy="353.5" r="0.5" fill="#cfcfcf"/>
<circle cx="354.6" cy="351.2" r="0.5" fill="#cfcfcf"/>
<circle cx="356.6" cy="351.1" r="0.5" fill="#cfcfcf"/>
<circle cx="356.1" cy="350.9" r="0.5" fill="#cfcfcf"/>
<circle cx="354.3" cy="351.9" r="0.5" fill="#cfcfcf"/>
<circle cx="354.2" cy="355.8" r="0.5" fill="#cfcfcf"/>
<circle cx="355.9" cy="353.9" r="0.5" fill="#cfcfcf"/>
<circle cx="350.9" cy="356.0" r="0.5" fill="#cfcfcf"/>
<circle cx="352.5" cy="352.5" r="0.5" fill="#cfcfcf"/>
<circle cx="342.8" cy="352.3" r="0.5" fill="#cfcfcf"/>
<circle cx="359.5" cy="352.4" r="0.5" fill="#cfcfcf"/>
<circle cx="356.7" cy="352.0" r="0.5" fill="#cfcfcf"/>
<circle cx="357.3" cy="357.2" r="0.5" fill="#cfcfcf"/>
<circle cx="341.4" cy="354.5" r="0.5" fill="#cfcfcf"/>
<circle cx="361.0" cy="356.1" r="0.5" fill="#cfcfcf"/>
<circle cx="343.7" cy="355.7" r="0.5" fill="#cfcfcf"/>
<circle cx="357.6" cy="351.5" r="0.5" fill="#cfcfcf"/>
<circle cx="355.5" cy="354.7" r="0.5" fill="#cfcfcf"/>
<circle cx="345.4" cy="356.6" r="0.5" fill="#cfcfcf"/>
<circle cx="351.4" cy="354.3" r="0.5" fill="#cfcfcf"/>
<circle cx="341.2" cy="353.7" r="0.5" fill="#cfcfcf"/>
<circle cx="361.6" cy="352.5" r="0.5" fill="#cfcfcf"/>
<circle cx="351.9" cy="357.7" r="0.5" fill="#cfcfcf"/>
<circle cx="348.3" cy="352.7" r="0.5" fill="#cfcfcf"/>
<circle cx="345.1" cy="356.4" r="0.5" fill="#cfcfcf"/>
<circle cx="354.0" cy="353.3" r="0.5" fill="#cfcfcf"/>
<circle cx="351.9" cy="353.6" r="0.5" fill="#cfcfcf"/>
<circle cx="353.8" cy="351.5" r="0.5" fill="#cfcfcf"/>
<circle cx="356.8" cy="352.1" r="0.5" fill="#cfcfcf"/>
<circle cx="357.9" cy="353.1" r="0.5" fill="#cfcfcf"/>
<circle cx="354.4" cy="352.0" r="0.5" fill="#cfcfcf"/>
<circle cx="345.7" cy="357.2" r="0.5" fill="#cfcfcf"/>
<circle cx="357.5" cy="356.1" r="0.5" fill="#cfcfcf"/>
<circle cx="351.1" cy="350.8" r="0.5" fill="#cfcfcf"/>
<circle cx="348.0" cy="354.7" r="0.5" fill="#cfcfcf"/>
<circle cx="356.6" cy="351.0" r="0.5" fill="#cfcfcf"/>
<circle cx="356.4" cy="355.2" r="0.5" fill="#cfcfcf"/>
<circle cx="350.6" cy="354.3" r="0.5" fill="#cfcfcf"/>
<circle cx="361.5" cy="355.2" r="0.5" fill="#cfcfcf"/>
<circle cx="351.4" cy="358.0" r="0.5" fill="#cfcfcf"/>
<circle cx="355.0" cy="356.2" r="0.5" fill="#cfcfcf"/>
<circle cx="353.2" cy="356.0" r="0.5" fill="#cfcfcf"/>
<circle cx="358.0" cy="353.5" r="0.5" fill="#cfcfcf"/>
<circle cx="351.2" cy="351.8" r="0.5" fill="#cfcfcf"/>
<circle cx="355.4" cy="355.7" r="0.5" fill="#cfcfcf"/>
<circle cx="350.0" cy="351.0" r="0.5" fill="#cfcfcf"/>
<circle cx="356.5" cy="354.9" r="0.5" fill="#cfcfcf"/>
<circle cx="355.2" cy="351.5" r="0.5" fill="#cfcfcf"/>
<circle cx="360.5" cy="355.7" r="0.5" fill="#cfcfcf"/>
<circle cx="358.6" cy="351.5" r="0.5" fill="#cfcfcf"/>
<circle cx="347.0" cy="353.8" r="0.5" fill="#cfcfcf"/>
<circle cx="344.8" cy="351.5" r="0.5" fill="#cfcfcf"/>
<circle cx="358.5" cy="352.0" r="0.5" fill="#cfcfcf"/>
<circle cx="353.6" cy="355.0" r="0.5" fill="#cfcfcf"/>
<circle cx="356.5" cy="357.1" r="0.5" fill="#cfcfcf"/>
<circle cx="348.4" cy="353.2" r="0.5" fill="#cfcfcf"/>
<circle cx="347.5" cy="355.0" r="0.5" fill="#cfcfcf"/>
<circle cx="349.4" cy="352.0" r="0.5" fill="#cfcfcf"/>
<circle cx="349.3" cy="357.2" r="0.5" fill="#cfcfcf"/>
<circle cx="355.2" cy="351.3" r="0.5" fill="#cfcfcf"/>
<circle cx="359.1" cy="352.6" r="0.5" fill="#cfcfcf"/>
<circle cx="359.2" cy="353.5" r="0.5" fill="#cfcfcf"/>
<circle cx="360.0" cy="354.0" r="0.5" fill="#cfcfcf"/>
<circle cx="362.6" cy="354.0" r="0.5" fill="#cfcfcf"/>
<circle cx="352.5" cy="354.5" r="0.5" fill="#cfcfcf"/>
<circle cx="355.9" cy="352.2" r="0.5" fill="#cfcfcf"/>
<circle cx="361.5" cy="353.0" r="0.5" fill="#cfcfcf"/>
<circle cx="353.8" cy="354.2" r="0.5" fill="#cfcfcf"/>
<circle cx="348.4" cy="352.7" r="0.5" fill="#cfcfcf"/>
<circle cx="347.0" cy="351.2" r="0.5" fill="#cfcfcf"/>
<circle cx="351.1" cy="353.7" r="0.5" fill="#cfcfcf"/>
<circle cx="355.1" cy="353.1" r="0.5" fill="#cfcfcf"/>
<circle cx="355.1" cy="352.5" r="0.5" fill="#cfcfcf"/>
<circle cx="359.6" cy="351.0" r="0.5" fill="#cfcfcf"/>
<circle cx="355.5" cy="350.0" r="0.5" fill="#cfcfcf"/>
<circle cx="358.6" cy="353.2" r="0.5" fill="#cfcfcf"/>
<circle cx="362.6" cy="351.5" r="0.5" fill="#cfcfcf"/>
<circle cx="355.3" cy="353.9" r="0.5" fill="#cfcfcf"/>
<circle cx="358.4" cy="349.5" r="0.5" fill="#cfcfcf"/>
<circle cx="361.0" cy="351.6" r="0.5" fill="#cfcfcf"/>
<circle cx="361.0" cy="350.7" r="0.5" fill="#cfcfcf"/>
<circle cx="357.8" cy="351.6" r="0.5" fill="#cfcfcf"/>
<circle cx="357.6" cy="353.3" r="0.5" fill="#cfcfcf"/>
<circle cx="354.5" cy="352.0" r="0.5" fill="#cfcfcf"/>
<circle cx="361.0" cy="352.1" r="0.5" fill="#cfcfcf"/>
<circle cx="355.2" cy="349.3" r="0.5" fill="#cfcfcf"/>
<circle cx="355.9" cy="349.8" r="0.5" fill="#cfcfcf"/>
<circle cx="351.7" cy="351.0" r="0.5" fill="#cfcfcf"/>
<circle cx="357.8" cy="353.6" r="0.5" fill="#cfcfcf"/>
<circle cx="357.8" cy="352.6" r="0.5" fill="#cfcfcf"/>
<circle cx="356.6" cy="349.3" r="0.5" fill="#cfcfcf"/>
<circle cx="353.6" cy="349.6" r="0.5" fill="#cfcfcf"/>
<circle cx="357.5" cy="350.3" r="0.5" fill="#cfcfcf"/>
<circle cx="357.6" cy="350.4" r="0.5" fill="#cfcfcf"/>
<circle cx="362.1" cy="350.8" r="0.5" fill="#cfcfcf"/>
<circle cx="358.3" cy="351.2" r="0.5" fill="#cfcfcf"/>
<circle cx="355.5" cy="352.1" r="0.5" fill="#cfcfcf"/>
<circle cx="361.7" cy="351.8" r="0.5" fill="#cfcfcf"/>
<circle cx="360.0" cy="350.5" r="0.5" fill="#cfcfcf"/>
<circle cx="356.5" cy="349.4" r="0.5" fill="#cfcfcf"/>
<circle cx="352.8" cy="350.9" r="0.5" fill="#cfcfcf"/>
<circle cx="354.2" cy="349.9" r="0.5" fill="#cfcfcf"/>
<circle cx="354.9" cy="353.5" r="0.5" fill="#cfcfcf"/>
<circle cx="356.9" cy="352.0" r="0.5" fill="#cfcfcf"/>
<circle cx="362.3" cy="352.2" r="0.5" fill="#cfcfcf"/>
<circle cx="360.3" cy="351.6" r="0.5" fill="#cfcfcf"/>
<circle cx="353.7" cy="351.9" r="0.5" fill="#cfcfcf"/>
<circle cx="350.3" cy="350.7" r="0.5" fill="#cfcfcf"/>
<circle cx="354.7" cy="350.3" r="0.5" fill="#cfcfcf"/>
<circle cx="357.6" cy="353.1" r="0.5" fill="#cfcfcf"/>
<circle cx="353.5" cy="351.4" r="0.5" fill="#cfcfcf"/>
<circle cx="354.9" cy="351.8" r="0.5" fill="#cfcfcf"/>
<circle cx="356.1" cy="350.1" r="0.5" fill="#cfcfcf"/>
<circle cx="360.5" cy="353.1" r="0.5" fill="#cfcfcf"/>
<circle cx="360.1" cy="352.0" r="0.5" fill="#cfcfcf"/>
<circle cx="357.8" cy="350.6" r="0.5" fill="#cfcfcf"/>
<circle cx="357.0" cy="350.5" r="0.5" fill="#cfcfcf"/>
<circle cx="358.9" cy="353.3" r="0.5" fill="#cfcfcf"/>
<circle cx="353.2" cy="352.4" r="0.5" fill="#cfcfcf"/>
<circle cx="351.6" cy="350.2" r="0.5" fill="#cfcfcf"/>
<circle cx="355.1" cy="350.6" r="0.5" fill="#cfcfcf"/>
<circle cx="361.1" cy="350.1" r="0.5" fill="#cfcfcf"/>
<circle cx="353.2" cy="350.9" r="0.5" fill="#cfcfcf"/>
<circle cx="355.2" cy="351.4" r="0.5" fill="#cfcfcf"/>
<circle cx="349.5" cy="351.6" r="0.5" fill="#cfcfcf"/>
<circle cx="352.9" cy="351.1" r="0.5" fill="#cfcfcf"/>
<circle cx="349.4" cy="350.7" r="0.5" fill="#cfcfcf"/>
<circle cx="352.2" cy="352.3" r="0.5" fill="#cfcfcf"/>
<circle cx="352.4" cy="351.4" r="0.5" fill="#cfcfcf"/>
<circle cx="350.8" cy="351.3" r="0.5" fill="#cfcfcf"/>
<circle cx="358.8" cy="351.8" r="0.5" fill="#cfcfcf"/>
<circle cx="362.7" cy="350.6" r="0.5" fill="#cfcfcf"/>
<circle cx="354.9" cy="353.4" r="0.5" fill="#cfcfcf"/>
<circle cx="360.2" cy="349.9" r="0.5" fill="#cfcfcf"/>
<circle cx="354.5" cy="352.6" r="0.5" fill="#cfcfcf"/>
<circle cx="361.5" cy="351.9" r="0.5" fill="#cfcfcf"/>
<circle cx="350.7" cy="351.3" r="0.5" fill="#cfcfcf"/>
<circle cx="355.3" cy="350.1" r="0.5" fill="#cfcfcf"/>
<circle cx="361.1" cy="349.8" r="0.5" fill="#cfcfcf"/>
<circle cx="350.7" cy="350.5" r="0.5" fill="#cfcfcf"/>
<circle cx="355.2" cy="351.2" r="0.5" fill="#cfcfcf"/>
<circle cx="362.5" cy="350.6" r="0.5" fill="#cfcfcf"/>
<circle cx="355.7" cy="353.3" r="0.5" fill="#cfcfcf"/>
<circle cx="360.7" cy="351.9" r="0.5" fill="#cfcfcf"/>
<circle cx="354.0" cy="352.0" r="0.5" fill="#cfcfcf"/>
<circle cx="354.8" cy="352.7" r="0.5" fill="#cfcfcf"/>
<circle cx="359.6" cy="350.6" r="0.5" fill="#cfcfcf"/>
<circle cx="352.6" cy="351.5" r="0.5" fill="#cfcfcf"/>
<circle cx="355.2" cy="350.1" r="0.5" fill="#cfcfcf"/>
<circle cx="350.2" cy="352.7" r="0.5" fill="#cfcfcf"/>
<circle cx="358.4" cy="350.8" r="0.5" fill="#cfcfcf"/>
<circle cx="320.8" cy="345.3" r="0.45" fill="#c4c4c4"/>
<circle cx="327.4" cy="349.3" r="0.45" fill="#c4c4c4"/>
<circle cx="335.0" cy="346.0" r="0.45" fill="#c4c4c4"/>
<circle cx="340.0" cy="346.0" r="0.45" fill="#c4c4c4"/>
<circle cx="342.0" cy="348.0" r="0.45" fill="#c4c4c4"/>
<circle cx="355.4" cy="345.5" r="0.45" fill="#c4c4c4"/>
<circle cx="362.0" cy="351.5" r="0.45" fill="#c4c4c4"/>
<circle cx="366.3" cy="352.0" r="0.45" fill="#c4c4c4"/>
<circle cx="371.8" cy="352.0" r="0.45" fill="#c4c4c4"/>
<circle cx="375.8" cy="352.0" r="0.45" fill="#c4c4c4"/>
<circle cx="354.3" cy="340.5" r="0.45" fill="#c4c4c4"/>
<circle cx="354.3" cy="341.8" r="0.45" fill="#c4c4c4"/>
<circle cx="352.0" cy="342.5" r="0.45" fill="#c4c4c4"/>
<circle cx="357.0" cy="343.0" r="0.45" fill="#c4c4c4"/>
<circle cx="330.0" cy="350.0" r="0.45" fill="#c4c4c4"/>
<circle cx="338.0" cy="349.5" r="0.45" fill="#c4c4c4"/>
<circle cx="344.0" cy="347.5" r="0.45" fill="#c4c4c4"/>
<circle cx="360.0" cy="346.5" r="0.45" fill="#c4c4c4"/>
<circle cx="369.6" cy="329.6" r="0.7" fill="#c00f28"/>
<line x1="288.6" y1="259.9" x2="288.6" y2="361.3" stroke="#555" stroke-width="0.55"/>
<line x1="288.3" y1="361.0" x2="406.2" y2="361.0" stroke="#555" stroke-width="0.55"/>
<line x1="297.90" y1="361.0" x2="297.90" y2="362.2" stroke="#444" stroke-width="0.4"/>
<text x="297.90" y="365.90" font-size="3.5" text-anchor="middle" fill="#555">0.2</text>
<line x1="324.90" y1="361.0" x2="324.90" y2="362.2" stroke="#444" stroke-width="0.4"/>
<text x="324.90" y="365.90" font-size="3.5" text-anchor="middle" fill="#555">0.1</text>
<line x1="351.90" y1="361.0" x2="351.90" y2="362.2" stroke="#444" stroke-width="0.4"/>
<text x="351.90" y="365.90" font-size="3.5" text-anchor="middle" fill="#555">0.0</text>
<line x1="378.90" y1="361.0" x2="378.90" y2="362.2" stroke="#444" stroke-width="0.4"/>
<text x="378.90" y="365.90" font-size="3.5" text-anchor="middle" fill="#555">0.1</text>
<line x1="405.90" y1="361.0" x2="405.90" y2="362.2" stroke="#444" stroke-width="0.4"/>
<text x="405.90" y="365.90" font-size="3.5" text-anchor="middle" fill="#555">0.2</text>
<line x1="287.40000000000003" y1="356.30" x2="288.6" y2="356.30" stroke="#444" stroke-width="0.4"/>
<text x="286.70" y="357.55" font-size="3.5" text-anchor="end" fill="#555">0</text>
<line x1="287.40000000000003" y1="330.40" x2="288.6" y2="330.40" stroke="#444" stroke-width="0.4"/>
<text x="286.70" y="331.65" font-size="3.5" text-anchor="end" fill="#555">2</text>
<line x1="287.40000000000003" y1="304.50" x2="288.6" y2="304.50" stroke="#444" stroke-width="0.4"/>
<text x="286.70" y="305.75" font-size="3.5" text-anchor="end" fill="#555">4</text>
<line x1="287.40000000000003" y1="278.60" x2="288.6" y2="278.60" stroke="#444" stroke-width="0.4"/>
<text x="286.70" y="279.85" font-size="3.5" text-anchor="end" fill="#555">6</text>
<text x="351.00" y="257.60" font-size="5.4" text-anchor="middle" font-weight="bold" fill="#000">CD8T cells</text>
<text x="269.60" y="265.80" font-size="8" text-anchor="start" font-weight="bold" fill="#000">d</text>
<text x="348.0" y="370.8" font-size="3.6" text-anchor="middle" fill="#333">Log<tspan font-size="2.4" dy="0.8">2</tspan><tspan dy="-0.8"> fold change</tspan></text>
<text x="281.2" y="310.0" font-size="3.6" text-anchor="middle" fill="#333" transform="rotate(-90 281.2 310.0)">&#8722; Log<tspan font-size="2.4" dy="0.8">10</tspan><tspan dy="-0.8"> P</tspan></text>
<text x="408.00" y="377.30" font-size="3.25" text-anchor="end" fill="#333">total = 2575 tested genes</text>
<circle cx="413.5" cy="336.8" r="1.45" fill="#c00f28"/>
<circle cx="413.5" cy="341.0" r="1.45" fill="#cdcdcd"/>
<text x="418.80" y="338.15" font-size="3.85" text-anchor="start" fill="#333">DEGs</text>
<text x="418.80" y="342.35" font-size="3.85" text-anchor="start" fill="#333">non</text>
<text x="427.70" y="342.35" font-size="3.85" text-anchor="start" fill="#333">DEGs</text>
<text x="447.90" y="10.50" font-size="8" text-anchor="start" font-weight="bold" fill="#000">e</text>
<line x1="481.9" y1="0.8" x2="481.9" y2="30.3" stroke="#bbb" stroke-width="0.9"/>
<line x1="482.2" y1="30.3" x2="588.8" y2="30.3" stroke="#444" stroke-width="0.5"/>
<line x1="481.2" y1="3.5" x2="482.2" y2="3.5" stroke="#444" stroke-width="0.4"/>
<text x="480.60" y="5.00" font-size="4.3" text-anchor="end" fill="#444">40K</text>
<line x1="481.2" y1="9.9" x2="482.2" y2="9.9" stroke="#444" stroke-width="0.4"/>
<text x="480.60" y="11.40" font-size="4.3" text-anchor="end" fill="#444">30K</text>
<line x1="481.2" y1="16.3" x2="482.2" y2="16.3" stroke="#444" stroke-width="0.4"/>
<text x="480.60" y="17.80" font-size="4.3" text-anchor="end" fill="#444">20K</text>
<line x1="481.2" y1="22.8" x2="482.2" y2="22.8" stroke="#444" stroke-width="0.4"/>
<text x="480.60" y="24.30" font-size="4.3" text-anchor="end" fill="#444">10K</text>
<line x1="481.2" y1="29.2" x2="482.2" y2="29.2" stroke="#444" stroke-width="0.4"/>
<text x="480.60" y="30.70" font-size="4.3" text-anchor="end" fill="#444">0K</text>
<text x="467.00" y="15.20" font-size="4.0" text-anchor="middle" font-weight="bold" fill="#111" transform="rotate(-90 467.00 15.20)">nCells</text>
<rect x="485.1" y="1.9" width="18.4" height="27.5" fill="#595959"/>
<rect x="506.1" y="10.5" width="18.0" height="18.9" fill="#595959"/>
<rect x="526.4" y="20.6" width="18.2" height="8.8" fill="#595959"/>
<rect x="547.0" y="22.7" width="18.0" height="6.7" fill="#595959"/>
<rect x="567.3" y="8.9" width="18.7" height="20.5" fill="#595959"/>
<rect x="483.0" y="34.00" width="21.00" height="3.425" fill="#d42d22"/>
<rect x="504.0" y="34.00" width="21.10" height="3.425" fill="#e5533a"/>
<rect x="525.1" y="34.00" width="21.10" height="3.425" fill="#dcdcdc"/>
<rect x="546.2" y="34.00" width="21.10" height="3.425" fill="#dcdcdc"/>
<rect x="567.3" y="34.00" width="21.10" height="3.425" fill="#dcdcdc"/>
<rect x="469.0" y="34.00" width="4.00" height="3.425" fill="#f1f1f1"/>
<rect x="473.7" y="34.00" width="3.60" height="3.425" fill="#ccd2ec"/>
<rect x="477.9" y="34.00" width="3.70" height="3.425" fill="#cdc1e6"/>
<rect x="483.0" y="37.02" width="21.00" height="3.425" fill="#dc3a28"/>
<rect x="504.0" y="37.02" width="21.10" height="3.425" fill="#e0432c"/>
<rect x="525.1" y="37.02" width="21.10" height="3.425" fill="#dcdcdc"/>
<rect x="546.2" y="37.02" width="21.10" height="3.425" fill="#dcdcdc"/>
<rect x="567.3" y="37.02" width="21.10" height="3.425" fill="#dcdcdc"/>
<rect x="469.0" y="37.02" width="4.00" height="3.425" fill="#f1f1f1"/>
<rect x="473.7" y="37.02" width="3.60" height="3.425" fill="#ccd2ec"/>
<rect x="477.9" y="37.02" width="3.70" height="3.425" fill="#cdc1e6"/>
<rect x="483.0" y="40.05" width="21.00" height="3.425" fill="#da3826"/>
<rect x="504.0" y="40.05" width="21.10" height="3.425" fill="#e0432c"/>
<rect x="525.1" y="40.05" width="21.10" height="3.425" fill="#dcdcdc"/>
<rect x="546.2" y="40.05" width="21.10" height="3.425" fill="#dcdcdc"/>
<rect x="567.3" y="40.05" width="21.10" height="3.425" fill="#dcdcdc"/>
<rect x="469.0" y="40.05" width="4.00" height="3.425" fill="#f1f1f1"/>
<rect x="473.7" y="40.05" width="3.60" height="3.425" fill="#ccd2ec"/>
<rect x="477.9" y="40.05" width="3.70" height="3.425" fill="#cdc1e6"/>
<rect x="483.0" y="43.08" width="21.00" height="3.425" fill="#ec6445"/>
<rect x="504.0" y="43.08" width="21.10" height="3.425" fill="#e34a30"/>
<rect x="525.1" y="43.08" width="21.10" height="3.425" fill="#dcdcdc"/>
<rect x="546.2" y="43.08" width="21.10" height="3.425" fill="#dcdcdc"/>
<rect x="567.3" y="43.08" width="21.10" height="3.425" fill="#dcdcdc"/>
<rect x="469.0" y="43.08" width="4.00" height="3.425" fill="#f1f1f1"/>
<rect x="473.7" y="43.08" width="3.60" height="3.425" fill="#ccd2ec"/>
<rect x="477.9" y="43.08" width="3.70" height="3.425" fill="#8f7fca"/>
<rect x="483.0" y="46.10" width="21.00" height="3.425" fill="#ec6445"/>
<rect x="504.0" y="46.10" width="21.10" height="3.425" fill="#e34a30"/>
<rect x="525.1" y="46.10" width="21.10" height="3.425" fill="#dcdcdc"/>
<rect x="546.2" y="46.10" width="21.10" height="3.425" fill="#dcdcdc"/>
<rect x="567.3" y="46.10" width="21.10" height="3.425" fill="#dcdcdc"/>
<rect x="469.0" y="46.10" width="4.00" height="3.425" fill="#f1f1f1"/>
<rect x="473.7" y="46.10" width="3.60" height="3.425" fill="#ccd2ec"/>
<rect x="477.9" y="46.10" width="3.70" height="3.425" fill="#cdc1e6"/>
<rect x="483.0" y="49.12" width="21.00" height="3.425" fill="#f68a5c"/>
<rect x="504.0" y="49.12" width="21.10" height="3.425" fill="#d82c22"/>
<rect x="525.1" y="49.12" width="21.10" height="3.425" fill="#dcdcdc"/>
<rect x="546.2" y="49.12" width="21.10" height="3.425" fill="#dcdcdc"/>
<rect x="567.3" y="49.12" width="21.10" height="3.425" fill="#dcdcdc"/>
<rect x="469.0" y="49.12" width="4.00" height="3.425" fill="#bdbdbd"/>
<rect x="473.7" y="49.12" width="3.60" height="3.425" fill="#f7f7f7"/>
<rect x="477.9" y="49.12" width="3.70" height="3.425" fill="#f7f7f7"/>
<rect x="483.0" y="52.15" width="21.00" height="3.425" fill="#ee6848"/>
<rect x="504.0" y="52.15" width="21.10" height="3.425" fill="#4d4d4d"/>
<rect x="525.1" y="52.15" width="21.10" height="3.425" fill="#dcdcdc"/>
<rect x="546.2" y="52.15" width="21.10" height="3.425" fill="#4d4d4d"/>
<rect x="567.3" y="52.15" width="21.10" height="3.425" fill="#dcdcdc"/>
<rect x="469.0" y="52.15" width="4.00" height="3.425" fill="#bdbdbd"/>
<rect x="473.7" y="52.15" width="3.60" height="3.425" fill="#ccd2ec"/>
<rect x="477.9" y="52.15" width="3.70" height="3.425" fill="#cdc1e6"/>
<rect x="483.0" y="55.17" width="21.00" height="3.425" fill="#ee6848"/>
<rect x="504.0" y="55.17" width="21.10" height="3.425" fill="#e34a30"/>
<rect x="525.1" y="55.17" width="21.10" height="3.425" fill="#dcdcdc"/>
<rect x="546.2" y="55.17" width="21.10" height="3.425" fill="#dcdcdc"/>
<rect x="567.3" y="55.17" width="21.10" height="3.425" fill="#dcdcdc"/>
<rect x="469.0" y="55.17" width="4.00" height="3.425" fill="#f1f1f1"/>
<rect x="473.7" y="55.17" width="3.60" height="3.425" fill="#ccd2ec"/>
<rect x="477.9" y="55.17" width="3.70" height="3.425" fill="#cdc1e6"/>
<rect x="483.0" y="58.20" width="21.00" height="3.425" fill="#ee6848"/>
<rect x="504.0" y="58.20" width="21.10" height="3.425" fill="#e34a30"/>
<rect x="525.1" y="58.20" width="21.10" height="3.425" fill="#dcdcdc"/>
<rect x="546.2" y="58.20" width="21.10" height="3.425" fill="#dcdcdc"/>
<rect x="567.3" y="58.20" width="21.10" height="3.425" fill="#dcdcdc"/>
<rect x="469.0" y="58.20" width="4.00" height="3.425" fill="#bdbdbd"/>
<rect x="473.7" y="58.20" width="3.60" height="3.425" fill="#ccd2ec"/>
<rect x="477.9" y="58.20" width="3.70" height="3.425" fill="#8f7fca"/>
<rect x="483.0" y="61.22" width="21.00" height="3.425" fill="#ef7050"/>
<rect x="504.0" y="61.22" width="21.10" height="3.425" fill="#dcdcdc"/>
<rect x="525.1" y="61.22" width="21.10" height="3.425" fill="#dcdcdc"/>
<rect x="546.2" y="61.22" width="21.10" height="3.425" fill="#dcdcdc"/>
<rect x="567.3" y="61.22" width="21.10" height="3.425" fill="#dcdcdc"/>
<rect x="469.0" y="61.22" width="4.00" height="3.425" fill="#bdbdbd"/>
<rect x="473.7" y="61.22" width="3.60" height="3.425" fill="#ccd2ec"/>
<rect x="477.9" y="61.22" width="3.70" height="3.425" fill="#cdc1e6"/>
<rect x="483.0" y="64.25" width="21.00" height="3.425" fill="#f07650"/>
<rect x="504.0" y="64.25" width="21.10" height="3.425" fill="#fcae74"/>
<rect x="525.1" y="64.25" width="21.10" height="3.425" fill="#e4502f"/>
<rect x="546.2" y="64.25" width="21.10" height="3.425" fill="#dcdcdc"/>
<rect x="567.3" y="64.25" width="21.10" height="3.425" fill="#dcdcdc"/>
<rect x="469.0" y="64.25" width="4.00" height="3.425" fill="#f1f1f1"/>
<rect x="473.7" y="64.25" width="3.60" height="3.425" fill="#ccd2ec"/>
<rect x="477.9" y="64.25" width="3.70" height="3.425" fill="#cdc1e6"/>
<rect x="483.0" y="67.28" width="21.00" height="3.425" fill="#f07650"/>
<rect x="504.0" y="67.28" width="21.10" height="3.425" fill="#f88e5a"/>
<rect x="525.1" y="67.28" width="21.10" height="3.425" fill="#dcdcdc"/>
<rect x="546.2" y="67.28" width="21.10" height="3.425" fill="#dcdcdc"/>
<rect x="567.3" y="67.28" width="21.10" height="3.425" fill="#dcdcdc"/>
<rect x="469.0" y="67.28" width="4.00" height="3.425" fill="#f1f1f1"/>
<rect x="473.7" y="67.28" width="3.60" height="3.425" fill="#6e7ec6"/>
<rect x="477.9" y="67.28" width="3.70" height="3.425" fill="#cdc1e6"/>
<rect x="483.0" y="70.30" width="21.00" height="3.425" fill="#fca466"/>
<rect x="504.0" y="70.30" width="21.10" height="3.425" fill="#f07a50"/>
<rect x="525.1" y="70.30" width="21.10" height="3.425" fill="#dcdcdc"/>
<rect x="546.2" y="70.30" width="21.10" height="3.425" fill="#dcdcdc"/>
<rect x="567.3" y="70.30" width="21.10" height="3.425" fill="#dcdcdc"/>
<rect x="469.0" y="70.30" width="4.00" height="3.425" fill="#f1f1f1"/>
<rect x="473.7" y="70.30" width="3.60" height="3.425" fill="#ccd2ec"/>
<rect x="477.9" y="70.30" width="3.70" height="3.425" fill="#cdc1e6"/>
<rect x="483.0" y="73.32" width="21.00" height="3.425" fill="#f48a58"/>
<rect x="504.0" y="73.32" width="21.10" height="3.425" fill="#f07a50"/>
<rect x="525.1" y="73.32" width="21.10" height="3.425" fill="#dcdcdc"/>
<rect x="546.2" y="73.32" width="21.10" height="3.425" fill="#dcdcdc"/>
<rect x="567.3" y="73.32" width="21.10" height="3.425" fill="#dcdcdc"/>
<rect x="469.0" y="73.32" width="4.00" height="3.425" fill="#f1f1f1"/>
<rect x="473.7" y="73.32" width="3.60" height="3.425" fill="#ccd2ec"/>
<rect x="477.9" y="73.32" width="3.70" height="3.425" fill="#cdc1e6"/>
<rect x="483.0" y="76.35" width="21.00" height="3.425" fill="#f99a5e"/>
<rect x="504.0" y="76.35" width="21.10" height="3.425" fill="#dcdcdc"/>
<rect x="525.1" y="76.35" width="21.10" height="3.425" fill="#dcdcdc"/>
<rect x="546.2" y="76.35" width="21.10" height="3.425" fill="#dcdcdc"/>
<rect x="567.3" y="76.35" width="21.10" height="3.425" fill="#dcdcdc"/>
<rect x="469.0" y="76.35" width="4.00" height="3.425" fill="#f1f1f1"/>
<rect x="473.7" y="76.35" width="3.60" height="3.425" fill="#ccd2ec"/>
<rect x="477.9" y="76.35" width="3.70" height="3.425" fill="#8f7fca"/>
<rect x="483.0" y="79.38" width="21.00" height="3.425" fill="#f99a5e"/>
<rect x="504.0" y="79.38" width="21.10" height="3.425" fill="#f99a5e"/>
<rect x="525.1" y="79.38" width="21.10" height="3.425" fill="#dcdcdc"/>
<rect x="546.2" y="79.38" width="21.10" height="3.425" fill="#dcdcdc"/>
<rect x="567.3" y="79.38" width="21.10" height="3.425" fill="#dcdcdc"/>
<rect x="469.0" y="79.38" width="4.00" height="3.425" fill="#f1f1f1"/>
<rect x="473.7" y="79.38" width="3.60" height="3.425" fill="#ccd2ec"/>
<rect x="477.9" y="79.38" width="3.70" height="3.425" fill="#8f7fca"/>
<rect x="483.0" y="82.40" width="21.00" height="3.425" fill="#fba262"/>
<rect x="504.0" y="82.40" width="21.10" height="3.425" fill="#dcdcdc"/>
<rect x="525.1" y="82.40" width="21.10" height="3.425" fill="#dcdcdc"/>
<rect x="546.2" y="82.40" width="21.10" height="3.425" fill="#dcdcdc"/>
<rect x="567.3" y="82.40" width="21.10" height="3.425" fill="#dcdcdc"/>
<rect x="469.0" y="82.40" width="4.00" height="3.425" fill="#f1f1f1"/>
<rect x="473.7" y="82.40" width="3.60" height="3.425" fill="#ccd2ec"/>
<rect x="477.9" y="82.40" width="3.70" height="3.425" fill="#cdc1e6"/>
<rect x="483.0" y="85.42" width="21.00" height="3.425" fill="#fba262"/>
<rect x="504.0" y="85.42" width="21.10" height="3.425" fill="#dcdcdc"/>
<rect x="525.1" y="85.42" width="21.10" height="3.425" fill="#dcdcdc"/>
<rect x="546.2" y="85.42" width="21.10" height="3.425" fill="#dcdcdc"/>
<rect x="567.3" y="85.42" width="21.10" height="3.425" fill="#dcdcdc"/>
<rect x="469.0" y="85.42" width="4.00" height="3.425" fill="#f1f1f1"/>
<rect x="473.7" y="85.42" width="3.60" height="3.425" fill="#ccd2ec"/>
<rect x="477.9" y="85.42" width="3.70" height="3.425" fill="#8f7fca"/>
<rect x="483.0" y="88.45" width="21.00" height="3.425" fill="#fca868"/>
<rect x="504.0" y="88.45" width="21.10" height="3.425" fill="#fa9c60"/>
<rect x="525.1" y="88.45" width="21.10" height="3.425" fill="#dcdcdc"/>
<rect x="546.2" y="88.45" width="21.10" height="3.425" fill="#dcdcdc"/>
<rect x="567.3" y="88.45" width="21.10" height="3.425" fill="#dcdcdc"/>
<rect x="469.0" y="88.45" width="4.00" height="3.425" fill="#f1f1f1"/>
<rect x="473.7" y="88.45" width="3.60" height="3.425" fill="#ccd2ec"/>
<rect x="477.9" y="88.45" width="3.70" height="3.425" fill="#8f7fca"/>
<rect x="483.0" y="91.47" width="21.00" height="3.425" fill="#fcaa6a"/>
<rect x="504.0" y="91.47" width="21.10" height="3.425" fill="#dcdcdc"/>
<rect x="525.1" y="91.47" width="21.10" height="3.425" fill="#dcdcdc"/>
<rect x="546.2" y="91.47" width="21.10" height="3.425" fill="#dcdcdc"/>
<rect x="567.3" y="91.47" width="21.10" height="3.425" fill="#dcdcdc"/>
<rect x="469.0" y="91.47" width="4.00" height="3.425" fill="#f1f1f1"/>
<rect x="473.7" y="91.47" width="3.60" height="3.425" fill="#ccd2ec"/>
<rect x="477.9" y="91.47" width="3.70" height="3.425" fill="#cdc1e6"/>
<rect x="483.0" y="94.50" width="21.00" height="3.425" fill="#fcae6e"/>
<rect x="504.0" y="94.50" width="21.10" height="3.425" fill="#fcae6e"/>
<rect x="525.1" y="94.50" width="21.10" height="3.425" fill="#dcdcdc"/>
<rect x="546.2" y="94.50" width="21.10" height="3.425" fill="#dcdcdc"/>
<rect x="567.3" y="94.50" width="21.10" height="3.425" fill="#dcdcdc"/>
<rect x="469.0" y="94.50" width="4.00" height="3.425" fill="#f1f1f1"/>
<rect x="473.7" y="94.50" width="3.60" height="3.425" fill="#ccd2ec"/>
<rect x="477.9" y="94.50" width="3.70" height="3.425" fill="#cdc1e6"/>
<rect x="483.0" y="97.53" width="21.00" height="3.425" fill="#fdb472"/>
<rect x="504.0" y="97.53" width="21.10" height="3.425" fill="#dcdcdc"/>
<rect x="525.1" y="97.53" width="21.10" height="3.425" fill="#dcdcdc"/>
<rect x="546.2" y="97.53" width="21.10" height="3.425" fill="#dcdcdc"/>
<rect x="567.3" y="97.53" width="21.10" height="3.425" fill="#dcdcdc"/>
<rect x="469.0" y="97.53" width="4.00" height="3.425" fill="#f1f1f1"/>
<rect x="473.7" y="97.53" width="3.60" height="3.425" fill="#6e7ec6"/>
<rect x="477.9" y="97.53" width="3.70" height="3.425" fill="#cdc1e6"/>
<rect x="483.0" y="100.55" width="21.00" height="3.425" fill="#fdb674"/>
<rect x="504.0" y="100.55" width="21.10" height="3.425" fill="#dcdcdc"/>
<rect x="525.1" y="100.55" width="21.10" height="3.425" fill="#dcdcdc"/>
<rect x="546.2" y="100.55" width="21.10" height="3.425" fill="#dcdcdc"/>
<rect x="567.3" y="100.55" width="21.10" height="3.425" fill="#dcdcdc"/>
<rect x="469.0" y="100.55" width="4.00" height="3.425" fill="#f1f1f1"/>
<rect x="473.7" y="100.55" width="3.60" height="3.425" fill="#ccd2ec"/>
<rect x="477.9" y="100.55" width="3.70" height="3.425" fill="#cdc1e6"/>
<rect x="483.0" y="103.58" width="21.00" height="3.425" fill="#fdba78"/>
<rect x="504.0" y="103.58" width="21.10" height="3.425" fill="#fdba78"/>
<rect x="525.1" y="103.58" width="21.10" height="3.425" fill="#dcdcdc"/>
<rect x="546.2" y="103.58" width="21.10" height="3.425" fill="#dcdcdc"/>
<rect x="567.3" y="103.58" width="21.10" height="3.425" fill="#dcdcdc"/>
<rect x="469.0" y="103.58" width="4.00" height="3.425" fill="#bdbdbd"/>
<rect x="473.7" y="103.58" width="3.60" height="3.425" fill="#ccd2ec"/>
<rect x="477.9" y="103.58" width="3.70" height="3.425" fill="#cdc1e6"/>
<rect x="483.0" y="106.60" width="21.00" height="3.425" fill="#fdc07e"/>
<rect x="504.0" y="106.60" width="21.10" height="3.425" fill="#dcdcdc"/>
<rect x="525.1" y="106.60" width="21.10" height="3.425" fill="#dcdcdc"/>
<rect x="546.2" y="106.60" width="21.10" height="3.425" fill="#dcdcdc"/>
<rect x="567.3" y="106.60" width="21.10" height="3.425" fill="#dcdcdc"/>
<rect x="469.0" y="106.60" width="4.00" height="3.425" fill="#f1f1f1"/>
<rect x="473.7" y="106.60" width="3.60" height="3.425" fill="#ccd2ec"/>
<rect x="477.9" y="106.60" width="3.70" height="3.425" fill="#cdc1e6"/>
<rect x="483.0" y="109.62" width="21.00" height="3.425" fill="#fdc482"/>
<rect x="504.0" y="109.62" width="21.10" height="3.425" fill="#dcdcdc"/>
<rect x="525.1" y="109.62" width="21.10" height="3.425" fill="#4d4d4d"/>
<rect x="546.2" y="109.62" width="21.10" height="3.425" fill="#4d4d4d"/>
<rect x="567.3" y="109.62" width="21.10" height="3.425" fill="#dcdcdc"/>
<rect x="469.0" y="109.62" width="4.00" height="3.425" fill="#f1f1f1"/>
<rect x="473.7" y="109.62" width="3.60" height="3.425" fill="#ccd2ec"/>
<rect x="477.9" y="109.62" width="3.70" height="3.425" fill="#cdc1e6"/>
<rect x="483.0" y="112.65" width="21.00" height="3.425" fill="#fdc888"/>
<rect x="504.0" y="112.65" width="21.10" height="3.425" fill="#dcdcdc"/>
<rect x="525.1" y="112.65" width="21.10" height="3.425" fill="#dcdcdc"/>
<rect x="546.2" y="112.65" width="21.10" height="3.425" fill="#dcdcdc"/>
<rect x="567.3" y="112.65" width="21.10" height="3.425" fill="#dcdcdc"/>
<rect x="469.0" y="112.65" width="4.00" height="3.425" fill="#f1f1f1"/>
<rect x="473.7" y="112.65" width="3.60" height="3.425" fill="#ccd2ec"/>
<rect x="477.9" y="112.65" width="3.70" height="3.425" fill="#8f7fca"/>
<rect x="483.0" y="115.67" width="21.00" height="3.425" fill="#fdcc8c"/>
<rect x="504.0" y="115.67" width="21.10" height="3.425" fill="#dcdcdc"/>
<rect x="525.1" y="115.67" width="21.10" height="3.425" fill="#dcdcdc"/>
<rect x="546.2" y="115.67" width="21.10" height="3.425" fill="#dcdcdc"/>
<rect x="567.3" y="115.67" width="21.10" height="3.425" fill="#dcdcdc"/>
<rect x="469.0" y="115.67" width="4.00" height="3.425" fill="#bdbdbd"/>
<rect x="473.7" y="115.67" width="3.60" height="3.425" fill="#ccd2ec"/>
<rect x="477.9" y="115.67" width="3.70" height="3.425" fill="#cdc1e6"/>
<rect x="483.0" y="118.70" width="21.00" height="3.425" fill="#fdd090"/>
<rect x="504.0" y="118.70" width="21.10" height="3.425" fill="#dcdcdc"/>
<rect x="525.1" y="118.70" width="21.10" height="3.425" fill="#dcdcdc"/>
<rect x="546.2" y="118.70" width="21.10" height="3.425" fill="#dcdcdc"/>
<rect x="567.3" y="118.70" width="21.10" height="3.425" fill="#dcdcdc"/>
<rect x="469.0" y="118.70" width="4.00" height="3.425" fill="#f1f1f1"/>
<rect x="473.7" y="118.70" width="3.60" height="3.425" fill="#ccd2ec"/>
<rect x="477.9" y="118.70" width="3.70" height="3.425" fill="#cdc1e6"/>
<rect x="483.0" y="121.72" width="21.00" height="3.425" fill="#fdd28e"/>
<rect x="504.0" y="121.72" width="21.10" height="3.425" fill="#dcdcdc"/>
<rect x="525.1" y="121.72" width="21.10" height="3.425" fill="#dcdcdc"/>
<rect x="546.2" y="121.72" width="21.10" height="3.425" fill="#dcdcdc"/>
<rect x="567.3" y="121.72" width="21.10" height="3.425" fill="#dcdcdc"/>
<rect x="469.0" y="121.72" width="4.00" height="3.425" fill="#f1f1f1"/>
<rect x="473.7" y="121.72" width="3.60" height="3.425" fill="#ccd2ec"/>
<rect x="477.9" y="121.72" width="3.70" height="3.425" fill="#cdc1e6"/>
<rect x="483.0" y="124.75" width="21.00" height="3.425" fill="#fdd490"/>
<rect x="504.0" y="124.75" width="21.10" height="3.425" fill="#dcdcdc"/>
<rect x="525.1" y="124.75" width="21.10" height="3.425" fill="#dcdcdc"/>
<rect x="546.2" y="124.75" width="21.10" height="3.425" fill="#dcdcdc"/>
<rect x="567.3" y="124.75" width="21.10" height="3.425" fill="#dcdcdc"/>
<rect x="469.0" y="124.75" width="4.00" height="3.425" fill="#f1f1f1"/>
<rect x="473.7" y="124.75" width="3.60" height="3.425" fill="#6e7ec6"/>
<rect x="477.9" y="124.75" width="3.70" height="3.425" fill="#cdc1e6"/>
<rect x="483.0" y="127.77" width="21.00" height="3.425" fill="#fdd692"/>
<rect x="504.0" y="127.77" width="21.10" height="3.425" fill="#dcdcdc"/>
<rect x="525.1" y="127.77" width="21.10" height="3.425" fill="#dcdcdc"/>
<rect x="546.2" y="127.77" width="21.10" height="3.425" fill="#dcdcdc"/>
<rect x="567.3" y="127.77" width="21.10" height="3.425" fill="#dcdcdc"/>
<rect x="469.0" y="127.77" width="4.00" height="3.425" fill="#f1f1f1"/>
<rect x="473.7" y="127.77" width="3.60" height="3.425" fill="#ccd2ec"/>
<rect x="477.9" y="127.77" width="3.70" height="3.425" fill="#cdc1e6"/>
<rect x="483.0" y="130.80" width="21.00" height="3.425" fill="#fdd894"/>
<rect x="504.0" y="130.80" width="21.10" height="3.425" fill="#dcdcdc"/>
<rect x="525.1" y="130.80" width="21.10" height="3.425" fill="#dcdcdc"/>
<rect x="546.2" y="130.80" width="21.10" height="3.425" fill="#dcdcdc"/>
<rect x="567.3" y="130.80" width="21.10" height="3.425" fill="#dcdcdc"/>
<rect x="469.0" y="130.80" width="4.00" height="3.425" fill="#f1f1f1"/>
<rect x="473.7" y="130.80" width="3.60" height="3.425" fill="#ccd2ec"/>
<rect x="477.9" y="130.80" width="3.70" height="3.425" fill="#cdc1e6"/>
<rect x="483.0" y="133.82" width="21.00" height="3.425" fill="#fdda96"/>
<rect x="504.0" y="133.82" width="21.10" height="3.425" fill="#dcdcdc"/>
<rect x="525.1" y="133.82" width="21.10" height="3.425" fill="#dcdcdc"/>
<rect x="546.2" y="133.82" width="21.10" height="3.425" fill="#dcdcdc"/>
<rect x="567.3" y="133.82" width="21.10" height="3.425" fill="#dcdcdc"/>
<rect x="469.0" y="133.82" width="4.00" height="3.425" fill="#f1f1f1"/>
<rect x="473.7" y="133.82" width="3.60" height="3.425" fill="#ccd2ec"/>
<rect x="477.9" y="133.82" width="3.70" height="3.425" fill="#cdc1e6"/>
<rect x="483.0" y="136.85" width="21.00" height="3.425" fill="#dcdcdc"/>
<rect x="504.0" y="136.85" width="21.10" height="3.425" fill="#fde08e"/>
<rect x="525.1" y="136.85" width="21.10" height="3.425" fill="#dcdcdc"/>
<rect x="546.2" y="136.85" width="21.10" height="3.425" fill="#dcdcdc"/>
<rect x="567.3" y="136.85" width="21.10" height="3.425" fill="#dcdcdc"/>
<rect x="469.0" y="136.85" width="4.00" height="3.425" fill="#f1f1f1"/>
<rect x="473.7" y="136.85" width="3.60" height="3.425" fill="#ccd2ec"/>
<rect x="477.9" y="136.85" width="3.70" height="3.425" fill="#cdc1e6"/>
<rect x="483.0" y="139.88" width="21.00" height="3.425" fill="#fde298"/>
<rect x="504.0" y="139.88" width="21.10" height="3.425" fill="#dcdcdc"/>
<rect x="525.1" y="139.88" width="21.10" height="3.425" fill="#dcdcdc"/>
<rect x="546.2" y="139.88" width="21.10" height="3.425" fill="#dcdcdc"/>
<rect x="567.3" y="139.88" width="21.10" height="3.425" fill="#dcdcdc"/>
<rect x="469.0" y="139.88" width="4.00" height="3.425" fill="#f1f1f1"/>
<rect x="473.7" y="139.88" width="3.60" height="3.425" fill="#ccd2ec"/>
<rect x="477.9" y="139.88" width="3.70" height="3.425" fill="#cdc1e6"/>
<rect x="483.0" y="142.90" width="21.00" height="3.425" fill="#fde49a"/>
<rect x="504.0" y="142.90" width="21.10" height="3.425" fill="#dcdcdc"/>
<rect x="525.1" y="142.90" width="21.10" height="3.425" fill="#dcdcdc"/>
<rect x="546.2" y="142.90" width="21.10" height="3.425" fill="#dcdcdc"/>
<rect x="567.3" y="142.90" width="21.10" height="3.425" fill="#dcdcdc"/>
<rect x="469.0" y="142.90" width="4.00" height="3.425" fill="#f1f1f1"/>
<rect x="473.7" y="142.90" width="3.60" height="3.425" fill="#ccd2ec"/>
<rect x="477.9" y="142.90" width="3.70" height="3.425" fill="#cdc1e6"/>
<rect x="483.0" y="145.93" width="21.00" height="3.425" fill="#fde69c"/>
<rect x="504.0" y="145.93" width="21.10" height="3.425" fill="#dcdcdc"/>
<rect x="525.1" y="145.93" width="21.10" height="3.425" fill="#dcdcdc"/>
<rect x="546.2" y="145.93" width="21.10" height="3.425" fill="#4d4d4d"/>
<rect x="567.3" y="145.93" width="21.10" height="3.425" fill="#dcdcdc"/>
<rect x="469.0" y="145.93" width="4.00" height="3.425" fill="#f1f1f1"/>
<rect x="473.7" y="145.93" width="3.60" height="3.425" fill="#ccd2ec"/>
<rect x="477.9" y="145.93" width="3.70" height="3.425" fill="#cdc1e6"/>
<rect x="483.0" y="148.95" width="21.00" height="3.425" fill="#fee8a0"/>
<rect x="504.0" y="148.95" width="21.10" height="3.425" fill="#dcdcdc"/>
<rect x="525.1" y="148.95" width="21.10" height="3.425" fill="#dcdcdc"/>
<rect x="546.2" y="148.95" width="21.10" height="3.425" fill="#dcdcdc"/>
<rect x="567.3" y="148.95" width="21.10" height="3.425" fill="#dcdcdc"/>
<rect x="469.0" y="148.95" width="4.00" height="3.425" fill="#f1f1f1"/>
<rect x="473.7" y="148.95" width="3.60" height="3.425" fill="#ccd2ec"/>
<rect x="477.9" y="148.95" width="3.70" height="3.425" fill="#cdc1e6"/>
<rect x="483.0" y="151.97" width="21.00" height="3.425" fill="#fee8a0"/>
<rect x="504.0" y="151.97" width="21.10" height="3.425" fill="#dcdcdc"/>
<rect x="525.1" y="151.97" width="21.10" height="3.425" fill="#dcdcdc"/>
<rect x="546.2" y="151.97" width="21.10" height="3.425" fill="#4d4d4d"/>
<rect x="567.3" y="151.97" width="21.10" height="3.425" fill="#dcdcdc"/>
<rect x="469.0" y="151.97" width="4.00" height="3.425" fill="#f1f1f1"/>
<rect x="473.7" y="151.97" width="3.60" height="3.425" fill="#ccd2ec"/>
<rect x="477.9" y="151.97" width="3.70" height="3.425" fill="#cdc1e6"/>
<rect x="483.0" y="155.00" width="21.00" height="3.425" fill="#feeaa4"/>
<rect x="504.0" y="155.00" width="21.10" height="3.425" fill="#dcdcdc"/>
<rect x="525.1" y="155.00" width="21.10" height="3.425" fill="#dcdcdc"/>
<rect x="546.2" y="155.00" width="21.10" height="3.425" fill="#dcdcdc"/>
<rect x="567.3" y="155.00" width="21.10" height="3.425" fill="#dcdcdc"/>
<rect x="469.0" y="155.00" width="4.00" height="3.425" fill="#bdbdbd"/>
<rect x="473.7" y="155.00" width="3.60" height="3.425" fill="#ccd2ec"/>
<rect x="477.9" y="155.00" width="3.70" height="3.425" fill="#cdc1e6"/>
<rect x="483.0" y="158.02" width="21.00" height="3.425" fill="#feeca8"/>
<rect x="504.0" y="158.02" width="21.10" height="3.425" fill="#feeca8"/>
<rect x="525.1" y="158.02" width="21.10" height="3.425" fill="#dcdcdc"/>
<rect x="546.2" y="158.02" width="21.10" height="3.425" fill="#dcdcdc"/>
<rect x="567.3" y="158.02" width="21.10" height="3.425" fill="#dcdcdc"/>
<rect x="469.0" y="158.02" width="4.00" height="3.425" fill="#f1f1f1"/>
<rect x="473.7" y="158.02" width="3.60" height="3.425" fill="#ccd2ec"/>
<rect x="477.9" y="158.02" width="3.70" height="3.425" fill="#cdc1e6"/>
<rect x="483.0" y="161.05" width="21.00" height="3.425" fill="#fef0ac"/>
<rect x="504.0" y="161.05" width="21.10" height="3.425" fill="#dcdcdc"/>
<rect x="525.1" y="161.05" width="21.10" height="3.425" fill="#dcdcdc"/>
<rect x="546.2" y="161.05" width="21.10" height="3.425" fill="#4d4d4d"/>
<rect x="567.3" y="161.05" width="21.10" height="3.425" fill="#dcdcdc"/>
<rect x="469.0" y="161.05" width="4.00" height="3.425" fill="#f1f1f1"/>
<rect x="473.7" y="161.05" width="3.60" height="3.425" fill="#6e7ec6"/>
<rect x="477.9" y="161.05" width="3.70" height="3.425" fill="#cdc1e6"/>
<rect x="483.0" y="164.07" width="21.00" height="3.425" fill="#dcdcdc"/>
<rect x="504.0" y="164.07" width="21.10" height="3.425" fill="#fef0ac"/>
<rect x="525.1" y="164.07" width="21.10" height="3.425" fill="#dcdcdc"/>
<rect x="546.2" y="164.07" width="21.10" height="3.425" fill="#dcdcdc"/>
<rect x="567.3" y="164.07" width="21.10" height="3.425" fill="#dcdcdc"/>
<rect x="469.0" y="164.07" width="4.00" height="3.425" fill="#f1f1f1"/>
<rect x="473.7" y="164.07" width="3.60" height="3.425" fill="#ccd2ec"/>
<rect x="477.9" y="164.07" width="3.70" height="3.425" fill="#cdc1e6"/>
<rect x="483.0" y="167.10" width="21.00" height="3.425" fill="#fef2b0"/>
<rect x="504.0" y="167.10" width="21.10" height="3.425" fill="#fef2b0"/>
<rect x="525.1" y="167.10" width="21.10" height="3.425" fill="#4d4d4d"/>
<rect x="546.2" y="167.10" width="21.10" height="3.425" fill="#dcdcdc"/>
<rect x="567.3" y="167.10" width="21.10" height="3.425" fill="#4d4d4d"/>
<rect x="469.0" y="167.10" width="4.00" height="3.425" fill="#f1f1f1"/>
<rect x="473.7" y="167.10" width="3.60" height="3.425" fill="#ccd2ec"/>
<rect x="477.9" y="167.10" width="3.70" height="3.425" fill="#8f7fca"/>
<rect x="483.0" y="170.12" width="21.00" height="3.425" fill="#fef4b4"/>
<rect x="504.0" y="170.12" width="21.10" height="3.425" fill="#dcdcdc"/>
<rect x="525.1" y="170.12" width="21.10" height="3.425" fill="#dcdcdc"/>
<rect x="546.2" y="170.12" width="21.10" height="3.425" fill="#dcdcdc"/>
<rect x="567.3" y="170.12" width="21.10" height="3.425" fill="#dcdcdc"/>
<rect x="469.0" y="170.12" width="4.00" height="3.425" fill="#f1f1f1"/>
<rect x="473.7" y="170.12" width="3.60" height="3.425" fill="#ccd2ec"/>
<rect x="477.9" y="170.12" width="3.70" height="3.425" fill="#cdc1e6"/>
<rect x="483.0" y="173.15" width="21.00" height="3.425" fill="#fef6b8"/>
<rect x="504.0" y="173.15" width="21.10" height="3.425" fill="#dcdcdc"/>
<rect x="525.1" y="173.15" width="21.10" height="3.425" fill="#dcdcdc"/>
<rect x="546.2" y="173.15" width="21.10" height="3.425" fill="#dcdcdc"/>
<rect x="567.3" y="173.15" width="21.10" height="3.425" fill="#dcdcdc"/>
<rect x="469.0" y="173.15" width="4.00" height="3.425" fill="#f1f1f1"/>
<rect x="473.7" y="173.15" width="3.60" height="3.425" fill="#ccd2ec"/>
<rect x="477.9" y="173.15" width="3.70" height="3.425" fill="#cdc1e6"/>
<rect x="483.0" y="176.17" width="21.00" height="3.425" fill="#fef6bc"/>
<rect x="504.0" y="176.17" width="21.10" height="3.425" fill="#fefac4"/>
<rect x="525.1" y="176.17" width="21.10" height="3.425" fill="#dcdcdc"/>
<rect x="546.2" y="176.17" width="21.10" height="3.425" fill="#dcdcdc"/>
<rect x="567.3" y="176.17" width="21.10" height="3.425" fill="#dcdcdc"/>
<rect x="469.0" y="176.17" width="4.00" height="3.425" fill="#f1f1f1"/>
<rect x="473.7" y="176.17" width="3.60" height="3.425" fill="#ccd2ec"/>
<rect x="477.9" y="176.17" width="3.70" height="3.425" fill="#cdc1e6"/>
<rect x="483.0" y="179.20" width="21.00" height="3.425" fill="#dcdcdc"/>
<rect x="504.0" y="179.20" width="21.10" height="3.425" fill="#fefac8"/>
<rect x="525.1" y="179.20" width="21.10" height="3.425" fill="#dcdcdc"/>
<rect x="546.2" y="179.20" width="21.10" height="3.425" fill="#dcdcdc"/>
<rect x="567.3" y="179.20" width="21.10" height="3.425" fill="#dcdcdc"/>
<rect x="469.0" y="179.20" width="4.00" height="3.425" fill="#f1f1f1"/>
<rect x="473.7" y="179.20" width="3.60" height="3.425" fill="#ccd2ec"/>
<rect x="477.9" y="179.20" width="3.70" height="3.425" fill="#cdc1e6"/>
<rect x="483.0" y="182.22" width="21.00" height="3.425" fill="#fefcc4"/>
<rect x="504.0" y="182.22" width="21.10" height="3.425" fill="#dcdcdc"/>
<rect x="525.1" y="182.22" width="21.10" height="3.425" fill="#4d4d4d"/>
<rect x="546.2" y="182.22" width="21.10" height="3.425" fill="#dcdcdc"/>
<rect x="567.3" y="182.22" width="21.10" height="3.425" fill="#4d4d4d"/>
<rect x="469.0" y="182.22" width="4.00" height="3.425" fill="#bdbdbd"/>
<rect x="473.7" y="182.22" width="3.60" height="3.425" fill="#ccd2ec"/>
<rect x="477.9" y="182.22" width="3.70" height="3.425" fill="#cdc1e6"/>
<rect x="483.0" y="185.25" width="21.00" height="3.425" fill="#fefcc4"/>
<rect x="504.0" y="185.25" width="21.10" height="3.425" fill="#dcdcdc"/>
<rect x="525.1" y="185.25" width="21.10" height="3.425" fill="#4d4d4d"/>
<rect x="546.2" y="185.25" width="21.10" height="3.425" fill="#dcdcdc"/>
<rect x="567.3" y="185.25" width="21.10" height="3.425" fill="#dcdcdc"/>
<rect x="469.0" y="185.25" width="4.00" height="3.425" fill="#bdbdbd"/>
<rect x="473.7" y="185.25" width="3.60" height="3.425" fill="#ccd2ec"/>
<rect x="477.9" y="185.25" width="3.70" height="3.425" fill="#cdc1e6"/>
<rect x="483.0" y="188.28" width="21.00" height="3.425" fill="#fcfcc8"/>
<rect x="504.0" y="188.28" width="21.10" height="3.425" fill="#dcdcdc"/>
<rect x="525.1" y="188.28" width="21.10" height="3.425" fill="#dcdcdc"/>
<rect x="546.2" y="188.28" width="21.10" height="3.425" fill="#4d4d4d"/>
<rect x="567.3" y="188.28" width="21.10" height="3.425" fill="#dcdcdc"/>
<rect x="469.0" y="188.28" width="4.00" height="3.425" fill="#bdbdbd"/>
<rect x="473.7" y="188.28" width="3.60" height="3.425" fill="#ccd2ec"/>
<rect x="477.9" y="188.28" width="3.70" height="3.425" fill="#cdc1e6"/>
<rect x="483.0" y="191.30" width="21.00" height="3.425" fill="#fcfcc8"/>
<rect x="504.0" y="191.30" width="21.10" height="3.425" fill="#dcdcdc"/>
<rect x="525.1" y="191.30" width="21.10" height="3.425" fill="#dcdcdc"/>
<rect x="546.2" y="191.30" width="21.10" height="3.425" fill="#dcdcdc"/>
<rect x="567.3" y="191.30" width="21.10" height="3.425" fill="#dcdcdc"/>
<rect x="469.0" y="191.30" width="4.00" height="3.425" fill="#f1f1f1"/>
<rect x="473.7" y="191.30" width="3.60" height="3.425" fill="#ccd2ec"/>
<rect x="477.9" y="191.30" width="3.70" height="3.425" fill="#cdc1e6"/>
<rect x="483.0" y="194.32" width="21.00" height="3.425" fill="#fcfccc"/>
<rect x="504.0" y="194.32" width="21.10" height="3.425" fill="#dcdcdc"/>
<rect x="525.1" y="194.32" width="21.10" height="3.425" fill="#dcdcdc"/>
<rect x="546.2" y="194.32" width="21.10" height="3.425" fill="#4d4d4d"/>
<rect x="567.3" y="194.32" width="21.10" height="3.425" fill="#dcdcdc"/>
<rect x="469.0" y="194.32" width="4.00" height="3.425" fill="#f1f1f1"/>
<rect x="473.7" y="194.32" width="3.60" height="3.425" fill="#ccd2ec"/>
<rect x="477.9" y="194.32" width="3.70" height="3.425" fill="#8f7fca"/>
<rect x="483.0" y="197.35" width="21.00" height="3.425" fill="#dcdcdc"/>
<rect x="504.0" y="197.35" width="21.10" height="3.425" fill="#fafcd0"/>
<rect x="525.1" y="197.35" width="21.10" height="3.425" fill="#dcdcdc"/>
<rect x="546.2" y="197.35" width="21.10" height="3.425" fill="#dcdcdc"/>
<rect x="567.3" y="197.35" width="21.10" height="3.425" fill="#dcdcdc"/>
<rect x="469.0" y="197.35" width="4.00" height="3.425" fill="#f1f1f1"/>
<rect x="473.7" y="197.35" width="3.60" height="3.425" fill="#ccd2ec"/>
<rect x="477.9" y="197.35" width="3.70" height="3.425" fill="#cdc1e6"/>
<rect x="483.0" y="200.38" width="21.00" height="3.425" fill="#dcdcdc"/>
<rect x="504.0" y="200.38" width="21.10" height="3.425" fill="#fafcd0"/>
<rect x="525.1" y="200.38" width="21.10" height="3.425" fill="#dcdcdc"/>
<rect x="546.2" y="200.38" width="21.10" height="3.425" fill="#4d4d4d"/>
<rect x="567.3" y="200.38" width="21.10" height="3.425" fill="#dcdcdc"/>
<rect x="469.0" y="200.38" width="4.00" height="3.425" fill="#f1f1f1"/>
<rect x="473.7" y="200.38" width="3.60" height="3.425" fill="#ccd2ec"/>
<rect x="477.9" y="200.38" width="3.70" height="3.425" fill="#cdc1e6"/>
<rect x="483.0" y="203.40" width="21.00" height="3.425" fill="#f4fadc"/>
<rect x="504.0" y="203.40" width="21.10" height="3.425" fill="#dcdcdc"/>
<rect x="525.1" y="203.40" width="21.10" height="3.425" fill="#dcdcdc"/>
<rect x="546.2" y="203.40" width="21.10" height="3.425" fill="#dcdcdc"/>
<rect x="567.3" y="203.40" width="21.10" height="3.425" fill="#dcdcdc"/>
<rect x="469.0" y="203.40" width="4.00" height="3.425" fill="#f1f1f1"/>
<rect x="473.7" y="203.40" width="3.60" height="3.425" fill="#ccd2ec"/>
<rect x="477.9" y="203.40" width="3.70" height="3.425" fill="#cdc1e6"/>
<rect x="483.0" y="206.42" width="21.00" height="3.425" fill="#f2fade"/>
<rect x="504.0" y="206.42" width="21.10" height="3.425" fill="#dcdcdc"/>
<rect x="525.1" y="206.42" width="21.10" height="3.425" fill="#dcdcdc"/>
<rect x="546.2" y="206.42" width="21.10" height="3.425" fill="#dcdcdc"/>
<rect x="567.3" y="206.42" width="21.10" height="3.425" fill="#dcdcdc"/>
<rect x="469.0" y="206.42" width="4.00" height="3.425" fill="#f1f1f1"/>
<rect x="473.7" y="206.42" width="3.60" height="3.425" fill="#ccd2ec"/>
<rect x="477.9" y="206.42" width="3.70" height="3.425" fill="#cdc1e6"/>
<rect x="483.0" y="209.45" width="21.00" height="3.425" fill="#f0f8e0"/>
<rect x="504.0" y="209.45" width="21.10" height="3.425" fill="#dcdcdc"/>
<rect x="525.1" y="209.45" width="21.10" height="3.425" fill="#dcdcdc"/>
<rect x="546.2" y="209.45" width="21.10" height="3.425" fill="#dcdcdc"/>
<rect x="567.3" y="209.45" width="21.10" height="3.425" fill="#dcdcdc"/>
<rect x="469.0" y="209.45" width="4.00" height="3.425" fill="#f1f1f1"/>
<rect x="473.7" y="209.45" width="3.60" height="3.425" fill="#ccd2ec"/>
<rect x="477.9" y="209.45" width="3.70" height="3.425" fill="#cdc1e6"/>
<rect x="483.0" y="212.47" width="21.00" height="3.425" fill="#f0f8e0"/>
<rect x="504.0" y="212.47" width="21.10" height="3.425" fill="#dcdcdc"/>
<rect x="525.1" y="212.47" width="21.10" height="3.425" fill="#dcdcdc"/>
<rect x="546.2" y="212.47" width="21.10" height="3.425" fill="#dcdcdc"/>
<rect x="567.3" y="212.47" width="21.10" height="3.425" fill="#dcdcdc"/>
<rect x="469.0" y="212.47" width="4.00" height="3.425" fill="#f1f1f1"/>
<rect x="473.7" y="212.47" width="3.60" height="3.425" fill="#ccd2ec"/>
<rect x="477.9" y="212.47" width="3.70" height="3.425" fill="#cdc1e6"/>
<rect x="483.0" y="215.50" width="21.00" height="3.425" fill="#eef8e2"/>
<rect x="504.0" y="215.50" width="21.10" height="3.425" fill="#dcdcdc"/>
<rect x="525.1" y="215.50" width="21.10" height="3.425" fill="#dcdcdc"/>
<rect x="546.2" y="215.50" width="21.10" height="3.425" fill="#dcdcdc"/>
<rect x="567.3" y="215.50" width="21.10" height="3.425" fill="#dcdcdc"/>
<rect x="469.0" y="215.50" width="4.00" height="3.425" fill="#bdbdbd"/>
<rect x="473.7" y="215.50" width="3.60" height="3.425" fill="#ccd2ec"/>
<rect x="477.9" y="215.50" width="3.70" height="3.425" fill="#cdc1e6"/>
<rect x="483.0" y="218.53" width="21.00" height="3.425" fill="#ecf6e4"/>
<rect x="504.0" y="218.53" width="21.10" height="3.425" fill="#dcdcdc"/>
<rect x="525.1" y="218.53" width="21.10" height="3.425" fill="#dcdcdc"/>
<rect x="546.2" y="218.53" width="21.10" height="3.425" fill="#dcdcdc"/>
<rect x="567.3" y="218.53" width="21.10" height="3.425" fill="#dcdcdc"/>
<rect x="469.0" y="218.53" width="4.00" height="3.425" fill="#f1f1f1"/>
<rect x="473.7" y="218.53" width="3.60" height="3.425" fill="#ccd2ec"/>
<rect x="477.9" y="218.53" width="3.70" height="3.425" fill="#cdc1e6"/>
<rect x="483.0" y="221.55" width="21.00" height="3.425" fill="#dcf0f0"/>
<rect x="504.0" y="221.55" width="21.10" height="3.425" fill="#f0f8e0"/>
<rect x="525.1" y="221.55" width="21.10" height="3.425" fill="#dcdcdc"/>
<rect x="546.2" y="221.55" width="21.10" height="3.425" fill="#dcdcdc"/>
<rect x="567.3" y="221.55" width="21.10" height="3.425" fill="#dcdcdc"/>
<rect x="469.0" y="221.55" width="4.00" height="3.425" fill="#f1f1f1"/>
<rect x="473.7" y="221.55" width="3.60" height="3.425" fill="#ccd2ec"/>
<rect x="477.9" y="221.55" width="3.70" height="3.425" fill="#cdc1e6"/>
<rect x="483.0" y="224.57" width="21.00" height="3.425" fill="#f8facc"/>
<rect x="504.0" y="224.57" width="21.10" height="3.425" fill="#d8eef4"/>
<rect x="525.1" y="224.57" width="21.10" height="3.425" fill="#dcdcdc"/>
<rect x="546.2" y="224.57" width="21.10" height="3.425" fill="#dcdcdc"/>
<rect x="567.3" y="224.57" width="21.10" height="3.425" fill="#dcdcdc"/>
<rect x="469.0" y="224.57" width="4.00" height="3.425" fill="#f1f1f1"/>
<rect x="473.7" y="224.57" width="3.60" height="3.425" fill="#ccd2ec"/>
<rect x="477.9" y="224.57" width="3.70" height="3.425" fill="#cdc1e6"/>
<rect x="483.0" y="227.60" width="21.00" height="3.425" fill="#e2f2ee"/>
<rect x="504.0" y="227.60" width="21.10" height="3.425" fill="#dcdcdc"/>
<rect x="525.1" y="227.60" width="21.10" height="3.425" fill="#dcdcdc"/>
<rect x="546.2" y="227.60" width="21.10" height="3.425" fill="#dcdcdc"/>
<rect x="567.3" y="227.60" width="21.10" height="3.425" fill="#dcdcdc"/>
<rect x="469.0" y="227.60" width="4.00" height="3.425" fill="#f1f1f1"/>
<rect x="473.7" y="227.60" width="3.60" height="3.425" fill="#ccd2ec"/>
<rect x="477.9" y="227.60" width="3.70" height="3.425" fill="#cdc1e6"/>
<rect x="483.0" y="230.62" width="21.00" height="3.425" fill="#e0f2f0"/>
<rect x="504.0" y="230.62" width="21.10" height="3.425" fill="#dcdcdc"/>
<rect x="525.1" y="230.62" width="21.10" height="3.425" fill="#dcdcdc"/>
<rect x="546.2" y="230.62" width="21.10" height="3.425" fill="#dcdcdc"/>
<rect x="567.3" y="230.62" width="21.10" height="3.425" fill="#dcdcdc"/>
<rect x="469.0" y="230.62" width="4.00" height="3.425" fill="#f1f1f1"/>
<rect x="473.7" y="230.62" width="3.60" height="3.425" fill="#ccd2ec"/>
<rect x="477.9" y="230.62" width="3.70" height="3.425" fill="#8f7fca"/>
<rect x="483.0" y="233.65" width="21.00" height="3.425" fill="#dcf0f4"/>
<rect x="504.0" y="233.65" width="21.10" height="3.425" fill="#dcdcdc"/>
<rect x="525.1" y="233.65" width="21.10" height="3.425" fill="#dcdcdc"/>
<rect x="546.2" y="233.65" width="21.10" height="3.425" fill="#dcdcdc"/>
<rect x="567.3" y="233.65" width="21.10" height="3.425" fill="#dcdcdc"/>
<rect x="469.0" y="233.65" width="4.00" height="3.425" fill="#f1f1f1"/>
<rect x="473.7" y="233.65" width="3.60" height="3.425" fill="#ccd2ec"/>
<rect x="477.9" y="233.65" width="3.70" height="3.425" fill="#cdc1e6"/>
<rect x="483.0" y="236.67" width="21.00" height="3.425" fill="#d8eef4"/>
<rect x="504.0" y="236.67" width="21.10" height="3.425" fill="#dcdcdc"/>
<rect x="525.1" y="236.67" width="21.10" height="3.425" fill="#dcdcdc"/>
<rect x="546.2" y="236.67" width="21.10" height="3.425" fill="#4d4d4d"/>
<rect x="567.3" y="236.67" width="21.10" height="3.425" fill="#dcdcdc"/>
<rect x="469.0" y="236.67" width="4.00" height="3.425" fill="#f1f1f1"/>
<rect x="473.7" y="236.67" width="3.60" height="3.425" fill="#ccd2ec"/>
<rect x="477.9" y="236.67" width="3.70" height="3.425" fill="#cdc1e6"/>
<rect x="483.0" y="239.70" width="21.00" height="3.425" fill="#d4ecf4"/>
<rect x="504.0" y="239.70" width="21.10" height="3.425" fill="#dcf0f4"/>
<rect x="525.1" y="239.70" width="21.10" height="3.425" fill="#dcdcdc"/>
<rect x="546.2" y="239.70" width="21.10" height="3.425" fill="#dcdcdc"/>
<rect x="567.3" y="239.70" width="21.10" height="3.425" fill="#dcdcdc"/>
<rect x="469.0" y="239.70" width="4.00" height="3.425" fill="#f1f1f1"/>
<rect x="473.7" y="239.70" width="3.60" height="3.425" fill="#6e7ec6"/>
<rect x="477.9" y="239.70" width="3.70" height="3.425" fill="#cdc1e6"/>
<rect x="483.0" y="242.72" width="21.00" height="3.425" fill="#d0eaf2"/>
<rect x="504.0" y="242.72" width="21.10" height="3.425" fill="#dcdcdc"/>
<rect x="525.1" y="242.72" width="21.10" height="3.425" fill="#dcdcdc"/>
<rect x="546.2" y="242.72" width="21.10" height="3.425" fill="#dcdcdc"/>
<rect x="567.3" y="242.72" width="21.10" height="3.425" fill="#dcdcdc"/>
<rect x="469.0" y="242.72" width="4.00" height="3.425" fill="#f1f1f1"/>
<rect x="473.7" y="242.72" width="3.60" height="3.425" fill="#ccd2ec"/>
<rect x="477.9" y="242.72" width="3.70" height="3.425" fill="#8f7fca"/>
<rect x="483.0" y="245.75" width="21.00" height="3.425" fill="#c8e4f0"/>
<rect x="504.0" y="245.75" width="21.10" height="3.425" fill="#c8e4f0"/>
<rect x="525.1" y="245.75" width="21.10" height="3.425" fill="#4d4d4d"/>
<rect x="546.2" y="245.75" width="21.10" height="3.425" fill="#dcdcdc"/>
<rect x="567.3" y="245.75" width="21.10" height="3.425" fill="#4d4d4d"/>
<rect x="469.0" y="245.75" width="4.00" height="3.425" fill="#bdbdbd"/>
<rect x="473.7" y="245.75" width="3.60" height="3.425" fill="#ccd2ec"/>
<rect x="477.9" y="245.75" width="3.70" height="3.425" fill="#cdc1e6"/>
<rect x="483.0" y="248.78" width="21.00" height="3.425" fill="#bcdcec"/>
<rect x="504.0" y="248.78" width="21.10" height="3.425" fill="#dcdcdc"/>
<rect x="525.1" y="248.78" width="21.10" height="3.425" fill="#dcdcdc"/>
<rect x="546.2" y="248.78" width="21.10" height="3.425" fill="#dcdcdc"/>
<rect x="567.3" y="248.78" width="21.10" height="3.425" fill="#dcdcdc"/>
<rect x="469.0" y="248.78" width="4.00" height="3.425" fill="#f1f1f1"/>
<rect x="473.7" y="248.78" width="3.60" height="3.425" fill="#ccd2ec"/>
<rect x="477.9" y="248.78" width="3.70" height="3.425" fill="#cdc1e6"/>
<rect x="483.0" y="251.80" width="21.00" height="3.425" fill="#e4f4f4"/>
<rect x="504.0" y="251.80" width="21.10" height="3.425" fill="#a8d0e8"/>
<rect x="525.1" y="251.80" width="21.10" height="3.425" fill="#dcdcdc"/>
<rect x="546.2" y="251.80" width="21.10" height="3.425" fill="#dcdcdc"/>
<rect x="567.3" y="251.80" width="21.10" height="3.425" fill="#dcdcdc"/>
<rect x="469.0" y="251.80" width="4.00" height="3.425" fill="#f1f1f1"/>
<rect x="473.7" y="251.80" width="3.60" height="3.425" fill="#ccd2ec"/>
<rect x="477.9" y="251.80" width="3.70" height="3.425" fill="#cdc1e6"/>
<rect x="483.0" y="254.82" width="21.00" height="3.425" fill="#a8d0e6"/>
<rect x="504.0" y="254.82" width="21.10" height="3.425" fill="#dcdcdc"/>
<rect x="525.1" y="254.82" width="21.10" height="3.425" fill="#dcdcdc"/>
<rect x="546.2" y="254.82" width="21.10" height="3.425" fill="#dcdcdc"/>
<rect x="567.3" y="254.82" width="21.10" height="3.425" fill="#dcdcdc"/>
<rect x="469.0" y="254.82" width="4.00" height="3.425" fill="#f1f1f1"/>
<rect x="473.7" y="254.82" width="3.60" height="3.425" fill="#ccd2ec"/>
<rect x="477.9" y="254.82" width="3.70" height="3.425" fill="#8f7fca"/>
<rect x="483.0" y="257.85" width="21.00" height="3.425" fill="#a8d0e6"/>
<rect x="504.0" y="257.85" width="21.10" height="3.425" fill="#dcdcdc"/>
<rect x="525.1" y="257.85" width="21.10" height="3.425" fill="#dcdcdc"/>
<rect x="546.2" y="257.85" width="21.10" height="3.425" fill="#dcdcdc"/>
<rect x="567.3" y="257.85" width="21.10" height="3.425" fill="#dcdcdc"/>
<rect x="469.0" y="257.85" width="4.00" height="3.425" fill="#f1f1f1"/>
<rect x="473.7" y="257.85" width="3.60" height="3.425" fill="#ccd2ec"/>
<rect x="477.9" y="257.85" width="3.70" height="3.425" fill="#cdc1e6"/>
<rect x="483.0" y="260.88" width="21.00" height="3.425" fill="#a4cee6"/>
<rect x="504.0" y="260.88" width="21.10" height="3.425" fill="#dcdcdc"/>
<rect x="525.1" y="260.88" width="21.10" height="3.425" fill="#dcdcdc"/>
<rect x="546.2" y="260.88" width="21.10" height="3.425" fill="#dcdcdc"/>
<rect x="567.3" y="260.88" width="21.10" height="3.425" fill="#dcdcdc"/>
<rect x="469.0" y="260.88" width="4.00" height="3.425" fill="#f1f1f1"/>
<rect x="473.7" y="260.88" width="3.60" height="3.425" fill="#ccd2ec"/>
<rect x="477.9" y="260.88" width="3.70" height="3.425" fill="#cdc1e6"/>
<rect x="483.0" y="263.90" width="21.00" height="3.425" fill="#a0cce4"/>
<rect x="504.0" y="263.90" width="21.10" height="3.425" fill="#dcdcdc"/>
<rect x="525.1" y="263.90" width="21.10" height="3.425" fill="#dcdcdc"/>
<rect x="546.2" y="263.90" width="21.10" height="3.425" fill="#dcdcdc"/>
<rect x="567.3" y="263.90" width="21.10" height="3.425" fill="#dcdcdc"/>
<rect x="469.0" y="263.90" width="4.00" height="3.425" fill="#f1f1f1"/>
<rect x="473.7" y="263.90" width="3.60" height="3.425" fill="#ccd2ec"/>
<rect x="477.9" y="263.90" width="3.70" height="3.425" fill="#cdc1e6"/>
<rect x="483.0" y="266.92" width="21.00" height="3.425" fill="#9ccae4"/>
<rect x="504.0" y="266.92" width="21.10" height="3.425" fill="#88b8dc"/>
<rect x="525.1" y="266.92" width="21.10" height="3.425" fill="#dcdcdc"/>
<rect x="546.2" y="266.92" width="21.10" height="3.425" fill="#dcdcdc"/>
<rect x="567.3" y="266.92" width="21.10" height="3.425" fill="#dcdcdc"/>
<rect x="469.0" y="266.92" width="4.00" height="3.425" fill="#f1f1f1"/>
<rect x="473.7" y="266.92" width="3.60" height="3.425" fill="#ccd2ec"/>
<rect x="477.9" y="266.92" width="3.70" height="3.425" fill="#cdc1e6"/>
<rect x="483.0" y="269.95" width="21.00" height="3.425" fill="#9ccae4"/>
<rect x="504.0" y="269.95" width="21.10" height="3.425" fill="#90c4e0"/>
<rect x="525.1" y="269.95" width="21.10" height="3.425" fill="#dcdcdc"/>
<rect x="546.2" y="269.95" width="21.10" height="3.425" fill="#dcdcdc"/>
<rect x="567.3" y="269.95" width="21.10" height="3.425" fill="#dcdcdc"/>
<rect x="469.0" y="269.95" width="4.00" height="3.425" fill="#f1f1f1"/>
<rect x="473.7" y="269.95" width="3.60" height="3.425" fill="#ccd2ec"/>
<rect x="477.9" y="269.95" width="3.70" height="3.425" fill="#cdc1e6"/>
<rect x="483.0" y="272.98" width="21.00" height="3.425" fill="#94c4e2"/>
<rect x="504.0" y="272.98" width="21.10" height="3.425" fill="#dcdcdc"/>
<rect x="525.1" y="272.98" width="21.10" height="3.425" fill="#dcdcdc"/>
<rect x="546.2" y="272.98" width="21.10" height="3.425" fill="#dcdcdc"/>
<rect x="567.3" y="272.98" width="21.10" height="3.425" fill="#dcdcdc"/>
<rect x="469.0" y="272.98" width="4.00" height="3.425" fill="#f1f1f1"/>
<rect x="473.7" y="272.98" width="3.60" height="3.425" fill="#ccd2ec"/>
<rect x="477.9" y="272.98" width="3.70" height="3.425" fill="#cdc1e6"/>
<rect x="483.0" y="276.00" width="21.00" height="3.425" fill="#94c4e2"/>
<rect x="504.0" y="276.00" width="21.10" height="3.425" fill="#dcdcdc"/>
<rect x="525.1" y="276.00" width="21.10" height="3.425" fill="#dcdcdc"/>
<rect x="546.2" y="276.00" width="21.10" height="3.425" fill="#dcdcdc"/>
<rect x="567.3" y="276.00" width="21.10" height="3.425" fill="#dcdcdc"/>
<rect x="469.0" y="276.00" width="4.00" height="3.425" fill="#f1f1f1"/>
<rect x="473.7" y="276.00" width="3.60" height="3.425" fill="#6e7ec6"/>
<rect x="477.9" y="276.00" width="3.70" height="3.425" fill="#cdc1e6"/>
<rect x="483.0" y="279.02" width="21.00" height="3.425" fill="#90c2e0"/>
<rect x="504.0" y="279.02" width="21.10" height="3.425" fill="#84bade"/>
<rect x="525.1" y="279.02" width="21.10" height="3.425" fill="#dcdcdc"/>
<rect x="546.2" y="279.02" width="21.10" height="3.425" fill="#dcdcdc"/>
<rect x="567.3" y="279.02" width="21.10" height="3.425" fill="#dcdcdc"/>
<rect x="469.0" y="279.02" width="4.00" height="3.425" fill="#f1f1f1"/>
<rect x="473.7" y="279.02" width="3.60" height="3.425" fill="#ccd2ec"/>
<rect x="477.9" y="279.02" width="3.70" height="3.425" fill="#cdc1e6"/>
<rect x="483.0" y="282.05" width="21.00" height="3.425" fill="#8cc0de"/>
<rect x="504.0" y="282.05" width="21.10" height="3.425" fill="#6a9ed0"/>
<rect x="525.1" y="282.05" width="21.10" height="3.425" fill="#4d4d4d"/>
<rect x="546.2" y="282.05" width="21.10" height="3.425" fill="#dcdcdc"/>
<rect x="567.3" y="282.05" width="21.10" height="3.425" fill="#dcdcdc"/>
<rect x="469.0" y="282.05" width="4.00" height="3.425" fill="#f1f1f1"/>
<rect x="473.7" y="282.05" width="3.60" height="3.425" fill="#ccd2ec"/>
<rect x="477.9" y="282.05" width="3.70" height="3.425" fill="#cdc1e6"/>
<rect x="483.0" y="285.07" width="21.00" height="3.425" fill="#dcdcdc"/>
<rect x="504.0" y="285.07" width="21.10" height="3.425" fill="#80b4dc"/>
<rect x="525.1" y="285.07" width="21.10" height="3.425" fill="#dcdcdc"/>
<rect x="546.2" y="285.07" width="21.10" height="3.425" fill="#dcdcdc"/>
<rect x="567.3" y="285.07" width="21.10" height="3.425" fill="#dcdcdc"/>
<rect x="469.0" y="285.07" width="4.00" height="3.425" fill="#f1f1f1"/>
<rect x="473.7" y="285.07" width="3.60" height="3.425" fill="#ccd2ec"/>
<rect x="477.9" y="285.07" width="3.70" height="3.425" fill="#cdc1e6"/>
<rect x="483.0" y="288.10" width="21.00" height="3.425" fill="#88bcdc"/>
<rect x="504.0" y="288.10" width="21.10" height="3.425" fill="#6a9ed0"/>
<rect x="525.1" y="288.10" width="21.10" height="3.425" fill="#dcdcdc"/>
<rect x="546.2" y="288.10" width="21.10" height="3.425" fill="#dcdcdc"/>
<rect x="567.3" y="288.10" width="21.10" height="3.425" fill="#dcdcdc"/>
<rect x="469.0" y="288.10" width="4.00" height="3.425" fill="#f1f1f1"/>
<rect x="473.7" y="288.10" width="3.60" height="3.425" fill="#ccd2ec"/>
<rect x="477.9" y="288.10" width="3.70" height="3.425" fill="#cdc1e6"/>
<rect x="483.0" y="291.12" width="21.00" height="3.425" fill="#6ea4d2"/>
<rect x="504.0" y="291.12" width="21.10" height="3.425" fill="#84b8dc"/>
<rect x="525.1" y="291.12" width="21.10" height="3.425" fill="#dcdcdc"/>
<rect x="546.2" y="291.12" width="21.10" height="3.425" fill="#dcdcdc"/>
<rect x="567.3" y="291.12" width="21.10" height="3.425" fill="#dcdcdc"/>
<rect x="469.0" y="291.12" width="4.00" height="3.425" fill="#f1f1f1"/>
<rect x="473.7" y="291.12" width="3.60" height="3.425" fill="#ccd2ec"/>
<rect x="477.9" y="291.12" width="3.70" height="3.425" fill="#cdc1e6"/>
<rect x="483.0" y="294.15" width="21.00" height="3.425" fill="#6ea4d2"/>
<rect x="504.0" y="294.15" width="21.10" height="3.425" fill="#6a9ed0"/>
<rect x="525.1" y="294.15" width="21.10" height="3.425" fill="#dcdcdc"/>
<rect x="546.2" y="294.15" width="21.10" height="3.425" fill="#dcdcdc"/>
<rect x="567.3" y="294.15" width="21.10" height="3.425" fill="#dcdcdc"/>
<rect x="469.0" y="294.15" width="4.00" height="3.425" fill="#bdbdbd"/>
<rect x="473.7" y="294.15" width="3.60" height="3.425" fill="#ccd2ec"/>
<rect x="477.9" y="294.15" width="3.70" height="3.425" fill="#cdc1e6"/>
<rect x="483.0" y="297.18" width="21.00" height="3.425" fill="#6a9ed0"/>
<rect x="504.0" y="297.18" width="21.10" height="3.425" fill="#dcdcdc"/>
<rect x="525.1" y="297.18" width="21.10" height="3.425" fill="#dcdcdc"/>
<rect x="546.2" y="297.18" width="21.10" height="3.425" fill="#dcdcdc"/>
<rect x="567.3" y="297.18" width="21.10" height="3.425" fill="#dcdcdc"/>
<rect x="469.0" y="297.18" width="4.00" height="3.425" fill="#f1f1f1"/>
<rect x="473.7" y="297.18" width="3.60" height="3.425" fill="#ccd2ec"/>
<rect x="477.9" y="297.18" width="3.70" height="3.425" fill="#cdc1e6"/>
<rect x="483.0" y="300.20" width="21.00" height="3.425" fill="#6a9ed0"/>
<rect x="504.0" y="300.20" width="21.10" height="3.425" fill="#dcdcdc"/>
<rect x="525.1" y="300.20" width="21.10" height="3.425" fill="#dcdcdc"/>
<rect x="546.2" y="300.20" width="21.10" height="3.425" fill="#4d4d4d"/>
<rect x="567.3" y="300.20" width="21.10" height="3.425" fill="#dcdcdc"/>
<rect x="469.0" y="300.20" width="4.00" height="3.425" fill="#f1f1f1"/>
<rect x="473.7" y="300.20" width="3.60" height="3.425" fill="#ccd2ec"/>
<rect x="477.9" y="300.20" width="3.70" height="3.425" fill="#cdc1e6"/>
<rect x="483.0" y="303.22" width="21.00" height="3.425" fill="#4a80c0"/>
<rect x="504.0" y="303.22" width="21.10" height="3.425" fill="#90c4e2"/>
<rect x="525.1" y="303.22" width="21.10" height="3.425" fill="#dcdcdc"/>
<rect x="546.2" y="303.22" width="21.10" height="3.425" fill="#dcdcdc"/>
<rect x="567.3" y="303.22" width="21.10" height="3.425" fill="#dcdcdc"/>
<rect x="469.0" y="303.22" width="4.00" height="3.425" fill="#bdbdbd"/>
<rect x="473.7" y="303.22" width="3.60" height="3.425" fill="#ccd2ec"/>
<rect x="477.9" y="303.22" width="3.70" height="3.425" fill="#cdc1e6"/>
<rect x="483.0" y="306.25" width="21.00" height="3.425" fill="#6a9ed0"/>
<rect x="504.0" y="306.25" width="21.10" height="3.425" fill="#5a8cc8"/>
<rect x="525.1" y="306.25" width="21.10" height="3.425" fill="#dcdcdc"/>
<rect x="546.2" y="306.25" width="21.10" height="3.425" fill="#dcdcdc"/>
<rect x="567.3" y="306.25" width="21.10" height="3.425" fill="#dcdcdc"/>
<rect x="469.0" y="306.25" width="4.00" height="3.425" fill="#f1f1f1"/>
<rect x="473.7" y="306.25" width="3.60" height="3.425" fill="#6e7ec6"/>
<rect x="477.9" y="306.25" width="3.70" height="3.425" fill="#cdc1e6"/>
<rect x="483.0" y="309.27" width="21.00" height="3.425" fill="#4e84c2"/>
<rect x="504.0" y="309.27" width="21.10" height="3.425" fill="#5a8cc8"/>
<rect x="525.1" y="309.27" width="21.10" height="3.425" fill="#dcdcdc"/>
<rect x="546.2" y="309.27" width="21.10" height="3.425" fill="#dcdcdc"/>
<rect x="567.3" y="309.27" width="21.10" height="3.425" fill="#dcdcdc"/>
<rect x="469.0" y="309.27" width="4.00" height="3.425" fill="#f1f1f1"/>
<rect x="473.7" y="309.27" width="3.60" height="3.425" fill="#ccd2ec"/>
<rect x="477.9" y="309.27" width="3.70" height="3.425" fill="#cdc1e6"/>
<rect x="483.0" y="312.30" width="21.00" height="3.425" fill="#4a80c0"/>
<rect x="504.0" y="312.30" width="21.10" height="3.425" fill="#dcdcdc"/>
<rect x="525.1" y="312.30" width="21.10" height="3.425" fill="#dcdcdc"/>
<rect x="546.2" y="312.30" width="21.10" height="3.425" fill="#4d4d4d"/>
<rect x="567.3" y="312.30" width="21.10" height="3.425" fill="#dcdcdc"/>
<rect x="469.0" y="312.30" width="4.00" height="3.425" fill="#f1f1f1"/>
<rect x="473.7" y="312.30" width="3.60" height="3.425" fill="#ccd2ec"/>
<rect x="477.9" y="312.30" width="3.70" height="3.425" fill="#cdc1e6"/>
<rect x="483.0" y="315.32" width="21.00" height="3.425" fill="#4a80c0"/>
<rect x="504.0" y="315.32" width="21.10" height="3.425" fill="#4a7ec0"/>
<rect x="525.1" y="315.32" width="21.10" height="3.425" fill="#dcdcdc"/>
<rect x="546.2" y="315.32" width="21.10" height="3.425" fill="#dcdcdc"/>
<rect x="567.3" y="315.32" width="21.10" height="3.425" fill="#dcdcdc"/>
<rect x="469.0" y="315.32" width="4.00" height="3.425" fill="#f1f1f1"/>
<rect x="473.7" y="315.32" width="3.60" height="3.425" fill="#6e7ec6"/>
<rect x="477.9" y="315.32" width="3.70" height="3.425" fill="#cdc1e6"/>
<rect x="483.0" y="318.35" width="21.00" height="3.425" fill="#6a9ed0"/>
<rect x="504.0" y="318.35" width="21.10" height="3.425" fill="#4a7ec0"/>
<rect x="525.1" y="318.35" width="21.10" height="3.425" fill="#dcdcdc"/>
<rect x="546.2" y="318.35" width="21.10" height="3.425" fill="#dcdcdc"/>
<rect x="567.3" y="318.35" width="21.10" height="3.425" fill="#dcdcdc"/>
<rect x="469.0" y="318.35" width="4.00" height="3.425" fill="#f1f1f1"/>
<rect x="473.7" y="318.35" width="3.60" height="3.425" fill="#6e7ec6"/>
<rect x="477.9" y="318.35" width="3.70" height="3.425" fill="#cdc1e6"/>
<rect x="483.0" y="321.38" width="21.00" height="3.425" fill="#3e74b8"/>
<rect x="504.0" y="321.38" width="21.10" height="3.425" fill="#3e74b8"/>
<rect x="525.1" y="321.38" width="21.10" height="3.425" fill="#dcdcdc"/>
<rect x="546.2" y="321.38" width="21.10" height="3.425" fill="#dcdcdc"/>
<rect x="567.3" y="321.38" width="21.10" height="3.425" fill="#dcdcdc"/>
<rect x="469.0" y="321.38" width="4.00" height="3.425" fill="#f1f1f1"/>
<rect x="473.7" y="321.38" width="3.60" height="3.425" fill="#ccd2ec"/>
<rect x="477.9" y="321.38" width="3.70" height="3.425" fill="#cdc1e6"/>
<rect x="483.0" y="324.40" width="21.00" height="3.025" fill="#3a6eb4"/>
<rect x="504.0" y="324.40" width="21.10" height="3.025" fill="#3a6eb4"/>
<rect x="525.1" y="324.40" width="21.10" height="3.025" fill="#dcdcdc"/>
<rect x="546.2" y="324.40" width="21.10" height="3.025" fill="#dcdcdc"/>
<rect x="567.3" y="324.40" width="21.10" height="3.025" fill="#dcdcdc"/>
<rect x="469.0" y="324.40" width="4.00" height="3.025" fill="#f1f1f1"/>
<rect x="473.7" y="324.40" width="3.60" height="3.025" fill="#ccd2ec"/>
<rect x="477.9" y="324.40" width="3.70" height="3.025" fill="#cdc1e6"/>
<line x1="469.20" y1="34.0" x2="469.20" y2="327.43" stroke="#000" stroke-opacity="0.12" stroke-width="0.45"/>
<line x1="472.80" y1="34.0" x2="472.80" y2="327.43" stroke="#000" stroke-opacity="0.12" stroke-width="0.45"/>
<line x1="473.90" y1="34.0" x2="473.90" y2="327.43" stroke="#000" stroke-opacity="0.12" stroke-width="0.45"/>
<line x1="477.10" y1="34.0" x2="477.10" y2="327.43" stroke="#000" stroke-opacity="0.12" stroke-width="0.45"/>
<line x1="478.10" y1="34.0" x2="478.10" y2="327.43" stroke="#000" stroke-opacity="0.12" stroke-width="0.45"/>
<line x1="481.40" y1="34.0" x2="481.40" y2="327.43" stroke="#000" stroke-opacity="0.12" stroke-width="0.45"/>
<line x1="469" y1="37.02" x2="588.4" y2="37.02" stroke="#000" stroke-opacity="0.14" stroke-width="0.55"/>
<line x1="469" y1="40.05" x2="588.4" y2="40.05" stroke="#000" stroke-opacity="0.14" stroke-width="0.55"/>
<line x1="469" y1="43.08" x2="588.4" y2="43.08" stroke="#000" stroke-opacity="0.14" stroke-width="0.55"/>
<line x1="469" y1="46.10" x2="588.4" y2="46.10" stroke="#000" stroke-opacity="0.14" stroke-width="0.55"/>
<line x1="469" y1="49.12" x2="588.4" y2="49.12" stroke="#000" stroke-opacity="0.14" stroke-width="0.55"/>
<line x1="469" y1="52.15" x2="588.4" y2="52.15" stroke="#000" stroke-opacity="0.14" stroke-width="0.55"/>
<line x1="469" y1="55.17" x2="588.4" y2="55.17" stroke="#000" stroke-opacity="0.14" stroke-width="0.55"/>
<line x1="469" y1="58.20" x2="588.4" y2="58.20" stroke="#000" stroke-opacity="0.14" stroke-width="0.55"/>
<line x1="469" y1="61.22" x2="588.4" y2="61.22" stroke="#000" stroke-opacity="0.14" stroke-width="0.55"/>
<line x1="469" y1="64.25" x2="588.4" y2="64.25" stroke="#000" stroke-opacity="0.14" stroke-width="0.55"/>
<line x1="469" y1="67.28" x2="588.4" y2="67.28" stroke="#000" stroke-opacity="0.14" stroke-width="0.55"/>
<line x1="469" y1="70.30" x2="588.4" y2="70.30" stroke="#000" stroke-opacity="0.14" stroke-width="0.55"/>
<line x1="469" y1="73.32" x2="588.4" y2="73.32" stroke="#000" stroke-opacity="0.14" stroke-width="0.55"/>
<line x1="469" y1="76.35" x2="588.4" y2="76.35" stroke="#000" stroke-opacity="0.14" stroke-width="0.55"/>
<line x1="469" y1="79.38" x2="588.4" y2="79.38" stroke="#000" stroke-opacity="0.14" stroke-width="0.55"/>
<line x1="469" y1="82.40" x2="588.4" y2="82.40" stroke="#000" stroke-opacity="0.14" stroke-width="0.55"/>
<line x1="469" y1="85.42" x2="588.4" y2="85.42" stroke="#000" stroke-opacity="0.14" stroke-width="0.55"/>
<line x1="469" y1="88.45" x2="588.4" y2="88.45" stroke="#000" stroke-opacity="0.14" stroke-width="0.55"/>
<line x1="469" y1="91.47" x2="588.4" y2="91.47" stroke="#000" stroke-opacity="0.14" stroke-width="0.55"/>
<line x1="469" y1="94.50" x2="588.4" y2="94.50" stroke="#000" stroke-opacity="0.14" stroke-width="0.55"/>
<line x1="469" y1="97.53" x2="588.4" y2="97.53" stroke="#000" stroke-opacity="0.14" stroke-width="0.55"/>
<line x1="469" y1="100.55" x2="588.4" y2="100.55" stroke="#000" stroke-opacity="0.14" stroke-width="0.55"/>
<line x1="469" y1="103.58" x2="588.4" y2="103.58" stroke="#000" stroke-opacity="0.14" stroke-width="0.55"/>
<line x1="469" y1="106.60" x2="588.4" y2="106.60" stroke="#000" stroke-opacity="0.14" stroke-width="0.55"/>
<line x1="469" y1="109.62" x2="588.4" y2="109.62" stroke="#000" stroke-opacity="0.14" stroke-width="0.55"/>
<line x1="469" y1="112.65" x2="588.4" y2="112.65" stroke="#000" stroke-opacity="0.14" stroke-width="0.55"/>
<line x1="469" y1="115.67" x2="588.4" y2="115.67" stroke="#000" stroke-opacity="0.14" stroke-width="0.55"/>
<line x1="469" y1="118.70" x2="588.4" y2="118.70" stroke="#000" stroke-opacity="0.14" stroke-width="0.55"/>
<line x1="469" y1="121.72" x2="588.4" y2="121.72" stroke="#000" stroke-opacity="0.14" stroke-width="0.55"/>
<line x1="469" y1="124.75" x2="588.4" y2="124.75" stroke="#000" stroke-opacity="0.14" stroke-width="0.55"/>
<line x1="469" y1="127.77" x2="588.4" y2="127.77" stroke="#000" stroke-opacity="0.14" stroke-width="0.55"/>
<line x1="469" y1="130.80" x2="588.4" y2="130.80" stroke="#000" stroke-opacity="0.14" stroke-width="0.55"/>
<line x1="469" y1="133.82" x2="588.4" y2="133.82" stroke="#000" stroke-opacity="0.14" stroke-width="0.55"/>
<line x1="469" y1="136.85" x2="588.4" y2="136.85" stroke="#000" stroke-opacity="0.14" stroke-width="0.55"/>
<line x1="469" y1="139.88" x2="588.4" y2="139.88" stroke="#000" stroke-opacity="0.14" stroke-width="0.55"/>
<line x1="469" y1="142.90" x2="588.4" y2="142.90" stroke="#000" stroke-opacity="0.14" stroke-width="0.55"/>
<line x1="469" y1="145.93" x2="588.4" y2="145.93" stroke="#000" stroke-opacity="0.14" stroke-width="0.55"/>
<line x1="469" y1="148.95" x2="588.4" y2="148.95" stroke="#000" stroke-opacity="0.14" stroke-width="0.55"/>
<line x1="469" y1="151.97" x2="588.4" y2="151.97" stroke="#000" stroke-opacity="0.14" stroke-width="0.55"/>
<line x1="469" y1="155.00" x2="588.4" y2="155.00" stroke="#000" stroke-opacity="0.14" stroke-width="0.55"/>
<line x1="469" y1="158.02" x2="588.4" y2="158.02" stroke="#000" stroke-opacity="0.14" stroke-width="0.55"/>
<line x1="469" y1="161.05" x2="588.4" y2="161.05" stroke="#000" stroke-opacity="0.14" stroke-width="0.55"/>
<line x1="469" y1="164.07" x2="588.4" y2="164.07" stroke="#000" stroke-opacity="0.14" stroke-width="0.55"/>
<line x1="469" y1="167.10" x2="588.4" y2="167.10" stroke="#000" stroke-opacity="0.14" stroke-width="0.55"/>
<line x1="469" y1="170.12" x2="588.4" y2="170.12" stroke="#000" stroke-opacity="0.14" stroke-width="0.55"/>
<line x1="469" y1="173.15" x2="588.4" y2="173.15" stroke="#000" stroke-opacity="0.14" stroke-width="0.55"/>
<line x1="469" y1="176.17" x2="588.4" y2="176.17" stroke="#000" stroke-opacity="0.14" stroke-width="0.55"/>
<line x1="469" y1="179.20" x2="588.4" y2="179.20" stroke="#000" stroke-opacity="0.14" stroke-width="0.55"/>
<line x1="469" y1="182.22" x2="588.4" y2="182.22" stroke="#000" stroke-opacity="0.14" stroke-width="0.55"/>
<line x1="469" y1="185.25" x2="588.4" y2="185.25" stroke="#000" stroke-opacity="0.14" stroke-width="0.55"/>
<line x1="469" y1="188.28" x2="588.4" y2="188.28" stroke="#000" stroke-opacity="0.14" stroke-width="0.55"/>
<line x1="469" y1="191.30" x2="588.4" y2="191.30" stroke="#000" stroke-opacity="0.14" stroke-width="0.55"/>
<line x1="469" y1="194.32" x2="588.4" y2="194.32" stroke="#000" stroke-opacity="0.14" stroke-width="0.55"/>
<line x1="469" y1="197.35" x2="588.4" y2="197.35" stroke="#000" stroke-opacity="0.14" stroke-width="0.55"/>
<line x1="469" y1="200.38" x2="588.4" y2="200.38" stroke="#000" stroke-opacity="0.14" stroke-width="0.55"/>
<line x1="469" y1="203.40" x2="588.4" y2="203.40" stroke="#000" stroke-opacity="0.14" stroke-width="0.55"/>
<line x1="469" y1="206.42" x2="588.4" y2="206.42" stroke="#000" stroke-opacity="0.14" stroke-width="0.55"/>
<line x1="469" y1="209.45" x2="588.4" y2="209.45" stroke="#000" stroke-opacity="0.14" stroke-width="0.55"/>
<line x1="469" y1="212.47" x2="588.4" y2="212.47" stroke="#000" stroke-opacity="0.14" stroke-width="0.55"/>
<line x1="469" y1="215.50" x2="588.4" y2="215.50" stroke="#000" stroke-opacity="0.14" stroke-width="0.55"/>
<line x1="469" y1="218.53" x2="588.4" y2="218.53" stroke="#000" stroke-opacity="0.14" stroke-width="0.55"/>
<line x1="469" y1="221.55" x2="588.4" y2="221.55" stroke="#000" stroke-opacity="0.14" stroke-width="0.55"/>
<line x1="469" y1="224.57" x2="588.4" y2="224.57" stroke="#000" stroke-opacity="0.14" stroke-width="0.55"/>
<line x1="469" y1="227.60" x2="588.4" y2="227.60" stroke="#000" stroke-opacity="0.14" stroke-width="0.55"/>
<line x1="469" y1="230.62" x2="588.4" y2="230.62" stroke="#000" stroke-opacity="0.14" stroke-width="0.55"/>
<line x1="469" y1="233.65" x2="588.4" y2="233.65" stroke="#000" stroke-opacity="0.14" stroke-width="0.55"/>
<line x1="469" y1="236.67" x2="588.4" y2="236.67" stroke="#000" stroke-opacity="0.14" stroke-width="0.55"/>
<line x1="469" y1="239.70" x2="588.4" y2="239.70" stroke="#000" stroke-opacity="0.14" stroke-width="0.55"/>
<line x1="469" y1="242.72" x2="588.4" y2="242.72" stroke="#000" stroke-opacity="0.14" stroke-width="0.55"/>
<line x1="469" y1="245.75" x2="588.4" y2="245.75" stroke="#000" stroke-opacity="0.14" stroke-width="0.55"/>
<line x1="469" y1="248.78" x2="588.4" y2="248.78" stroke="#000" stroke-opacity="0.14" stroke-width="0.55"/>
<line x1="469" y1="251.80" x2="588.4" y2="251.80" stroke="#000" stroke-opacity="0.14" stroke-width="0.55"/>
<line x1="469" y1="254.82" x2="588.4" y2="254.82" stroke="#000" stroke-opacity="0.14" stroke-width="0.55"/>
<line x1="469" y1="257.85" x2="588.4" y2="257.85" stroke="#000" stroke-opacity="0.14" stroke-width="0.55"/>
<line x1="469" y1="260.88" x2="588.4" y2="260.88" stroke="#000" stroke-opacity="0.14" stroke-width="0.55"/>
<line x1="469" y1="263.90" x2="588.4" y2="263.90" stroke="#000" stroke-opacity="0.14" stroke-width="0.55"/>
<line x1="469" y1="266.92" x2="588.4" y2="266.92" stroke="#000" stroke-opacity="0.14" stroke-width="0.55"/>
<line x1="469" y1="269.95" x2="588.4" y2="269.95" stroke="#000" stroke-opacity="0.14" stroke-width="0.55"/>
<line x1="469" y1="272.98" x2="588.4" y2="272.98" stroke="#000" stroke-opacity="0.14" stroke-width="0.55"/>
<line x1="469" y1="276.00" x2="588.4" y2="276.00" stroke="#000" stroke-opacity="0.14" stroke-width="0.55"/>
<line x1="469" y1="279.02" x2="588.4" y2="279.02" stroke="#000" stroke-opacity="0.14" stroke-width="0.55"/>
<line x1="469" y1="282.05" x2="588.4" y2="282.05" stroke="#000" stroke-opacity="0.14" stroke-width="0.55"/>
<line x1="469" y1="285.07" x2="588.4" y2="285.07" stroke="#000" stroke-opacity="0.14" stroke-width="0.55"/>
<line x1="469" y1="288.10" x2="588.4" y2="288.10" stroke="#000" stroke-opacity="0.14" stroke-width="0.55"/>
<line x1="469" y1="291.12" x2="588.4" y2="291.12" stroke="#000" stroke-opacity="0.14" stroke-width="0.55"/>
<line x1="469" y1="294.15" x2="588.4" y2="294.15" stroke="#000" stroke-opacity="0.14" stroke-width="0.55"/>
<line x1="469" y1="297.18" x2="588.4" y2="297.18" stroke="#000" stroke-opacity="0.14" stroke-width="0.55"/>
<line x1="469" y1="300.20" x2="588.4" y2="300.20" stroke="#000" stroke-opacity="0.14" stroke-width="0.55"/>
<line x1="469" y1="303.22" x2="588.4" y2="303.22" stroke="#000" stroke-opacity="0.14" stroke-width="0.55"/>
<line x1="469" y1="306.25" x2="588.4" y2="306.25" stroke="#000" stroke-opacity="0.14" stroke-width="0.55"/>
<line x1="469" y1="309.27" x2="588.4" y2="309.27" stroke="#000" stroke-opacity="0.14" stroke-width="0.55"/>
<line x1="469" y1="312.30" x2="588.4" y2="312.30" stroke="#000" stroke-opacity="0.14" stroke-width="0.55"/>
<line x1="469" y1="315.32" x2="588.4" y2="315.32" stroke="#000" stroke-opacity="0.14" stroke-width="0.55"/>
<line x1="469" y1="318.35" x2="588.4" y2="318.35" stroke="#000" stroke-opacity="0.14" stroke-width="0.55"/>
<line x1="469" y1="321.38" x2="588.4" y2="321.38" stroke="#000" stroke-opacity="0.14" stroke-width="0.55"/>
<line x1="469" y1="324.40" x2="588.4" y2="324.40" stroke="#000" stroke-opacity="0.14" stroke-width="0.55"/>
<line x1="504.0" y1="34.0" x2="504.0" y2="327.43" stroke="#000" stroke-opacity="0.13" stroke-width="0.55"/>
<line x1="525.1" y1="34.0" x2="525.1" y2="327.43" stroke="#000" stroke-opacity="0.13" stroke-width="0.55"/>
<line x1="546.2" y1="34.0" x2="546.2" y2="327.43" stroke="#000" stroke-opacity="0.13" stroke-width="0.55"/>
<line x1="567.3" y1="34.0" x2="567.3" y2="327.43" stroke="#000" stroke-opacity="0.13" stroke-width="0.55"/>
<circle cx="490.50" cy="35.51" r="0.42" fill="#3a2418" fill-opacity="0.8"/>
<circle cx="492.70" cy="35.51" r="0.42" fill="#3a2418" fill-opacity="0.8"/>
<circle cx="494.90" cy="35.51" r="0.42" fill="#3a2418" fill-opacity="0.8"/>
<circle cx="512.65" cy="35.51" r="0.42" fill="#3a2418" fill-opacity="0.8"/>
<circle cx="514.85" cy="35.51" r="0.42" fill="#3a2418" fill-opacity="0.8"/>
<circle cx="491.60" cy="38.54" r="0.42" fill="#3a2418" fill-opacity="0.8"/>
<circle cx="493.80" cy="38.54" r="0.42" fill="#3a2418" fill-opacity="0.8"/>
<circle cx="513.75" cy="38.54" r="0.42" fill="#3a2418" fill-opacity="0.8"/>
<circle cx="490.50" cy="41.56" r="0.42" fill="#3a2418" fill-opacity="0.8"/>
<circle cx="492.70" cy="41.56" r="0.42" fill="#3a2418" fill-opacity="0.8"/>
<circle cx="494.90" cy="41.56" r="0.42" fill="#3a2418" fill-opacity="0.8"/>
<circle cx="512.65" cy="41.56" r="0.42" fill="#3a2418" fill-opacity="0.8"/>
<circle cx="514.85" cy="41.56" r="0.42" fill="#3a2418" fill-opacity="0.8"/>
<circle cx="491.60" cy="44.59" r="0.42" fill="#3a2418" fill-opacity="0.8"/>
<circle cx="493.80" cy="44.59" r="0.42" fill="#3a2418" fill-opacity="0.8"/>
<circle cx="512.65" cy="44.59" r="0.42" fill="#3a2418" fill-opacity="0.8"/>
<circle cx="514.85" cy="44.59" r="0.42" fill="#3a2418" fill-opacity="0.8"/>
<circle cx="491.60" cy="47.61" r="0.42" fill="#3a2418" fill-opacity="0.8"/>
<circle cx="493.80" cy="47.61" r="0.42" fill="#3a2418" fill-opacity="0.8"/>
<circle cx="511.55" cy="47.61" r="0.42" fill="#3a2418" fill-opacity="0.8"/>
<circle cx="513.75" cy="47.61" r="0.42" fill="#3a2418" fill-opacity="0.8"/>
<circle cx="515.95" cy="47.61" r="0.42" fill="#3a2418" fill-opacity="0.8"/>
<circle cx="490.50" cy="50.64" r="0.42" fill="#3a2418" fill-opacity="0.8"/>
<circle cx="492.70" cy="50.64" r="0.42" fill="#3a2418" fill-opacity="0.8"/>
<circle cx="494.90" cy="50.64" r="0.42" fill="#3a2418" fill-opacity="0.8"/>
<circle cx="511.55" cy="50.64" r="0.42" fill="#3a2418" fill-opacity="0.8"/>
<circle cx="513.75" cy="50.64" r="0.42" fill="#3a2418" fill-opacity="0.8"/>
<circle cx="515.95" cy="50.64" r="0.42" fill="#3a2418" fill-opacity="0.8"/>
<circle cx="492.70" cy="53.66" r="0.42" fill="#3a2418" fill-opacity="0.8"/>
<circle cx="491.60" cy="56.69" r="0.42" fill="#3a2418" fill-opacity="0.8"/>
<circle cx="493.80" cy="56.69" r="0.42" fill="#3a2418" fill-opacity="0.8"/>
<circle cx="511.55" cy="56.69" r="0.42" fill="#3a2418" fill-opacity="0.8"/>
<circle cx="513.75" cy="56.69" r="0.42" fill="#3a2418" fill-opacity="0.8"/>
<circle cx="515.95" cy="56.69" r="0.42" fill="#3a2418" fill-opacity="0.8"/>
<circle cx="491.60" cy="59.71" r="0.42" fill="#3a2418" fill-opacity="0.8"/>
<circle cx="493.80" cy="59.71" r="0.42" fill="#3a2418" fill-opacity="0.8"/>
<circle cx="512.65" cy="59.71" r="0.42" fill="#3a2418" fill-opacity="0.8"/>
<circle cx="514.85" cy="59.71" r="0.42" fill="#3a2418" fill-opacity="0.8"/>
<circle cx="492.70" cy="62.74" r="0.42" fill="#3a2418" fill-opacity="0.8"/>
<circle cx="490.50" cy="65.76" r="0.42" fill="#3a2418" fill-opacity="0.8"/>
<circle cx="492.70" cy="65.76" r="0.42" fill="#3a2418" fill-opacity="0.8"/>
<circle cx="494.90" cy="65.76" r="0.42" fill="#3a2418" fill-opacity="0.8"/>
<circle cx="513.75" cy="65.76" r="0.42" fill="#3a2418" fill-opacity="0.8"/>
<circle cx="490.50" cy="68.79" r="0.42" fill="#3a2418" fill-opacity="0.8"/>
<circle cx="492.70" cy="68.79" r="0.42" fill="#3a2418" fill-opacity="0.8"/>
<circle cx="494.90" cy="68.79" r="0.42" fill="#3a2418" fill-opacity="0.8"/>
<circle cx="513.75" cy="68.79" r="0.42" fill="#3a2418" fill-opacity="0.8"/>
<circle cx="492.70" cy="71.81" r="0.42" fill="#3a2418" fill-opacity="0.8"/>
<circle cx="511.55" cy="71.81" r="0.42" fill="#3a2418" fill-opacity="0.8"/>
<circle cx="513.75" cy="71.81" r="0.42" fill="#3a2418" fill-opacity="0.8"/>
<circle cx="515.95" cy="71.81" r="0.42" fill="#3a2418" fill-opacity="0.8"/>
<circle cx="490.50" cy="74.84" r="0.42" fill="#3a2418" fill-opacity="0.8"/>
<circle cx="492.70" cy="74.84" r="0.42" fill="#3a2418" fill-opacity="0.8"/>
<circle cx="494.90" cy="74.84" r="0.42" fill="#3a2418" fill-opacity="0.8"/>
<circle cx="512.65" cy="74.84" r="0.42" fill="#3a2418" fill-opacity="0.8"/>
<circle cx="514.85" cy="74.84" r="0.42" fill="#3a2418" fill-opacity="0.8"/>
<circle cx="492.70" cy="77.86" r="0.42" fill="#3a2418" fill-opacity="0.8"/>
<circle cx="491.60" cy="80.89" r="0.42" fill="#3a2418" fill-opacity="0.8"/>
<circle cx="493.80" cy="80.89" r="0.42" fill="#3a2418" fill-opacity="0.8"/>
<circle cx="512.65" cy="80.89" r="0.42" fill="#3a2418" fill-opacity="0.8"/>
<circle cx="514.85" cy="80.89" r="0.42" fill="#3a2418" fill-opacity="0.8"/>
<circle cx="491.60" cy="89.96" r="0.42" fill="#3a2418" fill-opacity="0.8"/>
<circle cx="493.80" cy="89.96" r="0.42" fill="#3a2418" fill-opacity="0.8"/>
<circle cx="511.55" cy="89.96" r="0.42" fill="#3a2418" fill-opacity="0.8"/>
<circle cx="513.75" cy="89.96" r="0.42" fill="#3a2418" fill-opacity="0.8"/>
<circle cx="515.95" cy="89.96" r="0.42" fill="#3a2418" fill-opacity="0.8"/>
<circle cx="490.50" cy="105.09" r="0.42" fill="#3a2418" fill-opacity="0.8"/>
<circle cx="492.70" cy="105.09" r="0.42" fill="#3a2418" fill-opacity="0.8"/>
<circle cx="494.90" cy="105.09" r="0.42" fill="#3a2418" fill-opacity="0.8"/>
<circle cx="512.65" cy="105.09" r="0.42" fill="#3a2418" fill-opacity="0.8"/>
<circle cx="514.85" cy="105.09" r="0.42" fill="#3a2418" fill-opacity="0.8"/>
<circle cx="491.60" cy="123.24" r="0.42" fill="#3a2418" fill-opacity="0.8"/>
<circle cx="493.80" cy="123.24" r="0.42" fill="#3a2418" fill-opacity="0.8"/>
<circle cx="491.60" cy="132.31" r="0.42" fill="#3a2418" fill-opacity="0.8"/>
<circle cx="493.80" cy="132.31" r="0.42" fill="#3a2418" fill-opacity="0.8"/>
<circle cx="491.60" cy="153.49" r="0.42" fill="#3a2418" fill-opacity="0.8"/>
<circle cx="493.80" cy="153.49" r="0.42" fill="#3a2418" fill-opacity="0.8"/>
<circle cx="491.60" cy="156.51" r="0.42" fill="#3a2418" fill-opacity="0.8"/>
<circle cx="493.80" cy="156.51" r="0.42" fill="#3a2418" fill-opacity="0.8"/>
<circle cx="491.60" cy="159.54" r="0.42" fill="#3a2418" fill-opacity="0.8"/>
<circle cx="493.80" cy="159.54" r="0.42" fill="#3a2418" fill-opacity="0.8"/>
<circle cx="513.75" cy="159.54" r="0.42" fill="#3a2418" fill-opacity="0.8"/>
<circle cx="490.50" cy="168.61" r="0.42" fill="#3a2418" fill-opacity="0.8"/>
<circle cx="492.70" cy="168.61" r="0.42" fill="#3a2418" fill-opacity="0.8"/>
<circle cx="494.90" cy="168.61" r="0.42" fill="#3a2418" fill-opacity="0.8"/>
<circle cx="512.65" cy="168.61" r="0.42" fill="#3a2418" fill-opacity="0.8"/>
<circle cx="514.85" cy="168.61" r="0.42" fill="#3a2418" fill-opacity="0.8"/>
<circle cx="492.70" cy="177.69" r="0.42" fill="#3a2418" fill-opacity="0.8"/>
<circle cx="513.75" cy="177.69" r="0.42" fill="#3a2418" fill-opacity="0.8"/>
<circle cx="490.50" cy="223.06" r="0.42" fill="#3a2418" fill-opacity="0.8"/>
<circle cx="492.70" cy="223.06" r="0.42" fill="#3a2418" fill-opacity="0.8"/>
<circle cx="494.90" cy="223.06" r="0.42" fill="#3a2418" fill-opacity="0.8"/>
<circle cx="513.75" cy="223.06" r="0.42" fill="#3a2418" fill-opacity="0.8"/>
<circle cx="490.50" cy="241.21" r="0.42" fill="#3a2418" fill-opacity="0.8"/>
<circle cx="492.70" cy="241.21" r="0.42" fill="#3a2418" fill-opacity="0.8"/>
<circle cx="494.90" cy="241.21" r="0.42" fill="#3a2418" fill-opacity="0.8"/>
<circle cx="513.75" cy="241.21" r="0.42" fill="#3a2418" fill-opacity="0.8"/>
<circle cx="490.50" cy="247.26" r="0.42" fill="#3a2418" fill-opacity="0.8"/>
<circle cx="492.70" cy="247.26" r="0.42" fill="#3a2418" fill-opacity="0.8"/>
<circle cx="494.90" cy="247.26" r="0.42" fill="#3a2418" fill-opacity="0.8"/>
<circle cx="511.55" cy="247.26" r="0.42" fill="#3a2418" fill-opacity="0.8"/>
<circle cx="513.75" cy="247.26" r="0.42" fill="#3a2418" fill-opacity="0.8"/>
<circle cx="515.95" cy="247.26" r="0.42" fill="#3a2418" fill-opacity="0.8"/>
<circle cx="491.60" cy="265.41" r="0.42" fill="#3a2418" fill-opacity="0.8"/>
<circle cx="493.80" cy="265.41" r="0.42" fill="#3a2418" fill-opacity="0.8"/>
<circle cx="491.60" cy="268.44" r="0.42" fill="#3a2418" fill-opacity="0.8"/>
<circle cx="493.80" cy="268.44" r="0.42" fill="#3a2418" fill-opacity="0.8"/>
<circle cx="511.55" cy="268.44" r="0.42" fill="#3a2418" fill-opacity="0.8"/>
<circle cx="513.75" cy="268.44" r="0.42" fill="#3a2418" fill-opacity="0.8"/>
<circle cx="515.95" cy="268.44" r="0.42" fill="#3a2418" fill-opacity="0.8"/>
<circle cx="491.60" cy="271.46" r="0.42" fill="#3a2418" fill-opacity="0.8"/>
<circle cx="493.80" cy="271.46" r="0.42" fill="#3a2418" fill-opacity="0.8"/>
<circle cx="513.75" cy="271.46" r="0.42" fill="#3a2418" fill-opacity="0.8"/>
<circle cx="491.60" cy="280.54" r="0.42" fill="#3a2418" fill-opacity="0.8"/>
<circle cx="493.80" cy="280.54" r="0.42" fill="#3a2418" fill-opacity="0.8"/>
<circle cx="512.65" cy="280.54" r="0.42" fill="#3a2418" fill-opacity="0.8"/>
<circle cx="514.85" cy="280.54" r="0.42" fill="#3a2418" fill-opacity="0.8"/>
<circle cx="491.60" cy="283.56" r="0.42" fill="#3a2418" fill-opacity="0.8"/>
<circle cx="493.80" cy="283.56" r="0.42" fill="#3a2418" fill-opacity="0.8"/>
<circle cx="511.55" cy="283.56" r="0.42" fill="#3a2418" fill-opacity="0.8"/>
<circle cx="513.75" cy="283.56" r="0.42" fill="#3a2418" fill-opacity="0.8"/>
<circle cx="515.95" cy="283.56" r="0.42" fill="#3a2418" fill-opacity="0.8"/>
<circle cx="491.60" cy="289.61" r="0.42" fill="#3a2418" fill-opacity="0.8"/>
<circle cx="493.80" cy="289.61" r="0.42" fill="#3a2418" fill-opacity="0.8"/>
<circle cx="512.65" cy="289.61" r="0.42" fill="#3a2418" fill-opacity="0.8"/>
<circle cx="514.85" cy="289.61" r="0.42" fill="#3a2418" fill-opacity="0.8"/>
<circle cx="490.50" cy="292.64" r="0.42" fill="#3a2418" fill-opacity="0.8"/>
<circle cx="492.70" cy="292.64" r="0.42" fill="#3a2418" fill-opacity="0.8"/>
<circle cx="494.90" cy="292.64" r="0.42" fill="#3a2418" fill-opacity="0.8"/>
<circle cx="512.65" cy="292.64" r="0.42" fill="#3a2418" fill-opacity="0.8"/>
<circle cx="514.85" cy="292.64" r="0.42" fill="#3a2418" fill-opacity="0.8"/>
<circle cx="490.50" cy="304.74" r="0.42" fill="#3a2418" fill-opacity="0.8"/>
<circle cx="492.70" cy="304.74" r="0.42" fill="#3a2418" fill-opacity="0.8"/>
<circle cx="494.90" cy="304.74" r="0.42" fill="#3a2418" fill-opacity="0.8"/>
<circle cx="511.55" cy="304.74" r="0.42" fill="#3a2418" fill-opacity="0.8"/>
<circle cx="513.75" cy="304.74" r="0.42" fill="#3a2418" fill-opacity="0.8"/>
<circle cx="515.95" cy="304.74" r="0.42" fill="#3a2418" fill-opacity="0.8"/>
<circle cx="491.60" cy="307.76" r="0.42" fill="#3a2418" fill-opacity="0.8"/>
<circle cx="493.80" cy="307.76" r="0.42" fill="#3a2418" fill-opacity="0.8"/>
<circle cx="513.75" cy="307.76" r="0.42" fill="#3a2418" fill-opacity="0.8"/>
<circle cx="490.50" cy="310.79" r="0.42" fill="#3a2418" fill-opacity="0.8"/>
<circle cx="492.70" cy="310.79" r="0.42" fill="#3a2418" fill-opacity="0.8"/>
<circle cx="494.90" cy="310.79" r="0.42" fill="#3a2418" fill-opacity="0.8"/>
<circle cx="511.55" cy="310.79" r="0.42" fill="#3a2418" fill-opacity="0.8"/>
<circle cx="513.75" cy="310.79" r="0.42" fill="#3a2418" fill-opacity="0.8"/>
<circle cx="515.95" cy="310.79" r="0.42" fill="#3a2418" fill-opacity="0.8"/>
<circle cx="491.60" cy="316.84" r="0.42" fill="#3a2418" fill-opacity="0.8"/>
<circle cx="493.80" cy="316.84" r="0.42" fill="#3a2418" fill-opacity="0.8"/>
<circle cx="513.75" cy="316.84" r="0.42" fill="#3a2418" fill-opacity="0.8"/>
<circle cx="491.60" cy="319.86" r="0.42" fill="#3a2418" fill-opacity="0.8"/>
<circle cx="493.80" cy="319.86" r="0.42" fill="#3a2418" fill-opacity="0.8"/>
<circle cx="511.55" cy="319.86" r="0.42" fill="#3a2418" fill-opacity="0.8"/>
<circle cx="513.75" cy="319.86" r="0.42" fill="#3a2418" fill-opacity="0.8"/>
<circle cx="515.95" cy="319.86" r="0.42" fill="#3a2418" fill-opacity="0.8"/>
<circle cx="490.50" cy="322.89" r="0.42" fill="#3a2418" fill-opacity="0.8"/>
<circle cx="492.70" cy="322.89" r="0.42" fill="#3a2418" fill-opacity="0.8"/>
<circle cx="494.90" cy="322.89" r="0.42" fill="#3a2418" fill-opacity="0.8"/>
<circle cx="511.55" cy="322.89" r="0.42" fill="#3a2418" fill-opacity="0.8"/>
<circle cx="513.75" cy="322.89" r="0.42" fill="#3a2418" fill-opacity="0.8"/>
<circle cx="515.95" cy="322.89" r="0.42" fill="#3a2418" fill-opacity="0.8"/>
<circle cx="490.50" cy="325.91" r="0.42" fill="#3a2418" fill-opacity="0.8"/>
<circle cx="492.70" cy="325.91" r="0.42" fill="#3a2418" fill-opacity="0.8"/>
<circle cx="494.90" cy="325.91" r="0.42" fill="#3a2418" fill-opacity="0.8"/>
<circle cx="511.55" cy="325.91" r="0.42" fill="#3a2418" fill-opacity="0.8"/>
<circle cx="513.75" cy="325.91" r="0.42" fill="#3a2418" fill-opacity="0.8"/>
<circle cx="515.95" cy="325.91" r="0.42" fill="#3a2418" fill-opacity="0.8"/>
<circle cx="492.70" cy="83.91" r="0.42" fill="#3a2418" fill-opacity="0.8"/>
<circle cx="492.70" cy="86.94" r="0.42" fill="#3a2418" fill-opacity="0.8"/>
<circle cx="492.70" cy="92.99" r="0.42" fill="#3a2418" fill-opacity="0.8"/>
<circle cx="492.70" cy="96.01" r="0.42" fill="#3a2418" fill-opacity="0.8"/>
<circle cx="513.75" cy="96.01" r="0.42" fill="#3a2418" fill-opacity="0.8"/>
<circle cx="492.70" cy="99.04" r="0.42" fill="#3a2418" fill-opacity="0.8"/>
<circle cx="492.70" cy="102.06" r="0.42" fill="#3a2418" fill-opacity="0.8"/>
<circle cx="492.70" cy="108.11" r="0.42" fill="#3a2418" fill-opacity="0.8"/>
<circle cx="492.70" cy="111.14" r="0.42" fill="#3a2418" fill-opacity="0.8"/>
<circle cx="492.70" cy="114.16" r="0.42" fill="#3a2418" fill-opacity="0.8"/>
<circle cx="492.70" cy="117.19" r="0.42" fill="#3a2418" fill-opacity="0.8"/>
<circle cx="492.70" cy="120.21" r="0.42" fill="#3a2418" fill-opacity="0.8"/>
<circle cx="492.70" cy="126.26" r="0.42" fill="#3a2418" fill-opacity="0.8"/>
<circle cx="492.70" cy="129.29" r="0.42" fill="#3a2418" fill-opacity="0.8"/>
<circle cx="492.70" cy="135.34" r="0.42" fill="#3a2418" fill-opacity="0.8"/>
<circle cx="513.75" cy="138.36" r="0.42" fill="#3a2418" fill-opacity="0.8"/>
<circle cx="492.70" cy="141.39" r="0.42" fill="#3a2418" fill-opacity="0.8"/>
<circle cx="492.70" cy="144.41" r="0.42" fill="#3a2418" fill-opacity="0.8"/>
<circle cx="492.70" cy="147.44" r="0.42" fill="#3a2418" fill-opacity="0.8"/>
<circle cx="492.70" cy="150.46" r="0.42" fill="#3a2418" fill-opacity="0.8"/>
<circle cx="492.70" cy="162.56" r="0.42" fill="#3a2418" fill-opacity="0.8"/>
<circle cx="513.75" cy="165.59" r="0.42" fill="#3a2418" fill-opacity="0.8"/>
<circle cx="492.70" cy="171.64" r="0.42" fill="#3a2418" fill-opacity="0.8"/>
<circle cx="492.70" cy="174.66" r="0.42" fill="#3a2418" fill-opacity="0.8"/>
<circle cx="513.75" cy="180.71" r="0.42" fill="#3a2418" fill-opacity="0.8"/>
<circle cx="492.70" cy="183.74" r="0.42" fill="#3a2418" fill-opacity="0.8"/>
<circle cx="492.70" cy="186.76" r="0.42" fill="#3a2418" fill-opacity="0.8"/>
<circle cx="492.70" cy="189.79" r="0.42" fill="#3a2418" fill-opacity="0.8"/>
<circle cx="492.70" cy="192.81" r="0.42" fill="#3a2418" fill-opacity="0.8"/>
<circle cx="492.70" cy="195.84" r="0.42" fill="#3a2418" fill-opacity="0.8"/>
<circle cx="513.75" cy="198.86" r="0.42" fill="#3a2418" fill-opacity="0.8"/>
<circle cx="513.75" cy="201.89" r="0.42" fill="#3a2418" fill-opacity="0.8"/>
<circle cx="492.70" cy="204.91" r="0.42" fill="#3a2418" fill-opacity="0.8"/>
<circle cx="492.70" cy="207.94" r="0.42" fill="#3a2418" fill-opacity="0.8"/>
<circle cx="492.70" cy="210.96" r="0.42" fill="#3a2418" fill-opacity="0.8"/>
<circle cx="492.70" cy="213.99" r="0.42" fill="#3a2418" fill-opacity="0.8"/>
<circle cx="492.70" cy="217.01" r="0.42" fill="#3a2418" fill-opacity="0.8"/>
<circle cx="492.70" cy="220.04" r="0.42" fill="#3a2418" fill-opacity="0.8"/>
<circle cx="492.70" cy="226.09" r="0.42" fill="#3a2418" fill-opacity="0.8"/>
<circle cx="513.75" cy="226.09" r="0.42" fill="#3a2418" fill-opacity="0.8"/>
<circle cx="492.70" cy="229.11" r="0.42" fill="#3a2418" fill-opacity="0.8"/>
<circle cx="492.70" cy="232.14" r="0.42" fill="#3a2418" fill-opacity="0.8"/>
<circle cx="492.70" cy="235.16" r="0.42" fill="#3a2418" fill-opacity="0.8"/>
<circle cx="492.70" cy="238.19" r="0.42" fill="#3a2418" fill-opacity="0.8"/>
<circle cx="492.70" cy="244.24" r="0.42" fill="#3a2418" fill-opacity="0.8"/>
<circle cx="492.70" cy="250.29" r="0.42" fill="#3a2418" fill-opacity="0.8"/>
<circle cx="492.70" cy="253.31" r="0.42" fill="#3a2418" fill-opacity="0.8"/>
<circle cx="513.75" cy="253.31" r="0.42" fill="#3a2418" fill-opacity="0.8"/>
<circle cx="492.70" cy="256.34" r="0.42" fill="#3a2418" fill-opacity="0.8"/>
<circle cx="492.70" cy="259.36" r="0.42" fill="#3a2418" fill-opacity="0.8"/>
<circle cx="492.70" cy="262.39" r="0.42" fill="#3a2418" fill-opacity="0.8"/>
<circle cx="492.70" cy="274.49" r="0.42" fill="#3a2418" fill-opacity="0.8"/>
<circle cx="492.70" cy="277.51" r="0.42" fill="#3a2418" fill-opacity="0.8"/>
<circle cx="513.75" cy="286.59" r="0.42" fill="#3a2418" fill-opacity="0.8"/>
<circle cx="492.70" cy="295.66" r="0.42" fill="#3a2418" fill-opacity="0.8"/>
<circle cx="513.75" cy="295.66" r="0.42" fill="#3a2418" fill-opacity="0.8"/>
<circle cx="492.70" cy="298.69" r="0.42" fill="#3a2418" fill-opacity="0.8"/>
<circle cx="492.70" cy="301.71" r="0.42" fill="#3a2418" fill-opacity="0.8"/>
<circle cx="492.70" cy="313.81" r="0.42" fill="#3a2418" fill-opacity="0.8"/>
<text x="589.30" y="36.77" font-size="3.4" text-anchor="start" fill="#111" stroke="#111" stroke-width="0.1">GNLY</text>
<text x="589.30" y="39.80" font-size="3.4" text-anchor="start" fill="#111" stroke="#111" stroke-width="0.1">TNFSF10</text>
<text x="589.30" y="42.82" font-size="3.4" text-anchor="start" fill="#111" stroke="#111" stroke-width="0.1">PFN1</text>
<text x="589.30" y="45.85" font-size="3.4" text-anchor="start" fill="#111" stroke="#111" stroke-width="0.1">CD52BP</text>
<text x="589.30" y="48.88" font-size="3.4" text-anchor="start" fill="#111" stroke="#111" stroke-width="0.1">CCL5A</text>
<text x="589.30" y="51.90" font-size="3.4" text-anchor="start" fill="#111" stroke="#111" stroke-width="0.1">RPL27A1</text>
<text x="589.30" y="54.92" font-size="3.4" text-anchor="start" fill="#111" stroke="#111" stroke-width="0.1">FOSB1</text>
<text x="589.30" y="57.95" font-size="3.4" text-anchor="start" fill="#111" stroke="#111" stroke-width="0.1">TXNIP1</text>
<text x="589.30" y="60.98" font-size="3.4" text-anchor="start" fill="#111" stroke="#111" stroke-width="0.1">CD74</text>
<text x="589.30" y="64.00" font-size="3.4" text-anchor="start" fill="#111" stroke="#111" stroke-width="0.1">NKG7</text>
<text x="589.30" y="67.03" font-size="3.4" text-anchor="start" fill="#111" stroke="#111" stroke-width="0.1">HLA-DR</text>
<text x="589.30" y="70.05" font-size="3.4" text-anchor="start" fill="#111" stroke="#111" stroke-width="0.1">CCL4B</text>
<text x="589.30" y="73.08" font-size="3.4" text-anchor="start" fill="#111" stroke="#111" stroke-width="0.1">KLRB1</text>
<text x="589.30" y="76.10" font-size="3.4" text-anchor="start" fill="#111" stroke="#111" stroke-width="0.1">PPK7</text>
<text x="589.30" y="79.12" font-size="3.4" text-anchor="start" fill="#111" stroke="#111" stroke-width="0.1">GSTFTT3</text>
<text x="589.30" y="82.15" font-size="3.4" text-anchor="start" fill="#111" stroke="#111" stroke-width="0.1">AAMXPC2</text>
<text x="589.30" y="85.18" font-size="3.4" text-anchor="start" fill="#111" stroke="#111" stroke-width="0.1">HHBPPR0</text>
<text x="589.30" y="88.20" font-size="3.4" text-anchor="start" fill="#111" stroke="#111" stroke-width="0.1">VSDM0</text>
<text x="589.30" y="91.22" font-size="3.4" text-anchor="start" fill="#111" stroke="#111" stroke-width="0.1">CDA7</text>
<text x="589.30" y="94.25" font-size="3.4" text-anchor="start" fill="#111" stroke="#111" stroke-width="0.1">VLN7</text>
<text x="589.30" y="97.28" font-size="3.4" text-anchor="start" fill="#111" stroke="#111" stroke-width="0.1">FBS3</text>
<text x="589.30" y="100.30" font-size="3.4" text-anchor="start" fill="#111" stroke="#111" stroke-width="0.1">GGXB</text>
<text x="589.30" y="103.33" font-size="3.4" text-anchor="start" fill="#111" stroke="#111" stroke-width="0.1">DVS8</text>
<text x="589.30" y="106.35" font-size="3.4" text-anchor="start" fill="#111" stroke="#111" stroke-width="0.1">NGLEVP4</text>
<text x="589.30" y="109.38" font-size="3.4" text-anchor="start" fill="#111" stroke="#111" stroke-width="0.1">RTNL7</text>
<text x="589.30" y="112.40" font-size="3.4" text-anchor="start" fill="#111" stroke="#111" stroke-width="0.1">IACFB</text>
<text x="589.30" y="115.42" font-size="3.4" text-anchor="start" fill="#111" stroke="#111" stroke-width="0.1">SASCV9</text>
<text x="589.30" y="118.45" font-size="3.4" text-anchor="start" fill="#111" stroke="#111" stroke-width="0.1">THXLV9</text>
<text x="589.30" y="121.48" font-size="3.4" text-anchor="start" fill="#111" stroke="#111" stroke-width="0.1">FFM5</text>
<text x="589.30" y="124.50" font-size="3.4" text-anchor="start" fill="#111" stroke="#111" stroke-width="0.1">KHDF1</text>
<text x="589.30" y="127.53" font-size="3.4" text-anchor="start" fill="#111" stroke="#111" stroke-width="0.1">FPMFBTA</text>
<text x="589.30" y="130.55" font-size="3.4" text-anchor="start" fill="#111" stroke="#111" stroke-width="0.1">PFX0</text>
<text x="589.30" y="133.58" font-size="3.4" text-anchor="start" fill="#111" stroke="#111" stroke-width="0.1">STNH3</text>
<text x="589.30" y="136.60" font-size="3.4" text-anchor="start" fill="#111" stroke="#111" stroke-width="0.1">VCRX</text>
<text x="589.30" y="139.62" font-size="3.4" text-anchor="start" fill="#111" stroke="#111" stroke-width="0.1">SBKB4</text>
<text x="589.30" y="142.65" font-size="3.4" text-anchor="start" fill="#111" stroke="#111" stroke-width="0.1">KBPHF6</text>
<text x="589.30" y="145.67" font-size="3.4" text-anchor="start" fill="#111" stroke="#111" stroke-width="0.1">LEEB</text>
<text x="589.30" y="148.70" font-size="3.4" text-anchor="start" fill="#111" stroke="#111" stroke-width="0.1">SBIETB</text>
<text x="589.30" y="151.72" font-size="3.4" text-anchor="start" fill="#111" stroke="#111" stroke-width="0.1">AGME5</text>
<text x="589.30" y="154.75" font-size="3.4" text-anchor="start" fill="#111" stroke="#111" stroke-width="0.1">PSXSK2</text>
<text x="589.30" y="157.78" font-size="3.4" text-anchor="start" fill="#111" stroke="#111" stroke-width="0.1">XIEANA</text>
<text x="589.30" y="160.80" font-size="3.4" text-anchor="start" fill="#111" stroke="#111" stroke-width="0.1">AIX5</text>
<text x="589.30" y="163.83" font-size="3.4" text-anchor="start" fill="#111" stroke="#111" stroke-width="0.1">HXPINX</text>
<text x="589.30" y="166.85" font-size="3.4" text-anchor="start" fill="#111" stroke="#111" stroke-width="0.1">EEEDND2</text>
<text x="589.30" y="169.88" font-size="3.4" text-anchor="start" fill="#111" stroke="#111" stroke-width="0.1">REC1</text>
<text x="589.30" y="172.90" font-size="3.4" text-anchor="start" fill="#111" stroke="#111" stroke-width="0.1">KEKVL6</text>
<text x="589.30" y="175.93" font-size="3.4" text-anchor="start" fill="#111" stroke="#111" stroke-width="0.1">HFFF6</text>
<text x="589.30" y="178.95" font-size="3.4" text-anchor="start" fill="#111" stroke="#111" stroke-width="0.1">VBTB</text>
<text x="589.30" y="181.97" font-size="3.4" text-anchor="start" fill="#111" stroke="#111" stroke-width="0.1">BANRCNX</text>
<text x="589.30" y="185.00" font-size="3.4" text-anchor="start" fill="#111" stroke="#111" stroke-width="0.1">FHILB3</text>
<text x="589.30" y="188.03" font-size="3.4" text-anchor="start" fill="#111" stroke="#111" stroke-width="0.1">EKKTX</text>
<text x="589.30" y="191.05" font-size="3.4" text-anchor="start" fill="#111" stroke="#111" stroke-width="0.1">SXDVB8</text>
<text x="589.30" y="194.07" font-size="3.4" text-anchor="start" fill="#111" stroke="#111" stroke-width="0.1">LTKKTX</text>
<text x="589.30" y="197.10" font-size="3.4" text-anchor="start" fill="#111" stroke="#111" stroke-width="0.1">GCLGM1</text>
<text x="589.30" y="200.12" font-size="3.4" text-anchor="start" fill="#111" stroke="#111" stroke-width="0.1">PDCCA</text>
<text x="589.30" y="203.15" font-size="3.4" text-anchor="start" fill="#111" stroke="#111" stroke-width="0.1">RTARST8</text>
<text x="589.30" y="206.18" font-size="3.4" text-anchor="start" fill="#111" stroke="#111" stroke-width="0.1">NCHA0</text>
<text x="589.30" y="209.20" font-size="3.4" text-anchor="start" fill="#111" stroke="#111" stroke-width="0.1">PBHIX6</text>
<text x="589.30" y="212.22" font-size="3.4" text-anchor="start" fill="#111" stroke="#111" stroke-width="0.1">PRHNN5</text>
<text x="589.30" y="215.25" font-size="3.4" text-anchor="start" fill="#111" stroke="#111" stroke-width="0.1">HCBS2</text>
<text x="589.30" y="218.28" font-size="3.4" text-anchor="start" fill="#111" stroke="#111" stroke-width="0.1">MGRI3</text>
<text x="589.30" y="221.30" font-size="3.4" text-anchor="start" fill="#111" stroke="#111" stroke-width="0.1">SNKN8</text>
<text x="589.30" y="224.32" font-size="3.4" text-anchor="start" fill="#111" stroke="#111" stroke-width="0.1">AFLGK6</text>
<text x="589.30" y="227.35" font-size="3.4" text-anchor="start" fill="#111" stroke="#111" stroke-width="0.1">ECVFC8</text>
<text x="589.30" y="230.38" font-size="3.4" text-anchor="start" fill="#111" stroke="#111" stroke-width="0.1">NRDFB</text>
<text x="589.30" y="233.40" font-size="3.4" text-anchor="start" fill="#111" stroke="#111" stroke-width="0.1">GLMXA</text>
<text x="589.30" y="236.43" font-size="3.4" text-anchor="start" fill="#111" stroke="#111" stroke-width="0.1">ICA5</text>
<text x="589.30" y="239.45" font-size="3.4" text-anchor="start" fill="#111" stroke="#111" stroke-width="0.1">IETGH9</text>
<text x="589.30" y="242.47" font-size="3.4" text-anchor="start" fill="#111" stroke="#111" stroke-width="0.1">INFNR6</text>
<text x="589.30" y="245.50" font-size="3.4" text-anchor="start" fill="#111" stroke="#111" stroke-width="0.1">RIFN9</text>
<text x="589.30" y="248.53" font-size="3.4" text-anchor="start" fill="#111" stroke="#111" stroke-width="0.1">DGGB5</text>
<text x="589.30" y="251.55" font-size="3.4" text-anchor="start" fill="#111" stroke="#111" stroke-width="0.1">MACTXB6</text>
<text x="589.30" y="254.57" font-size="3.4" text-anchor="start" fill="#111" stroke="#111" stroke-width="0.1">RRHAV2</text>
<text x="589.30" y="257.60" font-size="3.4" text-anchor="start" fill="#111" stroke="#111" stroke-width="0.1">KGR5</text>
<text x="589.30" y="260.62" font-size="3.4" text-anchor="start" fill="#111" stroke="#111" stroke-width="0.1">MFE9</text>
<text x="589.30" y="263.65" font-size="3.4" text-anchor="start" fill="#111" stroke="#111" stroke-width="0.1">PTBKGP6</text>
<text x="589.30" y="266.67" font-size="3.4" text-anchor="start" fill="#111" stroke="#111" stroke-width="0.1">HHXXRX</text>
<text x="589.30" y="269.70" font-size="3.4" text-anchor="start" fill="#111" stroke="#111" stroke-width="0.1">XCC6</text>
<text x="589.30" y="272.72" font-size="3.4" text-anchor="start" fill="#111" stroke="#111" stroke-width="0.1">GEBSTV9</text>
<text x="589.30" y="275.75" font-size="3.4" text-anchor="start" fill="#111" stroke="#111" stroke-width="0.1">SLEI2</text>
<text x="589.30" y="278.77" font-size="3.4" text-anchor="start" fill="#111" stroke="#111" stroke-width="0.1">KKACA</text>
<text x="589.30" y="281.80" font-size="3.4" text-anchor="start" fill="#111" stroke="#111" stroke-width="0.1">FTDA</text>
<text x="589.30" y="284.82" font-size="3.4" text-anchor="start" fill="#111" stroke="#111" stroke-width="0.1">GMIMBF0</text>
<text x="589.30" y="287.85" font-size="3.4" text-anchor="start" fill="#111" stroke="#111" stroke-width="0.1">SINFB1</text>
<text x="589.30" y="290.88" font-size="3.4" text-anchor="start" fill="#111" stroke="#111" stroke-width="0.1">MVI6</text>
<text x="589.30" y="293.90" font-size="3.4" text-anchor="start" fill="#111" stroke="#111" stroke-width="0.1">GTP1</text>
<text x="589.30" y="296.92" font-size="3.4" text-anchor="start" fill="#111" stroke="#111" stroke-width="0.1">HGTBB</text>
<text x="589.30" y="299.95" font-size="3.4" text-anchor="start" fill="#111" stroke="#111" stroke-width="0.1">VFAM7</text>
<text x="589.30" y="302.97" font-size="3.4" text-anchor="start" fill="#111" stroke="#111" stroke-width="0.1">FRAIA</text>
<text x="589.30" y="306.00" font-size="3.4" text-anchor="start" fill="#111" stroke="#111" stroke-width="0.1">GVD4</text>
<text x="589.30" y="309.02" font-size="3.4" text-anchor="start" fill="#111" stroke="#111" stroke-width="0.1">GRMA5</text>
<text x="589.30" y="312.05" font-size="3.4" text-anchor="start" fill="#111" stroke="#111" stroke-width="0.1">IANA</text>
<text x="589.30" y="315.07" font-size="3.4" text-anchor="start" fill="#111" stroke="#111" stroke-width="0.1">FFVTP3</text>
<text x="589.30" y="318.10" font-size="3.4" text-anchor="start" fill="#111" stroke="#111" stroke-width="0.1">TVKX</text>
<text x="589.30" y="321.12" font-size="3.4" text-anchor="start" fill="#111" stroke="#111" stroke-width="0.1">MCHN9</text>
<text x="589.30" y="324.15" font-size="3.4" text-anchor="start" fill="#111" stroke="#111" stroke-width="0.1">MVM9</text>
<text x="589.30" y="327.17" font-size="3.4" text-anchor="start" fill="#111" stroke="#111" stroke-width="0.1">APXX</text>
<text x="492.10" y="329.20" font-size="4.2" text-anchor="start" fill="#222" transform="rotate(90 492.10 329.20)">T cells</text>
<text x="513.40" y="329.20" font-size="4.2" text-anchor="start" fill="#222" transform="rotate(90 513.40 329.20)">CD4T cells</text>
<text x="534.80" y="329.20" font-size="4.2" text-anchor="start" fill="#222" transform="rotate(90 534.80 329.20)">CD8T cells</text>
<text x="556.00" y="329.20" font-size="4.2" text-anchor="start" fill="#222" transform="rotate(90 556.00 329.20)">T naive cells</text>
<text x="577.40" y="329.20" font-size="4.2" text-anchor="start" fill="#222" transform="rotate(90 577.40 329.20)">T memory cells</text>
<text x="469.70" y="329.20" font-size="3.7" text-anchor="start" fill="#222" transform="rotate(90 469.70 329.20)">Stratum</text>
<text x="474.20" y="329.20" font-size="3.7" text-anchor="start" fill="#222" transform="rotate(90 474.20 329.20)">subtelomeric long (0-10Mb)</text>
<text x="478.40" y="329.20" font-size="3.7" text-anchor="start" fill="#222" transform="rotate(90 478.40 329.20)">subtelomeric (&lt;4Mb)</text>
<text x="611.00" y="24.30" font-size="4.0" text-anchor="start" font-weight="bold" fill="#111">LFC per telomere</text>
<text x="611.00" y="29.20" font-size="4.0" text-anchor="start" font-weight="bold" fill="#111">length unit</text>
<defs><linearGradient id="lg" x1="0" y1="0" x2="0" y2="1"><stop offset="0" stop-color="#d73027"/><stop offset="0.4" stop-color="#dc3b28"/><stop offset="0.55" stop-color="#f57c4a"/><stop offset="0.7" stop-color="#fdd08c"/><stop offset="0.78" stop-color="#ffffc4"/><stop offset="0.86" stop-color="#c4e2ef"/><stop offset="0.93" stop-color="#74a8d3"/><stop offset="1" stop-color="#3d6fb5"/></linearGradient></defs>
<rect x="611.6" y="34.0" width="4.4" height="5.3" fill="#444"/>
<rect x="611.6" y="39.3" width="4.4" height="54.6" fill="url(#lg)"/>
<text x="617.20" y="35.30" font-size="3.5" text-anchor="start" fill="#333">Not tested</text>
<text x="617.20" y="40.50" font-size="3.5" text-anchor="start" fill="#333">Positive</text>
<text x="617.20" y="76.70" font-size="3.5" text-anchor="start" fill="#333">Zero</text>
<text x="617.20" y="95.30" font-size="3.5" text-anchor="start" fill="#333">Negative</text>
<text x="638.20" y="37.00" font-size="3.9" text-anchor="start" fill="#333">Stratum</text>
<rect x="638.2" y="38.35" width="5.6" height="5.75" fill="#bdbdbd" stroke="#fff" stroke-width="0.3"/>
<text x="645.30" y="42.45" font-size="3.4" text-anchor="start" fill="#333">yes</text>
<rect x="638.2" y="44.10" width="5.6" height="5.75" fill="#ebebeb" stroke="#fff" stroke-width="0.3"/>
<text x="645.30" y="48.20" font-size="3.4" text-anchor="start" fill="#333">no</text>
<text x="638.20" y="55.50" font-size="3.9" text-anchor="start" fill="#333">subtelomeric long (0-10Mb)</text>
<rect x="638.2" y="56.85" width="5.6" height="5.75" fill="#7f8ccc" stroke="#fff" stroke-width="0.3"/>
<text x="645.30" y="60.95" font-size="3.4" text-anchor="start" fill="#333">yes</text>
<rect x="638.2" y="62.60" width="5.6" height="5.75" fill="#d3d7ee" stroke="#fff" stroke-width="0.3"/>
<text x="645.30" y="66.70" font-size="3.4" text-anchor="start" fill="#333">no</text>
<rect x="638.2" y="68.35" width="5.6" height="5.75" fill="#f0f0f0" stroke="#fff" stroke-width="0.3"/>
<text x="645.30" y="72.45" font-size="3.4" text-anchor="start" fill="#333">NA</text>
<text x="638.20" y="81.20" font-size="3.9" text-anchor="start" fill="#333">subtelomeric (&lt;4Mb)</text>
<rect x="638.2" y="82.55" width="5.6" height="5.75" fill="#9887cc" stroke="#fff" stroke-width="0.3"/>
<text x="645.30" y="86.65" font-size="3.4" text-anchor="start" fill="#333">yes</text>
<rect x="638.2" y="88.30" width="5.6" height="5.75" fill="#d8cfec" stroke="#fff" stroke-width="0.3"/>
<text x="645.30" y="92.40" font-size="3.4" text-anchor="start" fill="#333">no</text>
<rect x="638.2" y="94.05" width="5.6" height="5.75" fill="#f0f0f0" stroke="#fff" stroke-width="0.3"/>
<text x="645.30" y="98.15" font-size="3.4" text-anchor="start" fill="#333">NA</text>
</svg></body></html>
